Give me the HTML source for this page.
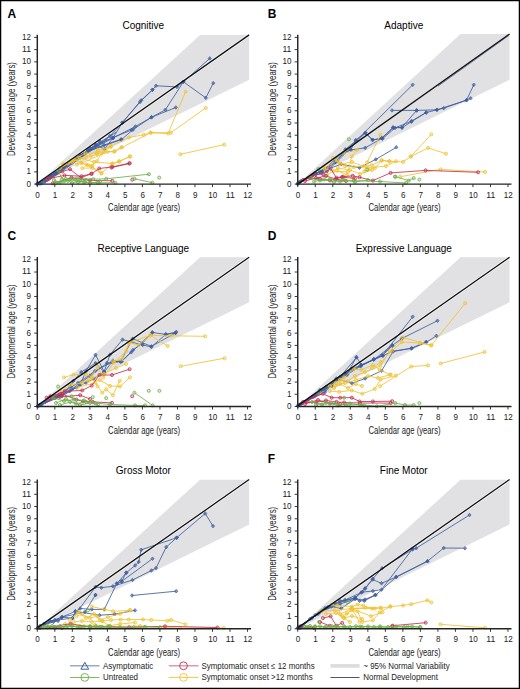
<!DOCTYPE html>
<html><head><meta charset="utf-8"><style>
html,body{margin:0;padding:0;background:#fff;}
svg{display:block;}
</style></head><body>
<svg width="520" height="689" viewBox="0 0 520 689">
<rect x="0" y="0" width="520" height="689" fill="#fff"/>
<text x="7.4" y="17.9" font-family="Liberation Sans" font-size="12" font-weight="bold">A</text>
<text x="143.3" y="29.4" font-family="Liberation Sans" font-size="10" text-anchor="middle">Cognitive</text>
<polygon fill="#e1e1e3" points="37.3,184.1 200.09,34.96 249.12,34.96 249.12,79.75"/>
<line x1="37.3" y1="183.2" x2="249.12" y2="34.86" stroke="#fff" stroke-opacity="0.8" stroke-width="2.8"/>
<polyline fill="none" stroke="#3d5d9e" stroke-width="0.85" points="44,182.7 56,174.3 68,165.9 80,157.4 92,149 104,140.5 116,132.1"/>
<polyline fill="none" stroke="#3d5d9e" stroke-width="0.85" points="48,180.9 60,172.5 72,164 84,155.6 96,147.2 108,138.7"/>
<polyline fill="none" stroke="#3d5d9e" stroke-width="0.85" points="37.4,184 50,176.5 70,162.5 95.8,145 104.4,149 113,138 122.3,122.7 141.2,100.3 152.5,89.8 156,85.8 177,86.9 183.4,81.8 209.8,58.4"/>
<path d="M37.4,182.2l1.6,1.8l-1.6,1.8l-1.6,-1.8z" fill="#3d5d9e" fill-opacity="0.6" stroke="#3d5d9e" stroke-width="0.7"/>
<path d="M50,174.7l1.6,1.8l-1.6,1.8l-1.6,-1.8z" fill="#3d5d9e" fill-opacity="0.6" stroke="#3d5d9e" stroke-width="0.7"/>
<path d="M70,160.7l1.6,1.8l-1.6,1.8l-1.6,-1.8z" fill="#3d5d9e" fill-opacity="0.6" stroke="#3d5d9e" stroke-width="0.7"/>
<path d="M95.8,143.2l1.6,1.8l-1.6,1.8l-1.6,-1.8z" fill="#3d5d9e" fill-opacity="0.6" stroke="#3d5d9e" stroke-width="0.7"/>
<path d="M104.4,147.2l1.6,1.8l-1.6,1.8l-1.6,-1.8z" fill="#3d5d9e" fill-opacity="0.6" stroke="#3d5d9e" stroke-width="0.7"/>
<path d="M113,136.2l1.6,1.8l-1.6,1.8l-1.6,-1.8z" fill="#3d5d9e" fill-opacity="0.6" stroke="#3d5d9e" stroke-width="0.7"/>
<path d="M122.3,120.9l1.6,1.8l-1.6,1.8l-1.6,-1.8z" fill="#3d5d9e" fill-opacity="0.6" stroke="#3d5d9e" stroke-width="0.7"/>
<path d="M141.2,98.5l1.6,1.8l-1.6,1.8l-1.6,-1.8z" fill="#3d5d9e" fill-opacity="0.6" stroke="#3d5d9e" stroke-width="0.7"/>
<path d="M152.5,88l1.6,1.8l-1.6,1.8l-1.6,-1.8z" fill="#3d5d9e" fill-opacity="0.6" stroke="#3d5d9e" stroke-width="0.7"/>
<path d="M156,84l1.6,1.8l-1.6,1.8l-1.6,-1.8z" fill="#3d5d9e" fill-opacity="0.6" stroke="#3d5d9e" stroke-width="0.7"/>
<path d="M177,85.1l1.6,1.8l-1.6,1.8l-1.6,-1.8z" fill="#3d5d9e" fill-opacity="0.6" stroke="#3d5d9e" stroke-width="0.7"/>
<path d="M183.4,80l1.6,1.8l-1.6,1.8l-1.6,-1.8z" fill="#3d5d9e" fill-opacity="0.6" stroke="#3d5d9e" stroke-width="0.7"/>
<path d="M209.8,56.6l1.6,1.8l-1.6,1.8l-1.6,-1.8z" fill="#3d5d9e" fill-opacity="0.6" stroke="#3d5d9e" stroke-width="0.7"/>
<polyline fill="none" stroke="#3d5d9e" stroke-width="0.85" points="37.4,184 55,173 80,155.5 113,138 135.4,126.5 151.5,117.3 165.4,109.8 183.4,81.8 205.8,97.9 213.3,83.1"/>
<path d="M37.4,182.2l1.6,1.8l-1.6,1.8l-1.6,-1.8z" fill="#3d5d9e" fill-opacity="0.6" stroke="#3d5d9e" stroke-width="0.7"/>
<path d="M55,171.2l1.6,1.8l-1.6,1.8l-1.6,-1.8z" fill="#3d5d9e" fill-opacity="0.6" stroke="#3d5d9e" stroke-width="0.7"/>
<path d="M80,153.7l1.6,1.8l-1.6,1.8l-1.6,-1.8z" fill="#3d5d9e" fill-opacity="0.6" stroke="#3d5d9e" stroke-width="0.7"/>
<path d="M113,136.2l1.6,1.8l-1.6,1.8l-1.6,-1.8z" fill="#3d5d9e" fill-opacity="0.6" stroke="#3d5d9e" stroke-width="0.7"/>
<path d="M135.4,124.7l1.6,1.8l-1.6,1.8l-1.6,-1.8z" fill="#3d5d9e" fill-opacity="0.6" stroke="#3d5d9e" stroke-width="0.7"/>
<path d="M151.5,115.5l1.6,1.8l-1.6,1.8l-1.6,-1.8z" fill="#3d5d9e" fill-opacity="0.6" stroke="#3d5d9e" stroke-width="0.7"/>
<path d="M165.4,108l1.6,1.8l-1.6,1.8l-1.6,-1.8z" fill="#3d5d9e" fill-opacity="0.6" stroke="#3d5d9e" stroke-width="0.7"/>
<path d="M183.4,80l1.6,1.8l-1.6,1.8l-1.6,-1.8z" fill="#3d5d9e" fill-opacity="0.6" stroke="#3d5d9e" stroke-width="0.7"/>
<path d="M205.8,96.1l1.6,1.8l-1.6,1.8l-1.6,-1.8z" fill="#3d5d9e" fill-opacity="0.6" stroke="#3d5d9e" stroke-width="0.7"/>
<path d="M213.3,81.3l1.6,1.8l-1.6,1.8l-1.6,-1.8z" fill="#3d5d9e" fill-opacity="0.6" stroke="#3d5d9e" stroke-width="0.7"/>
<polyline fill="none" stroke="#3d5d9e" stroke-width="0.85" points="37.4,184 60,170 88,151 121.5,139.6 133,129.6 151.4,117.3 175.8,107.5"/>
<path d="M37.4,182.2l1.6,1.8l-1.6,1.8l-1.6,-1.8z" fill="#3d5d9e" fill-opacity="0.6" stroke="#3d5d9e" stroke-width="0.7"/>
<path d="M60,168.2l1.6,1.8l-1.6,1.8l-1.6,-1.8z" fill="#3d5d9e" fill-opacity="0.6" stroke="#3d5d9e" stroke-width="0.7"/>
<path d="M88,149.2l1.6,1.8l-1.6,1.8l-1.6,-1.8z" fill="#3d5d9e" fill-opacity="0.6" stroke="#3d5d9e" stroke-width="0.7"/>
<path d="M121.5,137.8l1.6,1.8l-1.6,1.8l-1.6,-1.8z" fill="#3d5d9e" fill-opacity="0.6" stroke="#3d5d9e" stroke-width="0.7"/>
<path d="M133,127.8l1.6,1.8l-1.6,1.8l-1.6,-1.8z" fill="#3d5d9e" fill-opacity="0.6" stroke="#3d5d9e" stroke-width="0.7"/>
<path d="M151.4,115.5l1.6,1.8l-1.6,1.8l-1.6,-1.8z" fill="#3d5d9e" fill-opacity="0.6" stroke="#3d5d9e" stroke-width="0.7"/>
<path d="M175.8,105.7l1.6,1.8l-1.6,1.8l-1.6,-1.8z" fill="#3d5d9e" fill-opacity="0.6" stroke="#3d5d9e" stroke-width="0.7"/>
<polyline fill="none" stroke="#3d5d9e" stroke-width="0.85" points="37.4,184 65,166 90,148.5 110,136 122.3,122.7 140,102 152.5,89.8"/>
<path d="M37.4,182.2l1.6,1.8l-1.6,1.8l-1.6,-1.8z" fill="#3d5d9e" fill-opacity="0.6" stroke="#3d5d9e" stroke-width="0.7"/>
<path d="M65,164.2l1.6,1.8l-1.6,1.8l-1.6,-1.8z" fill="#3d5d9e" fill-opacity="0.6" stroke="#3d5d9e" stroke-width="0.7"/>
<path d="M90,146.7l1.6,1.8l-1.6,1.8l-1.6,-1.8z" fill="#3d5d9e" fill-opacity="0.6" stroke="#3d5d9e" stroke-width="0.7"/>
<path d="M110,134.2l1.6,1.8l-1.6,1.8l-1.6,-1.8z" fill="#3d5d9e" fill-opacity="0.6" stroke="#3d5d9e" stroke-width="0.7"/>
<path d="M122.3,120.9l1.6,1.8l-1.6,1.8l-1.6,-1.8z" fill="#3d5d9e" fill-opacity="0.6" stroke="#3d5d9e" stroke-width="0.7"/>
<path d="M140,100.2l1.6,1.8l-1.6,1.8l-1.6,-1.8z" fill="#3d5d9e" fill-opacity="0.6" stroke="#3d5d9e" stroke-width="0.7"/>
<path d="M152.5,88l1.6,1.8l-1.6,1.8l-1.6,-1.8z" fill="#3d5d9e" fill-opacity="0.6" stroke="#3d5d9e" stroke-width="0.7"/>
<polyline fill="none" stroke="#3d5d9e" stroke-width="0.85" points="40,183.7 52,175.3 64,166.9 76,158.4 88,150 100,141.6"/>
<path d="M40,181.9l1.6,1.8l-1.6,1.8l-1.6,-1.8z" fill="#3d5d9e" fill-opacity="0.6" stroke="#3d5d9e" stroke-width="0.7"/>
<path d="M52,173.5l1.6,1.8l-1.6,1.8l-1.6,-1.8z" fill="#3d5d9e" fill-opacity="0.6" stroke="#3d5d9e" stroke-width="0.7"/>
<path d="M64,165.1l1.6,1.8l-1.6,1.8l-1.6,-1.8z" fill="#3d5d9e" fill-opacity="0.6" stroke="#3d5d9e" stroke-width="0.7"/>
<path d="M76,156.6l1.6,1.8l-1.6,1.8l-1.6,-1.8z" fill="#3d5d9e" fill-opacity="0.6" stroke="#3d5d9e" stroke-width="0.7"/>
<path d="M88,148.2l1.6,1.8l-1.6,1.8l-1.6,-1.8z" fill="#3d5d9e" fill-opacity="0.6" stroke="#3d5d9e" stroke-width="0.7"/>
<path d="M100,139.8l1.6,1.8l-1.6,1.8l-1.6,-1.8z" fill="#3d5d9e" fill-opacity="0.6" stroke="#3d5d9e" stroke-width="0.7"/>
<polyline fill="none" stroke="#3d5d9e" stroke-width="0.85" points="42,183.3 56,173.5 68,165 82,155.2 96,145.4 112.9,137.5 131.7,130"/>
<path d="M42,181.5l1.6,1.8l-1.6,1.8l-1.6,-1.8z" fill="#3d5d9e" fill-opacity="0.6" stroke="#3d5d9e" stroke-width="0.7"/>
<path d="M56,171.7l1.6,1.8l-1.6,1.8l-1.6,-1.8z" fill="#3d5d9e" fill-opacity="0.6" stroke="#3d5d9e" stroke-width="0.7"/>
<path d="M68,163.2l1.6,1.8l-1.6,1.8l-1.6,-1.8z" fill="#3d5d9e" fill-opacity="0.6" stroke="#3d5d9e" stroke-width="0.7"/>
<path d="M82,153.4l1.6,1.8l-1.6,1.8l-1.6,-1.8z" fill="#3d5d9e" fill-opacity="0.6" stroke="#3d5d9e" stroke-width="0.7"/>
<path d="M96,143.6l1.6,1.8l-1.6,1.8l-1.6,-1.8z" fill="#3d5d9e" fill-opacity="0.6" stroke="#3d5d9e" stroke-width="0.7"/>
<path d="M112.9,135.7l1.6,1.8l-1.6,1.8l-1.6,-1.8z" fill="#3d5d9e" fill-opacity="0.6" stroke="#3d5d9e" stroke-width="0.7"/>
<path d="M131.7,128.2l1.6,1.8l-1.6,1.8l-1.6,-1.8z" fill="#3d5d9e" fill-opacity="0.6" stroke="#3d5d9e" stroke-width="0.7"/>
<polyline fill="none" stroke="#3d5d9e" stroke-width="0.85" points="45,181.7 58,172.6 72,162.7 86,152.9 104,145 121,139.4"/>
<path d="M45,179.9l1.6,1.8l-1.6,1.8l-1.6,-1.8z" fill="#3d5d9e" fill-opacity="0.6" stroke="#3d5d9e" stroke-width="0.7"/>
<path d="M58,170.8l1.6,1.8l-1.6,1.8l-1.6,-1.8z" fill="#3d5d9e" fill-opacity="0.6" stroke="#3d5d9e" stroke-width="0.7"/>
<path d="M72,160.9l1.6,1.8l-1.6,1.8l-1.6,-1.8z" fill="#3d5d9e" fill-opacity="0.6" stroke="#3d5d9e" stroke-width="0.7"/>
<path d="M86,151.1l1.6,1.8l-1.6,1.8l-1.6,-1.8z" fill="#3d5d9e" fill-opacity="0.6" stroke="#3d5d9e" stroke-width="0.7"/>
<path d="M104,143.2l1.6,1.8l-1.6,1.8l-1.6,-1.8z" fill="#3d5d9e" fill-opacity="0.6" stroke="#3d5d9e" stroke-width="0.7"/>
<path d="M121,137.6l1.6,1.8l-1.6,1.8l-1.6,-1.8z" fill="#3d5d9e" fill-opacity="0.6" stroke="#3d5d9e" stroke-width="0.7"/>
<polyline fill="none" stroke="#f0c232" stroke-width="0.85" points="63.7,164.2 70.6,160.8 85.6,153.3 96.9,153 110.7,146.1 129,137.5 143.8,134.8 150.6,132.7 170.8,132.7 205.8,107.9"/>
<circle cx="63.7" cy="164.2" r="1.55" fill="#f0c232" fill-opacity="0.25" stroke="#f0c232" stroke-width="0.8"/>
<circle cx="70.6" cy="160.8" r="1.55" fill="#f0c232" fill-opacity="0.25" stroke="#f0c232" stroke-width="0.8"/>
<circle cx="85.6" cy="153.3" r="1.55" fill="#f0c232" fill-opacity="0.25" stroke="#f0c232" stroke-width="0.8"/>
<circle cx="96.9" cy="153" r="1.55" fill="#f0c232" fill-opacity="0.25" stroke="#f0c232" stroke-width="0.8"/>
<circle cx="110.7" cy="146.1" r="1.55" fill="#f0c232" fill-opacity="0.25" stroke="#f0c232" stroke-width="0.8"/>
<circle cx="129" cy="137.5" r="1.55" fill="#f0c232" fill-opacity="0.25" stroke="#f0c232" stroke-width="0.8"/>
<circle cx="143.8" cy="134.8" r="1.55" fill="#f0c232" fill-opacity="0.25" stroke="#f0c232" stroke-width="0.8"/>
<circle cx="150.6" cy="132.7" r="1.55" fill="#f0c232" fill-opacity="0.25" stroke="#f0c232" stroke-width="0.8"/>
<circle cx="170.8" cy="132.7" r="1.55" fill="#f0c232" fill-opacity="0.25" stroke="#f0c232" stroke-width="0.8"/>
<circle cx="205.8" cy="107.9" r="1.55" fill="#f0c232" fill-opacity="0.25" stroke="#f0c232" stroke-width="0.8"/>
<polyline fill="none" stroke="#f0c232" stroke-width="0.85" points="77,164.6 81.6,163.1 107.3,151.9 114.2,151.7 121.8,147.5 150.8,132.7 168.1,133.5 185.6,91.7"/>
<circle cx="77" cy="164.6" r="1.55" fill="#f0c232" fill-opacity="0.25" stroke="#f0c232" stroke-width="0.8"/>
<circle cx="81.6" cy="163.1" r="1.55" fill="#f0c232" fill-opacity="0.25" stroke="#f0c232" stroke-width="0.8"/>
<circle cx="107.3" cy="151.9" r="1.55" fill="#f0c232" fill-opacity="0.25" stroke="#f0c232" stroke-width="0.8"/>
<circle cx="114.2" cy="151.7" r="1.55" fill="#f0c232" fill-opacity="0.25" stroke="#f0c232" stroke-width="0.8"/>
<circle cx="121.8" cy="147.5" r="1.55" fill="#f0c232" fill-opacity="0.25" stroke="#f0c232" stroke-width="0.8"/>
<circle cx="150.8" cy="132.7" r="1.55" fill="#f0c232" fill-opacity="0.25" stroke="#f0c232" stroke-width="0.8"/>
<circle cx="168.1" cy="133.5" r="1.55" fill="#f0c232" fill-opacity="0.25" stroke="#f0c232" stroke-width="0.8"/>
<circle cx="185.6" cy="91.7" r="1.55" fill="#f0c232" fill-opacity="0.25" stroke="#f0c232" stroke-width="0.8"/>
<polyline fill="none" stroke="#f0c232" stroke-width="0.85" points="180.3,154.3 224.3,144.6"/>
<circle cx="180.3" cy="154.3" r="1.55" fill="#f0c232" fill-opacity="0.25" stroke="#f0c232" stroke-width="0.8"/>
<circle cx="224.3" cy="144.6" r="1.55" fill="#f0c232" fill-opacity="0.25" stroke="#f0c232" stroke-width="0.8"/>
<polyline fill="none" stroke="#f0c232" stroke-width="0.85" points="63.1,164.2 73.8,159.6 81.5,162.7 87.7,165 92.3,165.8 96.9,161.2 101.5,153.5 110.8,146.5"/>
<circle cx="63.1" cy="164.2" r="1.55" fill="#f0c232" fill-opacity="0.25" stroke="#f0c232" stroke-width="0.8"/>
<circle cx="73.8" cy="159.6" r="1.55" fill="#f0c232" fill-opacity="0.25" stroke="#f0c232" stroke-width="0.8"/>
<circle cx="81.5" cy="162.7" r="1.55" fill="#f0c232" fill-opacity="0.25" stroke="#f0c232" stroke-width="0.8"/>
<circle cx="87.7" cy="165" r="1.55" fill="#f0c232" fill-opacity="0.25" stroke="#f0c232" stroke-width="0.8"/>
<circle cx="92.3" cy="165.8" r="1.55" fill="#f0c232" fill-opacity="0.25" stroke="#f0c232" stroke-width="0.8"/>
<circle cx="96.9" cy="161.2" r="1.55" fill="#f0c232" fill-opacity="0.25" stroke="#f0c232" stroke-width="0.8"/>
<circle cx="101.5" cy="153.5" r="1.55" fill="#f0c232" fill-opacity="0.25" stroke="#f0c232" stroke-width="0.8"/>
<circle cx="110.8" cy="146.5" r="1.55" fill="#f0c232" fill-opacity="0.25" stroke="#f0c232" stroke-width="0.8"/>
<polyline fill="none" stroke="#f0c232" stroke-width="0.85" points="82.3,168.1 92.3,168 101.5,173.5"/>
<circle cx="82.3" cy="168.1" r="1.55" fill="#f0c232" fill-opacity="0.25" stroke="#f0c232" stroke-width="0.8"/>
<circle cx="92.3" cy="168" r="1.55" fill="#f0c232" fill-opacity="0.25" stroke="#f0c232" stroke-width="0.8"/>
<circle cx="101.5" cy="173.5" r="1.55" fill="#f0c232" fill-opacity="0.25" stroke="#f0c232" stroke-width="0.8"/>
<polyline fill="none" stroke="#f0c232" stroke-width="0.85" points="90.8,156.5 96.9,154.2 104,152 114.6,151.2 121.5,147.3"/>
<circle cx="90.8" cy="156.5" r="1.55" fill="#f0c232" fill-opacity="0.25" stroke="#f0c232" stroke-width="0.8"/>
<circle cx="96.9" cy="154.2" r="1.55" fill="#f0c232" fill-opacity="0.25" stroke="#f0c232" stroke-width="0.8"/>
<circle cx="104" cy="152" r="1.55" fill="#f0c232" fill-opacity="0.25" stroke="#f0c232" stroke-width="0.8"/>
<circle cx="114.6" cy="151.2" r="1.55" fill="#f0c232" fill-opacity="0.25" stroke="#f0c232" stroke-width="0.8"/>
<circle cx="121.5" cy="147.3" r="1.55" fill="#f0c232" fill-opacity="0.25" stroke="#f0c232" stroke-width="0.8"/>
<polyline fill="none" stroke="#f0c232" stroke-width="0.85" points="86.2,164.6 90.8,166.2 101.5,173 112.3,163.8 119.2,161.6 130,156.5"/>
<circle cx="86.2" cy="164.6" r="1.55" fill="#f0c232" fill-opacity="0.25" stroke="#f0c232" stroke-width="0.8"/>
<circle cx="90.8" cy="166.2" r="1.55" fill="#f0c232" fill-opacity="0.25" stroke="#f0c232" stroke-width="0.8"/>
<circle cx="101.5" cy="173" r="1.55" fill="#f0c232" fill-opacity="0.25" stroke="#f0c232" stroke-width="0.8"/>
<circle cx="112.3" cy="163.8" r="1.55" fill="#f0c232" fill-opacity="0.25" stroke="#f0c232" stroke-width="0.8"/>
<circle cx="119.2" cy="161.6" r="1.55" fill="#f0c232" fill-opacity="0.25" stroke="#f0c232" stroke-width="0.8"/>
<circle cx="130" cy="156.5" r="1.55" fill="#f0c232" fill-opacity="0.25" stroke="#f0c232" stroke-width="0.8"/>
<polyline fill="none" stroke="#f0c232" stroke-width="0.85" points="68,163.5 80,158 94,162 112.3,163.5 119.2,161.2 130,156.5"/>
<circle cx="68" cy="163.5" r="1.55" fill="#f0c232" fill-opacity="0.25" stroke="#f0c232" stroke-width="0.8"/>
<circle cx="80" cy="158" r="1.55" fill="#f0c232" fill-opacity="0.25" stroke="#f0c232" stroke-width="0.8"/>
<circle cx="94" cy="162" r="1.55" fill="#f0c232" fill-opacity="0.25" stroke="#f0c232" stroke-width="0.8"/>
<circle cx="112.3" cy="163.5" r="1.55" fill="#f0c232" fill-opacity="0.25" stroke="#f0c232" stroke-width="0.8"/>
<circle cx="119.2" cy="161.2" r="1.55" fill="#f0c232" fill-opacity="0.25" stroke="#f0c232" stroke-width="0.8"/>
<circle cx="130" cy="156.5" r="1.55" fill="#f0c232" fill-opacity="0.25" stroke="#f0c232" stroke-width="0.8"/>
<polyline fill="none" stroke="#f0c232" stroke-width="0.85" points="60,168 72,162 86,157 98,150 110.8,146.5"/>
<circle cx="60" cy="168" r="1.55" fill="#f0c232" fill-opacity="0.25" stroke="#f0c232" stroke-width="0.8"/>
<circle cx="72" cy="162" r="1.55" fill="#f0c232" fill-opacity="0.25" stroke="#f0c232" stroke-width="0.8"/>
<circle cx="86" cy="157" r="1.55" fill="#f0c232" fill-opacity="0.25" stroke="#f0c232" stroke-width="0.8"/>
<circle cx="98" cy="150" r="1.55" fill="#f0c232" fill-opacity="0.25" stroke="#f0c232" stroke-width="0.8"/>
<circle cx="110.8" cy="146.5" r="1.55" fill="#f0c232" fill-opacity="0.25" stroke="#f0c232" stroke-width="0.8"/>
<polyline fill="none" stroke="#c42e52" stroke-width="0.85" points="47,180 62.3,171.5 70,169.2 80.8,177.7 91.5,173.8 99.2,168.5 112.3,166.9 129.7,163.2"/>
<circle cx="47" cy="180" r="1.55" fill="#c42e52" fill-opacity="0.25" stroke="#c42e52" stroke-width="0.8"/>
<circle cx="62.3" cy="171.5" r="1.55" fill="#c42e52" fill-opacity="0.25" stroke="#c42e52" stroke-width="0.8"/>
<circle cx="70" cy="169.2" r="1.55" fill="#c42e52" fill-opacity="0.25" stroke="#c42e52" stroke-width="0.8"/>
<circle cx="80.8" cy="177.7" r="1.55" fill="#c42e52" fill-opacity="0.25" stroke="#c42e52" stroke-width="0.8"/>
<circle cx="91.5" cy="173.8" r="1.55" fill="#c42e52" fill-opacity="0.25" stroke="#c42e52" stroke-width="0.8"/>
<circle cx="99.2" cy="168.5" r="1.55" fill="#c42e52" fill-opacity="0.25" stroke="#c42e52" stroke-width="0.8"/>
<circle cx="112.3" cy="166.9" r="1.55" fill="#c42e52" fill-opacity="0.25" stroke="#c42e52" stroke-width="0.8"/>
<circle cx="129.7" cy="163.2" r="1.55" fill="#c42e52" fill-opacity="0.25" stroke="#c42e52" stroke-width="0.8"/>
<polyline fill="none" stroke="#c42e52" stroke-width="0.85" points="49.2,178.5 64.6,175.4 81.5,176.2 91.5,173.8"/>
<circle cx="49.2" cy="178.5" r="1.55" fill="#c42e52" fill-opacity="0.25" stroke="#c42e52" stroke-width="0.8"/>
<circle cx="64.6" cy="175.4" r="1.55" fill="#c42e52" fill-opacity="0.25" stroke="#c42e52" stroke-width="0.8"/>
<circle cx="81.5" cy="176.2" r="1.55" fill="#c42e52" fill-opacity="0.25" stroke="#c42e52" stroke-width="0.8"/>
<circle cx="91.5" cy="173.8" r="1.55" fill="#c42e52" fill-opacity="0.25" stroke="#c42e52" stroke-width="0.8"/>
<polyline fill="none" stroke="#c42e52" stroke-width="0.85" points="52.7,183.3 71.5,177.7 90,180.4 112.3,180.8"/>
<circle cx="52.7" cy="183.3" r="1.55" fill="#c42e52" fill-opacity="0.25" stroke="#c42e52" stroke-width="0.8"/>
<circle cx="71.5" cy="177.7" r="1.55" fill="#c42e52" fill-opacity="0.25" stroke="#c42e52" stroke-width="0.8"/>
<circle cx="90" cy="180.4" r="1.55" fill="#c42e52" fill-opacity="0.25" stroke="#c42e52" stroke-width="0.8"/>
<circle cx="112.3" cy="180.8" r="1.55" fill="#c42e52" fill-opacity="0.25" stroke="#c42e52" stroke-width="0.8"/>
<polyline fill="none" stroke="#c42e52" stroke-width="0.85" points="111.5,167.6 129.2,163.5"/>
<circle cx="111.5" cy="167.6" r="1.55" fill="#c42e52" fill-opacity="0.25" stroke="#c42e52" stroke-width="0.8"/>
<circle cx="129.2" cy="163.5" r="1.55" fill="#c42e52" fill-opacity="0.25" stroke="#c42e52" stroke-width="0.8"/>
<polyline fill="none" stroke="#c42e52" stroke-width="0.85" points="132.3,179.6"/>
<circle cx="132.3" cy="179.6" r="1.55" fill="#c42e52" fill-opacity="0.25" stroke="#c42e52" stroke-width="0.8"/>
<polyline fill="none" stroke="#6cb045" stroke-width="0.85" points="77,178.5 93,179.2 106.2,178.8 148.9,174.2"/>
<circle cx="77" cy="178.5" r="1.55" fill="#6cb045" fill-opacity="0.25" stroke="#6cb045" stroke-width="0.8"/>
<circle cx="93" cy="179.2" r="1.55" fill="#6cb045" fill-opacity="0.25" stroke="#6cb045" stroke-width="0.8"/>
<circle cx="106.2" cy="178.8" r="1.55" fill="#6cb045" fill-opacity="0.25" stroke="#6cb045" stroke-width="0.8"/>
<circle cx="148.9" cy="174.2" r="1.55" fill="#6cb045" fill-opacity="0.25" stroke="#6cb045" stroke-width="0.8"/>
<polyline fill="none" stroke="#6cb045" stroke-width="0.85" points="134.6,178.8 152.3,182.7"/>
<circle cx="134.6" cy="178.8" r="1.55" fill="#6cb045" fill-opacity="0.25" stroke="#6cb045" stroke-width="0.8"/>
<circle cx="152.3" cy="182.7" r="1.55" fill="#6cb045" fill-opacity="0.25" stroke="#6cb045" stroke-width="0.8"/>
<polyline fill="none" stroke="#6cb045" stroke-width="0.85" points="159.2,177.6"/>
<circle cx="159.2" cy="177.6" r="1.55" fill="#6cb045" fill-opacity="0.25" stroke="#6cb045" stroke-width="0.8"/>
<polyline fill="none" stroke="#6cb045" stroke-width="0.85" points="58.5,170.8 62,179 68,181 75,179.5 84,182.5 97.7,182.8 115.4,182.8"/>
<circle cx="58.5" cy="170.8" r="1.55" fill="#6cb045" fill-opacity="0.25" stroke="#6cb045" stroke-width="0.8"/>
<circle cx="62" cy="179" r="1.55" fill="#6cb045" fill-opacity="0.25" stroke="#6cb045" stroke-width="0.8"/>
<circle cx="68" cy="181" r="1.55" fill="#6cb045" fill-opacity="0.25" stroke="#6cb045" stroke-width="0.8"/>
<circle cx="75" cy="179.5" r="1.55" fill="#6cb045" fill-opacity="0.25" stroke="#6cb045" stroke-width="0.8"/>
<circle cx="84" cy="182.5" r="1.55" fill="#6cb045" fill-opacity="0.25" stroke="#6cb045" stroke-width="0.8"/>
<circle cx="97.7" cy="182.8" r="1.55" fill="#6cb045" fill-opacity="0.25" stroke="#6cb045" stroke-width="0.8"/>
<circle cx="115.4" cy="182.8" r="1.55" fill="#6cb045" fill-opacity="0.25" stroke="#6cb045" stroke-width="0.8"/>
<polyline fill="none" stroke="#6cb045" stroke-width="0.85" points="54,180 60,182.5 66,179 72,183 80,181 90,183 100,181.5"/>
<circle cx="54" cy="180" r="1.55" fill="#6cb045" fill-opacity="0.25" stroke="#6cb045" stroke-width="0.8"/>
<circle cx="60" cy="182.5" r="1.55" fill="#6cb045" fill-opacity="0.25" stroke="#6cb045" stroke-width="0.8"/>
<circle cx="66" cy="179" r="1.55" fill="#6cb045" fill-opacity="0.25" stroke="#6cb045" stroke-width="0.8"/>
<circle cx="72" cy="183" r="1.55" fill="#6cb045" fill-opacity="0.25" stroke="#6cb045" stroke-width="0.8"/>
<circle cx="80" cy="181" r="1.55" fill="#6cb045" fill-opacity="0.25" stroke="#6cb045" stroke-width="0.8"/>
<circle cx="90" cy="183" r="1.55" fill="#6cb045" fill-opacity="0.25" stroke="#6cb045" stroke-width="0.8"/>
<circle cx="100" cy="181.5" r="1.55" fill="#6cb045" fill-opacity="0.25" stroke="#6cb045" stroke-width="0.8"/>
<polyline fill="none" stroke="#6cb045" stroke-width="0.85" points="56,183 64,181.5 70,179 78,182 86,180"/>
<circle cx="56" cy="183" r="1.55" fill="#6cb045" fill-opacity="0.25" stroke="#6cb045" stroke-width="0.8"/>
<circle cx="64" cy="181.5" r="1.55" fill="#6cb045" fill-opacity="0.25" stroke="#6cb045" stroke-width="0.8"/>
<circle cx="70" cy="179" r="1.55" fill="#6cb045" fill-opacity="0.25" stroke="#6cb045" stroke-width="0.8"/>
<circle cx="78" cy="182" r="1.55" fill="#6cb045" fill-opacity="0.25" stroke="#6cb045" stroke-width="0.8"/>
<circle cx="86" cy="180" r="1.55" fill="#6cb045" fill-opacity="0.25" stroke="#6cb045" stroke-width="0.8"/>
<line x1="37.3" y1="183.2" x2="249.12" y2="34.86" stroke="#111" stroke-width="1.3"/>
<path d="M37.3,34.71V184.1H251.04" fill="none" stroke="#252525" stroke-width="1.45"/>
<path d="M37.3,184.1v3M54.82,184.1v3M72.34,184.1v3M89.86,184.1v3M107.38,184.1v3M124.9,184.1v3M142.42,184.1v3M159.94,184.1v3M177.46,184.1v3M194.98,184.1v3M212.5,184.1v3M230.02,184.1v3M247.54,184.1v3M37.3,184.1h-3.1M37.3,171.88h-3.1M37.3,159.65h-3.1M37.3,147.43h-3.1M37.3,135.2h-3.1M37.3,122.97h-3.1M37.3,110.75h-3.1M37.3,98.52h-3.1M37.3,86.3h-3.1M37.3,74.08h-3.1M37.3,61.85h-3.1M37.3,49.62h-3.1M37.3,37.4h-3.1" stroke="#222" stroke-width="0.9"/>
<text x="37.6" y="197.5" font-family="Liberation Sans" font-size="9" text-anchor="middle" textLength="4.5" lengthAdjust="spacingAndGlyphs" fill="#222">0</text>
<text x="31" y="186.5" font-family="Liberation Sans" font-size="9" text-anchor="end" textLength="4.5" lengthAdjust="spacingAndGlyphs" fill="#222">0</text>
<text x="55.12" y="197.5" font-family="Liberation Sans" font-size="9" text-anchor="middle" textLength="4.5" lengthAdjust="spacingAndGlyphs" fill="#222">1</text>
<text x="31" y="174.28" font-family="Liberation Sans" font-size="9" text-anchor="end" textLength="4.5" lengthAdjust="spacingAndGlyphs" fill="#222">1</text>
<text x="72.64" y="197.5" font-family="Liberation Sans" font-size="9" text-anchor="middle" textLength="4.5" lengthAdjust="spacingAndGlyphs" fill="#222">2</text>
<text x="31" y="162.05" font-family="Liberation Sans" font-size="9" text-anchor="end" textLength="4.5" lengthAdjust="spacingAndGlyphs" fill="#222">2</text>
<text x="90.16" y="197.5" font-family="Liberation Sans" font-size="9" text-anchor="middle" textLength="4.5" lengthAdjust="spacingAndGlyphs" fill="#222">3</text>
<text x="31" y="149.83" font-family="Liberation Sans" font-size="9" text-anchor="end" textLength="4.5" lengthAdjust="spacingAndGlyphs" fill="#222">3</text>
<text x="107.68" y="197.5" font-family="Liberation Sans" font-size="9" text-anchor="middle" textLength="4.5" lengthAdjust="spacingAndGlyphs" fill="#222">4</text>
<text x="31" y="137.6" font-family="Liberation Sans" font-size="9" text-anchor="end" textLength="4.5" lengthAdjust="spacingAndGlyphs" fill="#222">4</text>
<text x="125.2" y="197.5" font-family="Liberation Sans" font-size="9" text-anchor="middle" textLength="4.5" lengthAdjust="spacingAndGlyphs" fill="#222">5</text>
<text x="31" y="125.38" font-family="Liberation Sans" font-size="9" text-anchor="end" textLength="4.5" lengthAdjust="spacingAndGlyphs" fill="#222">5</text>
<text x="142.72" y="197.5" font-family="Liberation Sans" font-size="9" text-anchor="middle" textLength="4.5" lengthAdjust="spacingAndGlyphs" fill="#222">6</text>
<text x="31" y="113.15" font-family="Liberation Sans" font-size="9" text-anchor="end" textLength="4.5" lengthAdjust="spacingAndGlyphs" fill="#222">6</text>
<text x="160.24" y="197.5" font-family="Liberation Sans" font-size="9" text-anchor="middle" textLength="4.5" lengthAdjust="spacingAndGlyphs" fill="#222">7</text>
<text x="31" y="100.92" font-family="Liberation Sans" font-size="9" text-anchor="end" textLength="4.5" lengthAdjust="spacingAndGlyphs" fill="#222">7</text>
<text x="177.76" y="197.5" font-family="Liberation Sans" font-size="9" text-anchor="middle" textLength="4.5" lengthAdjust="spacingAndGlyphs" fill="#222">8</text>
<text x="31" y="88.7" font-family="Liberation Sans" font-size="9" text-anchor="end" textLength="4.5" lengthAdjust="spacingAndGlyphs" fill="#222">8</text>
<text x="195.28" y="197.5" font-family="Liberation Sans" font-size="9" text-anchor="middle" textLength="4.5" lengthAdjust="spacingAndGlyphs" fill="#222">9</text>
<text x="31" y="76.48" font-family="Liberation Sans" font-size="9" text-anchor="end" textLength="4.5" lengthAdjust="spacingAndGlyphs" fill="#222">9</text>
<text x="212.8" y="197.5" font-family="Liberation Sans" font-size="9" text-anchor="middle" textLength="9" lengthAdjust="spacingAndGlyphs" fill="#222">10</text>
<text x="31" y="64.25" font-family="Liberation Sans" font-size="9" text-anchor="end" textLength="9" lengthAdjust="spacingAndGlyphs" fill="#222">10</text>
<text x="230.32" y="197.5" font-family="Liberation Sans" font-size="9" text-anchor="middle" textLength="9" lengthAdjust="spacingAndGlyphs" fill="#222">11</text>
<text x="31" y="52.02" font-family="Liberation Sans" font-size="9" text-anchor="end" textLength="9" lengthAdjust="spacingAndGlyphs" fill="#222">11</text>
<text x="247.84" y="197.5" font-family="Liberation Sans" font-size="9" text-anchor="middle" textLength="9" lengthAdjust="spacingAndGlyphs" fill="#222">12</text>
<text x="31" y="39.8" font-family="Liberation Sans" font-size="9" text-anchor="end" textLength="9" lengthAdjust="spacingAndGlyphs" fill="#222">12</text>
<text x="144.1" y="211.1" font-family="Liberation Sans" font-size="10.2" text-anchor="middle" textLength="72" lengthAdjust="spacingAndGlyphs" fill="#222">Calendar age (years)</text>
<text transform="translate(15.15,109.1) rotate(-90)" x="0" y="0" font-family="Liberation Sans" font-size="10" text-anchor="middle" textLength="94" lengthAdjust="spacingAndGlyphs" fill="#222">Developmental age (years)</text>
<text x="267.85" y="17.9" font-family="Liberation Sans" font-size="12" font-weight="bold">B</text>
<text x="403.75" y="29.4" font-family="Liberation Sans" font-size="10" text-anchor="middle">Adaptive</text>
<polygon fill="#e1e1e3" points="297.75,184.1 460.54,34.1 509.57,34.1 509.57,79.75"/>
<line x1="438" y1="86.11" x2="508.77" y2="35.5" stroke="#5d6f95" stroke-width="0.9"/>
<polyline fill="none" stroke="#3d5d9e" stroke-width="0.85" points="297.6,184 300.8,181.2 315.2,172.9 322,171.9 335.4,162.3 343.1,153.7 350.8,149.8 355.6,140.2 365.2,133.1 372.9,139.8 382.5,138.7 395,128 411.7,121 426.2,112.5 436.9,109.8 443.7,108.2 466.5,100.2 473.8,84.8"/>
<path d="M297.6,182.2l1.6,1.8l-1.6,1.8l-1.6,-1.8z" fill="#3d5d9e" fill-opacity="0.6" stroke="#3d5d9e" stroke-width="0.7"/>
<path d="M300.8,179.4l1.6,1.8l-1.6,1.8l-1.6,-1.8z" fill="#3d5d9e" fill-opacity="0.6" stroke="#3d5d9e" stroke-width="0.7"/>
<path d="M315.2,171.1l1.6,1.8l-1.6,1.8l-1.6,-1.8z" fill="#3d5d9e" fill-opacity="0.6" stroke="#3d5d9e" stroke-width="0.7"/>
<path d="M322,170.1l1.6,1.8l-1.6,1.8l-1.6,-1.8z" fill="#3d5d9e" fill-opacity="0.6" stroke="#3d5d9e" stroke-width="0.7"/>
<path d="M335.4,160.5l1.6,1.8l-1.6,1.8l-1.6,-1.8z" fill="#3d5d9e" fill-opacity="0.6" stroke="#3d5d9e" stroke-width="0.7"/>
<path d="M343.1,151.9l1.6,1.8l-1.6,1.8l-1.6,-1.8z" fill="#3d5d9e" fill-opacity="0.6" stroke="#3d5d9e" stroke-width="0.7"/>
<path d="M350.8,148l1.6,1.8l-1.6,1.8l-1.6,-1.8z" fill="#3d5d9e" fill-opacity="0.6" stroke="#3d5d9e" stroke-width="0.7"/>
<path d="M355.6,138.4l1.6,1.8l-1.6,1.8l-1.6,-1.8z" fill="#3d5d9e" fill-opacity="0.6" stroke="#3d5d9e" stroke-width="0.7"/>
<path d="M365.2,131.3l1.6,1.8l-1.6,1.8l-1.6,-1.8z" fill="#3d5d9e" fill-opacity="0.6" stroke="#3d5d9e" stroke-width="0.7"/>
<path d="M372.9,138l1.6,1.8l-1.6,1.8l-1.6,-1.8z" fill="#3d5d9e" fill-opacity="0.6" stroke="#3d5d9e" stroke-width="0.7"/>
<path d="M382.5,136.9l1.6,1.8l-1.6,1.8l-1.6,-1.8z" fill="#3d5d9e" fill-opacity="0.6" stroke="#3d5d9e" stroke-width="0.7"/>
<path d="M395,126.2l1.6,1.8l-1.6,1.8l-1.6,-1.8z" fill="#3d5d9e" fill-opacity="0.6" stroke="#3d5d9e" stroke-width="0.7"/>
<path d="M411.7,119.2l1.6,1.8l-1.6,1.8l-1.6,-1.8z" fill="#3d5d9e" fill-opacity="0.6" stroke="#3d5d9e" stroke-width="0.7"/>
<path d="M426.2,110.7l1.6,1.8l-1.6,1.8l-1.6,-1.8z" fill="#3d5d9e" fill-opacity="0.6" stroke="#3d5d9e" stroke-width="0.7"/>
<path d="M436.9,108l1.6,1.8l-1.6,1.8l-1.6,-1.8z" fill="#3d5d9e" fill-opacity="0.6" stroke="#3d5d9e" stroke-width="0.7"/>
<path d="M443.7,106.4l1.6,1.8l-1.6,1.8l-1.6,-1.8z" fill="#3d5d9e" fill-opacity="0.6" stroke="#3d5d9e" stroke-width="0.7"/>
<path d="M466.5,98.4l1.6,1.8l-1.6,1.8l-1.6,-1.8z" fill="#3d5d9e" fill-opacity="0.6" stroke="#3d5d9e" stroke-width="0.7"/>
<path d="M473.8,83l1.6,1.8l-1.6,1.8l-1.6,-1.8z" fill="#3d5d9e" fill-opacity="0.6" stroke="#3d5d9e" stroke-width="0.7"/>
<polyline fill="none" stroke="#3d5d9e" stroke-width="0.85" points="297.6,184 310,177 325,169 345.4,149.4 356.2,140.5 412.7,84.8"/>
<path d="M297.6,182.2l1.6,1.8l-1.6,1.8l-1.6,-1.8z" fill="#3d5d9e" fill-opacity="0.6" stroke="#3d5d9e" stroke-width="0.7"/>
<path d="M310,175.2l1.6,1.8l-1.6,1.8l-1.6,-1.8z" fill="#3d5d9e" fill-opacity="0.6" stroke="#3d5d9e" stroke-width="0.7"/>
<path d="M325,167.2l1.6,1.8l-1.6,1.8l-1.6,-1.8z" fill="#3d5d9e" fill-opacity="0.6" stroke="#3d5d9e" stroke-width="0.7"/>
<path d="M345.4,147.6l1.6,1.8l-1.6,1.8l-1.6,-1.8z" fill="#3d5d9e" fill-opacity="0.6" stroke="#3d5d9e" stroke-width="0.7"/>
<path d="M356.2,138.7l1.6,1.8l-1.6,1.8l-1.6,-1.8z" fill="#3d5d9e" fill-opacity="0.6" stroke="#3d5d9e" stroke-width="0.7"/>
<path d="M412.7,83l1.6,1.8l-1.6,1.8l-1.6,-1.8z" fill="#3d5d9e" fill-opacity="0.6" stroke="#3d5d9e" stroke-width="0.7"/>
<polyline fill="none" stroke="#3d5d9e" stroke-width="0.85" points="392,110.4 416.7,110.4 436.9,109.8 466.5,100.2 470.6,98.3"/>
<path d="M392,108.6l1.6,1.8l-1.6,1.8l-1.6,-1.8z" fill="#3d5d9e" fill-opacity="0.6" stroke="#3d5d9e" stroke-width="0.7"/>
<path d="M416.7,108.6l1.6,1.8l-1.6,1.8l-1.6,-1.8z" fill="#3d5d9e" fill-opacity="0.6" stroke="#3d5d9e" stroke-width="0.7"/>
<path d="M436.9,108l1.6,1.8l-1.6,1.8l-1.6,-1.8z" fill="#3d5d9e" fill-opacity="0.6" stroke="#3d5d9e" stroke-width="0.7"/>
<path d="M466.5,98.4l1.6,1.8l-1.6,1.8l-1.6,-1.8z" fill="#3d5d9e" fill-opacity="0.6" stroke="#3d5d9e" stroke-width="0.7"/>
<path d="M470.6,96.5l1.6,1.8l-1.6,1.8l-1.6,-1.8z" fill="#3d5d9e" fill-opacity="0.6" stroke="#3d5d9e" stroke-width="0.7"/>
<polyline fill="none" stroke="#3d5d9e" stroke-width="0.85" points="298,183 315.6,174.8 327.1,171.3 337.5,161 365.6,132.7 372.3,140 381.7,138.1 393,127.4 401.9,127.4 416.7,110.4"/>
<path d="M298,181.2l1.6,1.8l-1.6,1.8l-1.6,-1.8z" fill="#3d5d9e" fill-opacity="0.6" stroke="#3d5d9e" stroke-width="0.7"/>
<path d="M315.6,173l1.6,1.8l-1.6,1.8l-1.6,-1.8z" fill="#3d5d9e" fill-opacity="0.6" stroke="#3d5d9e" stroke-width="0.7"/>
<path d="M327.1,169.5l1.6,1.8l-1.6,1.8l-1.6,-1.8z" fill="#3d5d9e" fill-opacity="0.6" stroke="#3d5d9e" stroke-width="0.7"/>
<path d="M337.5,159.2l1.6,1.8l-1.6,1.8l-1.6,-1.8z" fill="#3d5d9e" fill-opacity="0.6" stroke="#3d5d9e" stroke-width="0.7"/>
<path d="M365.6,130.9l1.6,1.8l-1.6,1.8l-1.6,-1.8z" fill="#3d5d9e" fill-opacity="0.6" stroke="#3d5d9e" stroke-width="0.7"/>
<path d="M372.3,138.2l1.6,1.8l-1.6,1.8l-1.6,-1.8z" fill="#3d5d9e" fill-opacity="0.6" stroke="#3d5d9e" stroke-width="0.7"/>
<path d="M381.7,136.3l1.6,1.8l-1.6,1.8l-1.6,-1.8z" fill="#3d5d9e" fill-opacity="0.6" stroke="#3d5d9e" stroke-width="0.7"/>
<path d="M393,125.6l1.6,1.8l-1.6,1.8l-1.6,-1.8z" fill="#3d5d9e" fill-opacity="0.6" stroke="#3d5d9e" stroke-width="0.7"/>
<path d="M401.9,125.6l1.6,1.8l-1.6,1.8l-1.6,-1.8z" fill="#3d5d9e" fill-opacity="0.6" stroke="#3d5d9e" stroke-width="0.7"/>
<path d="M416.7,108.6l1.6,1.8l-1.6,1.8l-1.6,-1.8z" fill="#3d5d9e" fill-opacity="0.6" stroke="#3d5d9e" stroke-width="0.7"/>
<polyline fill="none" stroke="#3d5d9e" stroke-width="0.85" points="299,182.5 312,176 335,161.9 343.1,153.3 351.1,149.8 365.2,147.9 381.9,138.3 393.1,127.7 402.1,127.7 411.4,121.7 426.2,112.5"/>
<path d="M299,180.7l1.6,1.8l-1.6,1.8l-1.6,-1.8z" fill="#3d5d9e" fill-opacity="0.6" stroke="#3d5d9e" stroke-width="0.7"/>
<path d="M312,174.2l1.6,1.8l-1.6,1.8l-1.6,-1.8z" fill="#3d5d9e" fill-opacity="0.6" stroke="#3d5d9e" stroke-width="0.7"/>
<path d="M335,160.1l1.6,1.8l-1.6,1.8l-1.6,-1.8z" fill="#3d5d9e" fill-opacity="0.6" stroke="#3d5d9e" stroke-width="0.7"/>
<path d="M343.1,151.5l1.6,1.8l-1.6,1.8l-1.6,-1.8z" fill="#3d5d9e" fill-opacity="0.6" stroke="#3d5d9e" stroke-width="0.7"/>
<path d="M351.1,148l1.6,1.8l-1.6,1.8l-1.6,-1.8z" fill="#3d5d9e" fill-opacity="0.6" stroke="#3d5d9e" stroke-width="0.7"/>
<path d="M365.2,146.1l1.6,1.8l-1.6,1.8l-1.6,-1.8z" fill="#3d5d9e" fill-opacity="0.6" stroke="#3d5d9e" stroke-width="0.7"/>
<path d="M381.9,136.5l1.6,1.8l-1.6,1.8l-1.6,-1.8z" fill="#3d5d9e" fill-opacity="0.6" stroke="#3d5d9e" stroke-width="0.7"/>
<path d="M393.1,125.9l1.6,1.8l-1.6,1.8l-1.6,-1.8z" fill="#3d5d9e" fill-opacity="0.6" stroke="#3d5d9e" stroke-width="0.7"/>
<path d="M402.1,125.9l1.6,1.8l-1.6,1.8l-1.6,-1.8z" fill="#3d5d9e" fill-opacity="0.6" stroke="#3d5d9e" stroke-width="0.7"/>
<path d="M411.4,119.9l1.6,1.8l-1.6,1.8l-1.6,-1.8z" fill="#3d5d9e" fill-opacity="0.6" stroke="#3d5d9e" stroke-width="0.7"/>
<path d="M426.2,110.7l1.6,1.8l-1.6,1.8l-1.6,-1.8z" fill="#3d5d9e" fill-opacity="0.6" stroke="#3d5d9e" stroke-width="0.7"/>
<polyline fill="none" stroke="#3d5d9e" stroke-width="0.85" points="300,182 320,172 341.2,164.2 359.5,167.7 375.8,159.4 396.3,147.3"/>
<path d="M300,180.2l1.6,1.8l-1.6,1.8l-1.6,-1.8z" fill="#3d5d9e" fill-opacity="0.6" stroke="#3d5d9e" stroke-width="0.7"/>
<path d="M320,170.2l1.6,1.8l-1.6,1.8l-1.6,-1.8z" fill="#3d5d9e" fill-opacity="0.6" stroke="#3d5d9e" stroke-width="0.7"/>
<path d="M341.2,162.4l1.6,1.8l-1.6,1.8l-1.6,-1.8z" fill="#3d5d9e" fill-opacity="0.6" stroke="#3d5d9e" stroke-width="0.7"/>
<path d="M359.5,165.9l1.6,1.8l-1.6,1.8l-1.6,-1.8z" fill="#3d5d9e" fill-opacity="0.6" stroke="#3d5d9e" stroke-width="0.7"/>
<path d="M375.8,157.6l1.6,1.8l-1.6,1.8l-1.6,-1.8z" fill="#3d5d9e" fill-opacity="0.6" stroke="#3d5d9e" stroke-width="0.7"/>
<path d="M396.3,145.5l1.6,1.8l-1.6,1.8l-1.6,-1.8z" fill="#3d5d9e" fill-opacity="0.6" stroke="#3d5d9e" stroke-width="0.7"/>
<polyline fill="none" stroke="#f0c232" stroke-width="0.85" points="324.3,167.9 337.3,160.4 345,166.2 353.7,167.1 363.3,166.2 372,165.2 381.6,160.4 389.3,161.3 403.1,161.9 410.8,156.5 431.3,134.4"/>
<circle cx="324.3" cy="167.9" r="1.55" fill="#f0c232" fill-opacity="0.25" stroke="#f0c232" stroke-width="0.8"/>
<circle cx="337.3" cy="160.4" r="1.55" fill="#f0c232" fill-opacity="0.25" stroke="#f0c232" stroke-width="0.8"/>
<circle cx="345" cy="166.2" r="1.55" fill="#f0c232" fill-opacity="0.25" stroke="#f0c232" stroke-width="0.8"/>
<circle cx="353.7" cy="167.1" r="1.55" fill="#f0c232" fill-opacity="0.25" stroke="#f0c232" stroke-width="0.8"/>
<circle cx="363.3" cy="166.2" r="1.55" fill="#f0c232" fill-opacity="0.25" stroke="#f0c232" stroke-width="0.8"/>
<circle cx="372" cy="165.2" r="1.55" fill="#f0c232" fill-opacity="0.25" stroke="#f0c232" stroke-width="0.8"/>
<circle cx="381.6" cy="160.4" r="1.55" fill="#f0c232" fill-opacity="0.25" stroke="#f0c232" stroke-width="0.8"/>
<circle cx="389.3" cy="161.3" r="1.55" fill="#f0c232" fill-opacity="0.25" stroke="#f0c232" stroke-width="0.8"/>
<circle cx="403.1" cy="161.9" r="1.55" fill="#f0c232" fill-opacity="0.25" stroke="#f0c232" stroke-width="0.8"/>
<circle cx="410.8" cy="156.5" r="1.55" fill="#f0c232" fill-opacity="0.25" stroke="#f0c232" stroke-width="0.8"/>
<circle cx="431.3" cy="134.4" r="1.55" fill="#f0c232" fill-opacity="0.25" stroke="#f0c232" stroke-width="0.8"/>
<polyline fill="none" stroke="#f0c232" stroke-width="0.85" points="380.4,134.6 367.2,162.3 364.3,171.5 374.8,168.1 381.9,160.4 389.6,161.3"/>
<circle cx="380.4" cy="134.6" r="1.55" fill="#f0c232" fill-opacity="0.25" stroke="#f0c232" stroke-width="0.8"/>
<circle cx="367.2" cy="162.3" r="1.55" fill="#f0c232" fill-opacity="0.25" stroke="#f0c232" stroke-width="0.8"/>
<circle cx="364.3" cy="171.5" r="1.55" fill="#f0c232" fill-opacity="0.25" stroke="#f0c232" stroke-width="0.8"/>
<circle cx="374.8" cy="168.1" r="1.55" fill="#f0c232" fill-opacity="0.25" stroke="#f0c232" stroke-width="0.8"/>
<circle cx="381.9" cy="160.4" r="1.55" fill="#f0c232" fill-opacity="0.25" stroke="#f0c232" stroke-width="0.8"/>
<circle cx="389.6" cy="161.3" r="1.55" fill="#f0c232" fill-opacity="0.25" stroke="#f0c232" stroke-width="0.8"/>
<polyline fill="none" stroke="#f0c232" stroke-width="0.85" points="343.3,153.5 357.2,149.8 351.8,156.5 347.9,171.9 333.5,171 324.8,169"/>
<circle cx="343.3" cy="153.5" r="1.55" fill="#f0c232" fill-opacity="0.25" stroke="#f0c232" stroke-width="0.8"/>
<circle cx="357.2" cy="149.8" r="1.55" fill="#f0c232" fill-opacity="0.25" stroke="#f0c232" stroke-width="0.8"/>
<circle cx="351.8" cy="156.5" r="1.55" fill="#f0c232" fill-opacity="0.25" stroke="#f0c232" stroke-width="0.8"/>
<circle cx="347.9" cy="171.9" r="1.55" fill="#f0c232" fill-opacity="0.25" stroke="#f0c232" stroke-width="0.8"/>
<circle cx="333.5" cy="171" r="1.55" fill="#f0c232" fill-opacity="0.25" stroke="#f0c232" stroke-width="0.8"/>
<circle cx="324.8" cy="169" r="1.55" fill="#f0c232" fill-opacity="0.25" stroke="#f0c232" stroke-width="0.8"/>
<polyline fill="none" stroke="#f0c232" stroke-width="0.85" points="337.5,170.8 347,174.8 353.7,179.6"/>
<circle cx="337.5" cy="170.8" r="1.55" fill="#f0c232" fill-opacity="0.25" stroke="#f0c232" stroke-width="0.8"/>
<circle cx="347" cy="174.8" r="1.55" fill="#f0c232" fill-opacity="0.25" stroke="#f0c232" stroke-width="0.8"/>
<circle cx="353.7" cy="179.6" r="1.55" fill="#f0c232" fill-opacity="0.25" stroke="#f0c232" stroke-width="0.8"/>
<polyline fill="none" stroke="#f0c232" stroke-width="0.85" points="400.2,176.7 440.6,169.4 485,172"/>
<circle cx="400.2" cy="176.7" r="1.55" fill="#f0c232" fill-opacity="0.25" stroke="#f0c232" stroke-width="0.8"/>
<circle cx="440.6" cy="169.4" r="1.55" fill="#f0c232" fill-opacity="0.25" stroke="#f0c232" stroke-width="0.8"/>
<circle cx="485" cy="172" r="1.55" fill="#f0c232" fill-opacity="0.25" stroke="#f0c232" stroke-width="0.8"/>
<polyline fill="none" stroke="#f0c232" stroke-width="0.85" points="410.8,156.5 428.1,147.9 446,153.7"/>
<circle cx="410.8" cy="156.5" r="1.55" fill="#f0c232" fill-opacity="0.25" stroke="#f0c232" stroke-width="0.8"/>
<circle cx="428.1" cy="147.9" r="1.55" fill="#f0c232" fill-opacity="0.25" stroke="#f0c232" stroke-width="0.8"/>
<circle cx="446" cy="153.7" r="1.55" fill="#f0c232" fill-opacity="0.25" stroke="#f0c232" stroke-width="0.8"/>
<polyline fill="none" stroke="#f0c232" stroke-width="0.85" points="333,158 340,164 352,162 368,168 386,166 396,161.3"/>
<circle cx="333" cy="158" r="1.55" fill="#f0c232" fill-opacity="0.25" stroke="#f0c232" stroke-width="0.8"/>
<circle cx="340" cy="164" r="1.55" fill="#f0c232" fill-opacity="0.25" stroke="#f0c232" stroke-width="0.8"/>
<circle cx="352" cy="162" r="1.55" fill="#f0c232" fill-opacity="0.25" stroke="#f0c232" stroke-width="0.8"/>
<circle cx="368" cy="168" r="1.55" fill="#f0c232" fill-opacity="0.25" stroke="#f0c232" stroke-width="0.8"/>
<circle cx="386" cy="166" r="1.55" fill="#f0c232" fill-opacity="0.25" stroke="#f0c232" stroke-width="0.8"/>
<circle cx="396" cy="161.3" r="1.55" fill="#f0c232" fill-opacity="0.25" stroke="#f0c232" stroke-width="0.8"/>
<polyline fill="none" stroke="#f0c232" stroke-width="0.85" points="327,175 338,168 350,170 360,174 372,170"/>
<circle cx="327" cy="175" r="1.55" fill="#f0c232" fill-opacity="0.25" stroke="#f0c232" stroke-width="0.8"/>
<circle cx="338" cy="168" r="1.55" fill="#f0c232" fill-opacity="0.25" stroke="#f0c232" stroke-width="0.8"/>
<circle cx="350" cy="170" r="1.55" fill="#f0c232" fill-opacity="0.25" stroke="#f0c232" stroke-width="0.8"/>
<circle cx="360" cy="174" r="1.55" fill="#f0c232" fill-opacity="0.25" stroke="#f0c232" stroke-width="0.8"/>
<circle cx="372" cy="170" r="1.55" fill="#f0c232" fill-opacity="0.25" stroke="#f0c232" stroke-width="0.8"/>
<polyline fill="none" stroke="#c42e52" stroke-width="0.85" points="309.8,177.7 313.3,174.8 323.1,174.2 330.6,168.5 336.4,177.7 343.1,176.7 352.7,175.8 359.5,177.3 372.9,180.6 390.6,172.9 425.6,170.4 478.1,172.3"/>
<circle cx="309.8" cy="177.7" r="1.55" fill="#c42e52" fill-opacity="0.25" stroke="#c42e52" stroke-width="0.8"/>
<circle cx="313.3" cy="174.8" r="1.55" fill="#c42e52" fill-opacity="0.25" stroke="#c42e52" stroke-width="0.8"/>
<circle cx="323.1" cy="174.2" r="1.55" fill="#c42e52" fill-opacity="0.25" stroke="#c42e52" stroke-width="0.8"/>
<circle cx="330.6" cy="168.5" r="1.55" fill="#c42e52" fill-opacity="0.25" stroke="#c42e52" stroke-width="0.8"/>
<circle cx="336.4" cy="177.7" r="1.55" fill="#c42e52" fill-opacity="0.25" stroke="#c42e52" stroke-width="0.8"/>
<circle cx="343.1" cy="176.7" r="1.55" fill="#c42e52" fill-opacity="0.25" stroke="#c42e52" stroke-width="0.8"/>
<circle cx="352.7" cy="175.8" r="1.55" fill="#c42e52" fill-opacity="0.25" stroke="#c42e52" stroke-width="0.8"/>
<circle cx="359.5" cy="177.3" r="1.55" fill="#c42e52" fill-opacity="0.25" stroke="#c42e52" stroke-width="0.8"/>
<circle cx="372.9" cy="180.6" r="1.55" fill="#c42e52" fill-opacity="0.25" stroke="#c42e52" stroke-width="0.8"/>
<circle cx="390.6" cy="172.9" r="1.55" fill="#c42e52" fill-opacity="0.25" stroke="#c42e52" stroke-width="0.8"/>
<circle cx="425.6" cy="170.4" r="1.55" fill="#c42e52" fill-opacity="0.25" stroke="#c42e52" stroke-width="0.8"/>
<circle cx="478.1" cy="172.3" r="1.55" fill="#c42e52" fill-opacity="0.25" stroke="#c42e52" stroke-width="0.8"/>
<polyline fill="none" stroke="#c42e52" stroke-width="0.85" points="303,180 310.4,177.7 320,179 330,180.5 342,177.1 355,178.5"/>
<circle cx="303" cy="180" r="1.55" fill="#c42e52" fill-opacity="0.25" stroke="#c42e52" stroke-width="0.8"/>
<circle cx="310.4" cy="177.7" r="1.55" fill="#c42e52" fill-opacity="0.25" stroke="#c42e52" stroke-width="0.8"/>
<circle cx="320" cy="179" r="1.55" fill="#c42e52" fill-opacity="0.25" stroke="#c42e52" stroke-width="0.8"/>
<circle cx="330" cy="180.5" r="1.55" fill="#c42e52" fill-opacity="0.25" stroke="#c42e52" stroke-width="0.8"/>
<circle cx="342" cy="177.1" r="1.55" fill="#c42e52" fill-opacity="0.25" stroke="#c42e52" stroke-width="0.8"/>
<circle cx="355" cy="178.5" r="1.55" fill="#c42e52" fill-opacity="0.25" stroke="#c42e52" stroke-width="0.8"/>
<polyline fill="none" stroke="#c42e52" stroke-width="0.85" points="305,181 316,178 326,176 336,179 346,181"/>
<circle cx="305" cy="181" r="1.55" fill="#c42e52" fill-opacity="0.25" stroke="#c42e52" stroke-width="0.8"/>
<circle cx="316" cy="178" r="1.55" fill="#c42e52" fill-opacity="0.25" stroke="#c42e52" stroke-width="0.8"/>
<circle cx="326" cy="176" r="1.55" fill="#c42e52" fill-opacity="0.25" stroke="#c42e52" stroke-width="0.8"/>
<circle cx="336" cy="179" r="1.55" fill="#c42e52" fill-opacity="0.25" stroke="#c42e52" stroke-width="0.8"/>
<circle cx="346" cy="181" r="1.55" fill="#c42e52" fill-opacity="0.25" stroke="#c42e52" stroke-width="0.8"/>
<polyline fill="none" stroke="#6cb045" stroke-width="0.85" points="348.9,139.2"/>
<circle cx="348.9" cy="139.2" r="1.55" fill="#6cb045" fill-opacity="0.25" stroke="#6cb045" stroke-width="0.8"/>
<polyline fill="none" stroke="#6cb045" stroke-width="0.85" points="318.5,169"/>
<circle cx="318.5" cy="169" r="1.55" fill="#6cb045" fill-opacity="0.25" stroke="#6cb045" stroke-width="0.8"/>
<polyline fill="none" stroke="#6cb045" stroke-width="0.85" points="367.2,169.6"/>
<circle cx="367.2" cy="169.6" r="1.55" fill="#6cb045" fill-opacity="0.25" stroke="#6cb045" stroke-width="0.8"/>
<polyline fill="none" stroke="#6cb045" stroke-width="0.85" points="395,176.7"/>
<circle cx="395" cy="176.7" r="1.55" fill="#6cb045" fill-opacity="0.25" stroke="#6cb045" stroke-width="0.8"/>
<polyline fill="none" stroke="#6cb045" stroke-width="0.85" points="395.4,176.7 408.8,180.6 413.7,178.1"/>
<circle cx="395.4" cy="176.7" r="1.55" fill="#6cb045" fill-opacity="0.25" stroke="#6cb045" stroke-width="0.8"/>
<circle cx="408.8" cy="180.6" r="1.55" fill="#6cb045" fill-opacity="0.25" stroke="#6cb045" stroke-width="0.8"/>
<circle cx="413.7" cy="178.1" r="1.55" fill="#6cb045" fill-opacity="0.25" stroke="#6cb045" stroke-width="0.8"/>
<polyline fill="none" stroke="#6cb045" stroke-width="0.85" points="419.4,179.6"/>
<circle cx="419.4" cy="179.6" r="1.55" fill="#6cb045" fill-opacity="0.25" stroke="#6cb045" stroke-width="0.8"/>
<polyline fill="none" stroke="#6cb045" stroke-width="0.85" points="311,178 320,180.5 330,179 340,181.5 353.7,180.6 380,181.5 406,183"/>
<circle cx="311" cy="178" r="1.55" fill="#6cb045" fill-opacity="0.25" stroke="#6cb045" stroke-width="0.8"/>
<circle cx="320" cy="180.5" r="1.55" fill="#6cb045" fill-opacity="0.25" stroke="#6cb045" stroke-width="0.8"/>
<circle cx="330" cy="179" r="1.55" fill="#6cb045" fill-opacity="0.25" stroke="#6cb045" stroke-width="0.8"/>
<circle cx="340" cy="181.5" r="1.55" fill="#6cb045" fill-opacity="0.25" stroke="#6cb045" stroke-width="0.8"/>
<circle cx="353.7" cy="180.6" r="1.55" fill="#6cb045" fill-opacity="0.25" stroke="#6cb045" stroke-width="0.8"/>
<circle cx="380" cy="181.5" r="1.55" fill="#6cb045" fill-opacity="0.25" stroke="#6cb045" stroke-width="0.8"/>
<circle cx="406" cy="183" r="1.55" fill="#6cb045" fill-opacity="0.25" stroke="#6cb045" stroke-width="0.8"/>
<polyline fill="none" stroke="#6cb045" stroke-width="0.85" points="314,181.5 324,179.5 334,182 344,179.5 355,182 368,180"/>
<circle cx="314" cy="181.5" r="1.55" fill="#6cb045" fill-opacity="0.25" stroke="#6cb045" stroke-width="0.8"/>
<circle cx="324" cy="179.5" r="1.55" fill="#6cb045" fill-opacity="0.25" stroke="#6cb045" stroke-width="0.8"/>
<circle cx="334" cy="182" r="1.55" fill="#6cb045" fill-opacity="0.25" stroke="#6cb045" stroke-width="0.8"/>
<circle cx="344" cy="179.5" r="1.55" fill="#6cb045" fill-opacity="0.25" stroke="#6cb045" stroke-width="0.8"/>
<circle cx="355" cy="182" r="1.55" fill="#6cb045" fill-opacity="0.25" stroke="#6cb045" stroke-width="0.8"/>
<circle cx="368" cy="180" r="1.55" fill="#6cb045" fill-opacity="0.25" stroke="#6cb045" stroke-width="0.8"/>
<line x1="297.75" y1="184.1" x2="509.57" y2="34" stroke="#111" stroke-width="1.3"/>
<path d="M297.75,34.71V184.1H511.49" fill="none" stroke="#252525" stroke-width="1.45"/>
<path d="M297.75,184.1v3M315.27,184.1v3M332.79,184.1v3M350.31,184.1v3M367.83,184.1v3M385.35,184.1v3M402.87,184.1v3M420.39,184.1v3M437.91,184.1v3M455.43,184.1v3M472.95,184.1v3M490.47,184.1v3M507.99,184.1v3M297.75,184.1h-3.1M297.75,171.88h-3.1M297.75,159.65h-3.1M297.75,147.43h-3.1M297.75,135.2h-3.1M297.75,122.97h-3.1M297.75,110.75h-3.1M297.75,98.52h-3.1M297.75,86.3h-3.1M297.75,74.08h-3.1M297.75,61.85h-3.1M297.75,49.62h-3.1M297.75,37.4h-3.1" stroke="#222" stroke-width="0.9"/>
<text x="298.05" y="197.5" font-family="Liberation Sans" font-size="9" text-anchor="middle" textLength="4.5" lengthAdjust="spacingAndGlyphs" fill="#222">0</text>
<text x="291.45" y="186.5" font-family="Liberation Sans" font-size="9" text-anchor="end" textLength="4.5" lengthAdjust="spacingAndGlyphs" fill="#222">0</text>
<text x="315.57" y="197.5" font-family="Liberation Sans" font-size="9" text-anchor="middle" textLength="4.5" lengthAdjust="spacingAndGlyphs" fill="#222">1</text>
<text x="291.45" y="174.28" font-family="Liberation Sans" font-size="9" text-anchor="end" textLength="4.5" lengthAdjust="spacingAndGlyphs" fill="#222">1</text>
<text x="333.09" y="197.5" font-family="Liberation Sans" font-size="9" text-anchor="middle" textLength="4.5" lengthAdjust="spacingAndGlyphs" fill="#222">2</text>
<text x="291.45" y="162.05" font-family="Liberation Sans" font-size="9" text-anchor="end" textLength="4.5" lengthAdjust="spacingAndGlyphs" fill="#222">2</text>
<text x="350.61" y="197.5" font-family="Liberation Sans" font-size="9" text-anchor="middle" textLength="4.5" lengthAdjust="spacingAndGlyphs" fill="#222">3</text>
<text x="291.45" y="149.83" font-family="Liberation Sans" font-size="9" text-anchor="end" textLength="4.5" lengthAdjust="spacingAndGlyphs" fill="#222">3</text>
<text x="368.13" y="197.5" font-family="Liberation Sans" font-size="9" text-anchor="middle" textLength="4.5" lengthAdjust="spacingAndGlyphs" fill="#222">4</text>
<text x="291.45" y="137.6" font-family="Liberation Sans" font-size="9" text-anchor="end" textLength="4.5" lengthAdjust="spacingAndGlyphs" fill="#222">4</text>
<text x="385.65" y="197.5" font-family="Liberation Sans" font-size="9" text-anchor="middle" textLength="4.5" lengthAdjust="spacingAndGlyphs" fill="#222">5</text>
<text x="291.45" y="125.38" font-family="Liberation Sans" font-size="9" text-anchor="end" textLength="4.5" lengthAdjust="spacingAndGlyphs" fill="#222">5</text>
<text x="403.17" y="197.5" font-family="Liberation Sans" font-size="9" text-anchor="middle" textLength="4.5" lengthAdjust="spacingAndGlyphs" fill="#222">6</text>
<text x="291.45" y="113.15" font-family="Liberation Sans" font-size="9" text-anchor="end" textLength="4.5" lengthAdjust="spacingAndGlyphs" fill="#222">6</text>
<text x="420.69" y="197.5" font-family="Liberation Sans" font-size="9" text-anchor="middle" textLength="4.5" lengthAdjust="spacingAndGlyphs" fill="#222">7</text>
<text x="291.45" y="100.92" font-family="Liberation Sans" font-size="9" text-anchor="end" textLength="4.5" lengthAdjust="spacingAndGlyphs" fill="#222">7</text>
<text x="438.21" y="197.5" font-family="Liberation Sans" font-size="9" text-anchor="middle" textLength="4.5" lengthAdjust="spacingAndGlyphs" fill="#222">8</text>
<text x="291.45" y="88.7" font-family="Liberation Sans" font-size="9" text-anchor="end" textLength="4.5" lengthAdjust="spacingAndGlyphs" fill="#222">8</text>
<text x="455.73" y="197.5" font-family="Liberation Sans" font-size="9" text-anchor="middle" textLength="4.5" lengthAdjust="spacingAndGlyphs" fill="#222">9</text>
<text x="291.45" y="76.48" font-family="Liberation Sans" font-size="9" text-anchor="end" textLength="4.5" lengthAdjust="spacingAndGlyphs" fill="#222">9</text>
<text x="473.25" y="197.5" font-family="Liberation Sans" font-size="9" text-anchor="middle" textLength="9" lengthAdjust="spacingAndGlyphs" fill="#222">10</text>
<text x="291.45" y="64.25" font-family="Liberation Sans" font-size="9" text-anchor="end" textLength="9" lengthAdjust="spacingAndGlyphs" fill="#222">10</text>
<text x="490.77" y="197.5" font-family="Liberation Sans" font-size="9" text-anchor="middle" textLength="9" lengthAdjust="spacingAndGlyphs" fill="#222">11</text>
<text x="291.45" y="52.02" font-family="Liberation Sans" font-size="9" text-anchor="end" textLength="9" lengthAdjust="spacingAndGlyphs" fill="#222">11</text>
<text x="508.29" y="197.5" font-family="Liberation Sans" font-size="9" text-anchor="middle" textLength="9" lengthAdjust="spacingAndGlyphs" fill="#222">12</text>
<text x="291.45" y="39.8" font-family="Liberation Sans" font-size="9" text-anchor="end" textLength="9" lengthAdjust="spacingAndGlyphs" fill="#222">12</text>
<text x="404.55" y="211.1" font-family="Liberation Sans" font-size="10.2" text-anchor="middle" textLength="72" lengthAdjust="spacingAndGlyphs" fill="#222">Calendar age (years)</text>
<text transform="translate(275.6,109.1) rotate(-90)" x="0" y="0" font-family="Liberation Sans" font-size="10" text-anchor="middle" textLength="94" lengthAdjust="spacingAndGlyphs" fill="#222">Developmental age (years)</text>
<text x="7.4" y="240.3" font-family="Liberation Sans" font-size="12" font-weight="bold">C</text>
<text x="143.3" y="251.8" font-family="Liberation Sans" font-size="10" text-anchor="middle">Receptive Language</text>
<polygon fill="#e1e1e3" points="37.3,406.5 200.09,257.36 249.12,257.36 249.12,302.15"/>
<line x1="37.3" y1="405.6" x2="249.12" y2="257.25" stroke="#fff" stroke-opacity="0.8" stroke-width="2.8"/>
<polyline fill="none" stroke="#3d5d9e" stroke-width="0.85" points="37.4,406.3 41.8,404.8 58.1,396.2 70.6,386.2 73.5,380.8 81.2,372.1 95.6,363.1 104.3,372.1 112.9,360.6 121.6,361.5 131.2,352.3 152.3,332.5 165.8,334.4 176.3,331.9"/>
<path d="M37.4,404.5l1.6,1.8l-1.6,1.8l-1.6,-1.8z" fill="#3d5d9e" fill-opacity="0.6" stroke="#3d5d9e" stroke-width="0.7"/>
<path d="M41.8,403l1.6,1.8l-1.6,1.8l-1.6,-1.8z" fill="#3d5d9e" fill-opacity="0.6" stroke="#3d5d9e" stroke-width="0.7"/>
<path d="M58.1,394.4l1.6,1.8l-1.6,1.8l-1.6,-1.8z" fill="#3d5d9e" fill-opacity="0.6" stroke="#3d5d9e" stroke-width="0.7"/>
<path d="M70.6,384.4l1.6,1.8l-1.6,1.8l-1.6,-1.8z" fill="#3d5d9e" fill-opacity="0.6" stroke="#3d5d9e" stroke-width="0.7"/>
<path d="M73.5,379l1.6,1.8l-1.6,1.8l-1.6,-1.8z" fill="#3d5d9e" fill-opacity="0.6" stroke="#3d5d9e" stroke-width="0.7"/>
<path d="M81.2,370.3l1.6,1.8l-1.6,1.8l-1.6,-1.8z" fill="#3d5d9e" fill-opacity="0.6" stroke="#3d5d9e" stroke-width="0.7"/>
<path d="M95.6,361.3l1.6,1.8l-1.6,1.8l-1.6,-1.8z" fill="#3d5d9e" fill-opacity="0.6" stroke="#3d5d9e" stroke-width="0.7"/>
<path d="M104.3,370.3l1.6,1.8l-1.6,1.8l-1.6,-1.8z" fill="#3d5d9e" fill-opacity="0.6" stroke="#3d5d9e" stroke-width="0.7"/>
<path d="M112.9,358.8l1.6,1.8l-1.6,1.8l-1.6,-1.8z" fill="#3d5d9e" fill-opacity="0.6" stroke="#3d5d9e" stroke-width="0.7"/>
<path d="M121.6,359.7l1.6,1.8l-1.6,1.8l-1.6,-1.8z" fill="#3d5d9e" fill-opacity="0.6" stroke="#3d5d9e" stroke-width="0.7"/>
<path d="M131.2,350.5l1.6,1.8l-1.6,1.8l-1.6,-1.8z" fill="#3d5d9e" fill-opacity="0.6" stroke="#3d5d9e" stroke-width="0.7"/>
<path d="M152.3,330.7l1.6,1.8l-1.6,1.8l-1.6,-1.8z" fill="#3d5d9e" fill-opacity="0.6" stroke="#3d5d9e" stroke-width="0.7"/>
<path d="M165.8,332.6l1.6,1.8l-1.6,1.8l-1.6,-1.8z" fill="#3d5d9e" fill-opacity="0.6" stroke="#3d5d9e" stroke-width="0.7"/>
<path d="M176.3,330.1l1.6,1.8l-1.6,1.8l-1.6,-1.8z" fill="#3d5d9e" fill-opacity="0.6" stroke="#3d5d9e" stroke-width="0.7"/>
<polyline fill="none" stroke="#3d5d9e" stroke-width="0.85" points="38,406 50.4,397.1 61,395.2 69.7,391.3 76.4,387.5 86,382.7 93.7,378.8 104,372 110,354.6 122.5,339.6 142.7,345 151.3,346.9 165.8,334.4 175.4,333.1"/>
<path d="M38,404.2l1.6,1.8l-1.6,1.8l-1.6,-1.8z" fill="#3d5d9e" fill-opacity="0.6" stroke="#3d5d9e" stroke-width="0.7"/>
<path d="M50.4,395.3l1.6,1.8l-1.6,1.8l-1.6,-1.8z" fill="#3d5d9e" fill-opacity="0.6" stroke="#3d5d9e" stroke-width="0.7"/>
<path d="M61,393.4l1.6,1.8l-1.6,1.8l-1.6,-1.8z" fill="#3d5d9e" fill-opacity="0.6" stroke="#3d5d9e" stroke-width="0.7"/>
<path d="M69.7,389.5l1.6,1.8l-1.6,1.8l-1.6,-1.8z" fill="#3d5d9e" fill-opacity="0.6" stroke="#3d5d9e" stroke-width="0.7"/>
<path d="M76.4,385.7l1.6,1.8l-1.6,1.8l-1.6,-1.8z" fill="#3d5d9e" fill-opacity="0.6" stroke="#3d5d9e" stroke-width="0.7"/>
<path d="M86,380.9l1.6,1.8l-1.6,1.8l-1.6,-1.8z" fill="#3d5d9e" fill-opacity="0.6" stroke="#3d5d9e" stroke-width="0.7"/>
<path d="M93.7,377l1.6,1.8l-1.6,1.8l-1.6,-1.8z" fill="#3d5d9e" fill-opacity="0.6" stroke="#3d5d9e" stroke-width="0.7"/>
<path d="M104,370.2l1.6,1.8l-1.6,1.8l-1.6,-1.8z" fill="#3d5d9e" fill-opacity="0.6" stroke="#3d5d9e" stroke-width="0.7"/>
<path d="M110,352.8l1.6,1.8l-1.6,1.8l-1.6,-1.8z" fill="#3d5d9e" fill-opacity="0.6" stroke="#3d5d9e" stroke-width="0.7"/>
<path d="M122.5,337.8l1.6,1.8l-1.6,1.8l-1.6,-1.8z" fill="#3d5d9e" fill-opacity="0.6" stroke="#3d5d9e" stroke-width="0.7"/>
<path d="M142.7,343.2l1.6,1.8l-1.6,1.8l-1.6,-1.8z" fill="#3d5d9e" fill-opacity="0.6" stroke="#3d5d9e" stroke-width="0.7"/>
<path d="M151.3,345.1l1.6,1.8l-1.6,1.8l-1.6,-1.8z" fill="#3d5d9e" fill-opacity="0.6" stroke="#3d5d9e" stroke-width="0.7"/>
<path d="M165.8,332.6l1.6,1.8l-1.6,1.8l-1.6,-1.8z" fill="#3d5d9e" fill-opacity="0.6" stroke="#3d5d9e" stroke-width="0.7"/>
<path d="M175.4,331.3l1.6,1.8l-1.6,1.8l-1.6,-1.8z" fill="#3d5d9e" fill-opacity="0.6" stroke="#3d5d9e" stroke-width="0.7"/>
<polyline fill="none" stroke="#3d5d9e" stroke-width="0.85" points="40,405 62,396.2 80,385 86,371.2 95.6,354.8 104.3,372.1"/>
<path d="M40,403.2l1.6,1.8l-1.6,1.8l-1.6,-1.8z" fill="#3d5d9e" fill-opacity="0.6" stroke="#3d5d9e" stroke-width="0.7"/>
<path d="M62,394.4l1.6,1.8l-1.6,1.8l-1.6,-1.8z" fill="#3d5d9e" fill-opacity="0.6" stroke="#3d5d9e" stroke-width="0.7"/>
<path d="M80,383.2l1.6,1.8l-1.6,1.8l-1.6,-1.8z" fill="#3d5d9e" fill-opacity="0.6" stroke="#3d5d9e" stroke-width="0.7"/>
<path d="M86,369.4l1.6,1.8l-1.6,1.8l-1.6,-1.8z" fill="#3d5d9e" fill-opacity="0.6" stroke="#3d5d9e" stroke-width="0.7"/>
<path d="M95.6,353l1.6,1.8l-1.6,1.8l-1.6,-1.8z" fill="#3d5d9e" fill-opacity="0.6" stroke="#3d5d9e" stroke-width="0.7"/>
<path d="M104.3,370.3l1.6,1.8l-1.6,1.8l-1.6,-1.8z" fill="#3d5d9e" fill-opacity="0.6" stroke="#3d5d9e" stroke-width="0.7"/>
<polyline fill="none" stroke="#3d5d9e" stroke-width="0.85" points="39,405.5 55,398 72,389 90,376 106.9,363.1 120.4,361.7 132.7,338.7 151.4,346.4 175.6,332.9"/>
<path d="M39,403.7l1.6,1.8l-1.6,1.8l-1.6,-1.8z" fill="#3d5d9e" fill-opacity="0.6" stroke="#3d5d9e" stroke-width="0.7"/>
<path d="M55,396.2l1.6,1.8l-1.6,1.8l-1.6,-1.8z" fill="#3d5d9e" fill-opacity="0.6" stroke="#3d5d9e" stroke-width="0.7"/>
<path d="M72,387.2l1.6,1.8l-1.6,1.8l-1.6,-1.8z" fill="#3d5d9e" fill-opacity="0.6" stroke="#3d5d9e" stroke-width="0.7"/>
<path d="M90,374.2l1.6,1.8l-1.6,1.8l-1.6,-1.8z" fill="#3d5d9e" fill-opacity="0.6" stroke="#3d5d9e" stroke-width="0.7"/>
<path d="M106.9,361.3l1.6,1.8l-1.6,1.8l-1.6,-1.8z" fill="#3d5d9e" fill-opacity="0.6" stroke="#3d5d9e" stroke-width="0.7"/>
<path d="M120.4,359.9l1.6,1.8l-1.6,1.8l-1.6,-1.8z" fill="#3d5d9e" fill-opacity="0.6" stroke="#3d5d9e" stroke-width="0.7"/>
<path d="M132.7,336.9l1.6,1.8l-1.6,1.8l-1.6,-1.8z" fill="#3d5d9e" fill-opacity="0.6" stroke="#3d5d9e" stroke-width="0.7"/>
<path d="M151.4,344.6l1.6,1.8l-1.6,1.8l-1.6,-1.8z" fill="#3d5d9e" fill-opacity="0.6" stroke="#3d5d9e" stroke-width="0.7"/>
<path d="M175.6,331.1l1.6,1.8l-1.6,1.8l-1.6,-1.8z" fill="#3d5d9e" fill-opacity="0.6" stroke="#3d5d9e" stroke-width="0.7"/>
<polyline fill="none" stroke="#3d5d9e" stroke-width="0.85" points="45,402 60,394 78,383 95,371 112,362 121.5,361.3 133,350 141.9,343.7 152.3,332.5"/>
<path d="M45,400.2l1.6,1.8l-1.6,1.8l-1.6,-1.8z" fill="#3d5d9e" fill-opacity="0.6" stroke="#3d5d9e" stroke-width="0.7"/>
<path d="M60,392.2l1.6,1.8l-1.6,1.8l-1.6,-1.8z" fill="#3d5d9e" fill-opacity="0.6" stroke="#3d5d9e" stroke-width="0.7"/>
<path d="M78,381.2l1.6,1.8l-1.6,1.8l-1.6,-1.8z" fill="#3d5d9e" fill-opacity="0.6" stroke="#3d5d9e" stroke-width="0.7"/>
<path d="M95,369.2l1.6,1.8l-1.6,1.8l-1.6,-1.8z" fill="#3d5d9e" fill-opacity="0.6" stroke="#3d5d9e" stroke-width="0.7"/>
<path d="M112,360.2l1.6,1.8l-1.6,1.8l-1.6,-1.8z" fill="#3d5d9e" fill-opacity="0.6" stroke="#3d5d9e" stroke-width="0.7"/>
<path d="M121.5,359.5l1.6,1.8l-1.6,1.8l-1.6,-1.8z" fill="#3d5d9e" fill-opacity="0.6" stroke="#3d5d9e" stroke-width="0.7"/>
<path d="M133,348.2l1.6,1.8l-1.6,1.8l-1.6,-1.8z" fill="#3d5d9e" fill-opacity="0.6" stroke="#3d5d9e" stroke-width="0.7"/>
<path d="M141.9,341.9l1.6,1.8l-1.6,1.8l-1.6,-1.8z" fill="#3d5d9e" fill-opacity="0.6" stroke="#3d5d9e" stroke-width="0.7"/>
<path d="M152.3,330.7l1.6,1.8l-1.6,1.8l-1.6,-1.8z" fill="#3d5d9e" fill-opacity="0.6" stroke="#3d5d9e" stroke-width="0.7"/>
<polyline fill="none" stroke="#f0c232" stroke-width="0.85" points="63.9,377.5 73.5,374.6 86,374.6 91.8,376.9 97.5,366.9 103.3,377.5 113.9,362.5 126.4,351 129.2,342.7 138.8,345 150.4,335.4 171.5,335.8 205.2,336.3"/>
<circle cx="63.9" cy="377.5" r="1.55" fill="#f0c232" fill-opacity="0.25" stroke="#f0c232" stroke-width="0.8"/>
<circle cx="73.5" cy="374.6" r="1.55" fill="#f0c232" fill-opacity="0.25" stroke="#f0c232" stroke-width="0.8"/>
<circle cx="86" cy="374.6" r="1.55" fill="#f0c232" fill-opacity="0.25" stroke="#f0c232" stroke-width="0.8"/>
<circle cx="91.8" cy="376.9" r="1.55" fill="#f0c232" fill-opacity="0.25" stroke="#f0c232" stroke-width="0.8"/>
<circle cx="97.5" cy="366.9" r="1.55" fill="#f0c232" fill-opacity="0.25" stroke="#f0c232" stroke-width="0.8"/>
<circle cx="103.3" cy="377.5" r="1.55" fill="#f0c232" fill-opacity="0.25" stroke="#f0c232" stroke-width="0.8"/>
<circle cx="113.9" cy="362.5" r="1.55" fill="#f0c232" fill-opacity="0.25" stroke="#f0c232" stroke-width="0.8"/>
<circle cx="126.4" cy="351" r="1.55" fill="#f0c232" fill-opacity="0.25" stroke="#f0c232" stroke-width="0.8"/>
<circle cx="129.2" cy="342.7" r="1.55" fill="#f0c232" fill-opacity="0.25" stroke="#f0c232" stroke-width="0.8"/>
<circle cx="138.8" cy="345" r="1.55" fill="#f0c232" fill-opacity="0.25" stroke="#f0c232" stroke-width="0.8"/>
<circle cx="150.4" cy="335.4" r="1.55" fill="#f0c232" fill-opacity="0.25" stroke="#f0c232" stroke-width="0.8"/>
<circle cx="171.5" cy="335.8" r="1.55" fill="#f0c232" fill-opacity="0.25" stroke="#f0c232" stroke-width="0.8"/>
<circle cx="205.2" cy="336.3" r="1.55" fill="#f0c232" fill-opacity="0.25" stroke="#f0c232" stroke-width="0.8"/>
<polyline fill="none" stroke="#f0c232" stroke-width="0.85" points="112.9,361.3 121.5,359.4 129.2,342.7 150.4,335.4 167.7,346"/>
<circle cx="112.9" cy="361.3" r="1.55" fill="#f0c232" fill-opacity="0.25" stroke="#f0c232" stroke-width="0.8"/>
<circle cx="121.5" cy="359.4" r="1.55" fill="#f0c232" fill-opacity="0.25" stroke="#f0c232" stroke-width="0.8"/>
<circle cx="129.2" cy="342.7" r="1.55" fill="#f0c232" fill-opacity="0.25" stroke="#f0c232" stroke-width="0.8"/>
<circle cx="150.4" cy="335.4" r="1.55" fill="#f0c232" fill-opacity="0.25" stroke="#f0c232" stroke-width="0.8"/>
<circle cx="167.7" cy="346" r="1.55" fill="#f0c232" fill-opacity="0.25" stroke="#f0c232" stroke-width="0.8"/>
<polyline fill="none" stroke="#f0c232" stroke-width="0.85" points="180.6,366.3 224.5,358.2"/>
<circle cx="180.6" cy="366.3" r="1.55" fill="#f0c232" fill-opacity="0.25" stroke="#f0c232" stroke-width="0.8"/>
<circle cx="224.5" cy="358.2" r="1.55" fill="#f0c232" fill-opacity="0.25" stroke="#f0c232" stroke-width="0.8"/>
<polyline fill="none" stroke="#f0c232" stroke-width="0.85" points="77.3,387.5 95.6,382.7 97.5,386.2 102.3,392.7 106.2,389.4 112.9,395.2 119.7,380.8"/>
<circle cx="77.3" cy="387.5" r="1.55" fill="#f0c232" fill-opacity="0.25" stroke="#f0c232" stroke-width="0.8"/>
<circle cx="95.6" cy="382.7" r="1.55" fill="#f0c232" fill-opacity="0.25" stroke="#f0c232" stroke-width="0.8"/>
<circle cx="97.5" cy="386.2" r="1.55" fill="#f0c232" fill-opacity="0.25" stroke="#f0c232" stroke-width="0.8"/>
<circle cx="102.3" cy="392.7" r="1.55" fill="#f0c232" fill-opacity="0.25" stroke="#f0c232" stroke-width="0.8"/>
<circle cx="106.2" cy="389.4" r="1.55" fill="#f0c232" fill-opacity="0.25" stroke="#f0c232" stroke-width="0.8"/>
<circle cx="112.9" cy="395.2" r="1.55" fill="#f0c232" fill-opacity="0.25" stroke="#f0c232" stroke-width="0.8"/>
<circle cx="119.7" cy="380.8" r="1.55" fill="#f0c232" fill-opacity="0.25" stroke="#f0c232" stroke-width="0.8"/>
<polyline fill="none" stroke="#f0c232" stroke-width="0.85" points="88,381 100,380 110,386 120,386.5 130,377.3"/>
<circle cx="88" cy="381" r="1.55" fill="#f0c232" fill-opacity="0.25" stroke="#f0c232" stroke-width="0.8"/>
<circle cx="100" cy="380" r="1.55" fill="#f0c232" fill-opacity="0.25" stroke="#f0c232" stroke-width="0.8"/>
<circle cx="110" cy="386" r="1.55" fill="#f0c232" fill-opacity="0.25" stroke="#f0c232" stroke-width="0.8"/>
<circle cx="120" cy="386.5" r="1.55" fill="#f0c232" fill-opacity="0.25" stroke="#f0c232" stroke-width="0.8"/>
<circle cx="130" cy="377.3" r="1.55" fill="#f0c232" fill-opacity="0.25" stroke="#f0c232" stroke-width="0.8"/>
<polyline fill="none" stroke="#f0c232" stroke-width="0.85" points="60,392 70,385 82,383 92,378 104,374 116,368 126,364"/>
<circle cx="60" cy="392" r="1.55" fill="#f0c232" fill-opacity="0.25" stroke="#f0c232" stroke-width="0.8"/>
<circle cx="70" cy="385" r="1.55" fill="#f0c232" fill-opacity="0.25" stroke="#f0c232" stroke-width="0.8"/>
<circle cx="82" cy="383" r="1.55" fill="#f0c232" fill-opacity="0.25" stroke="#f0c232" stroke-width="0.8"/>
<circle cx="92" cy="378" r="1.55" fill="#f0c232" fill-opacity="0.25" stroke="#f0c232" stroke-width="0.8"/>
<circle cx="104" cy="374" r="1.55" fill="#f0c232" fill-opacity="0.25" stroke="#f0c232" stroke-width="0.8"/>
<circle cx="116" cy="368" r="1.55" fill="#f0c232" fill-opacity="0.25" stroke="#f0c232" stroke-width="0.8"/>
<circle cx="126" cy="364" r="1.55" fill="#f0c232" fill-opacity="0.25" stroke="#f0c232" stroke-width="0.8"/>
<polyline fill="none" stroke="#c42e52" stroke-width="0.85" points="46.6,397.7 64.8,391.3 82.2,390.4 91.8,385.6 99.5,375 112,375 129.6,369.2"/>
<circle cx="46.6" cy="397.7" r="1.55" fill="#c42e52" fill-opacity="0.25" stroke="#c42e52" stroke-width="0.8"/>
<circle cx="64.8" cy="391.3" r="1.55" fill="#c42e52" fill-opacity="0.25" stroke="#c42e52" stroke-width="0.8"/>
<circle cx="82.2" cy="390.4" r="1.55" fill="#c42e52" fill-opacity="0.25" stroke="#c42e52" stroke-width="0.8"/>
<circle cx="91.8" cy="385.6" r="1.55" fill="#c42e52" fill-opacity="0.25" stroke="#c42e52" stroke-width="0.8"/>
<circle cx="99.5" cy="375" r="1.55" fill="#c42e52" fill-opacity="0.25" stroke="#c42e52" stroke-width="0.8"/>
<circle cx="112" cy="375" r="1.55" fill="#c42e52" fill-opacity="0.25" stroke="#c42e52" stroke-width="0.8"/>
<circle cx="129.6" cy="369.2" r="1.55" fill="#c42e52" fill-opacity="0.25" stroke="#c42e52" stroke-width="0.8"/>
<polyline fill="none" stroke="#c42e52" stroke-width="0.85" points="50.4,396.2 62,394 76.4,399.6 83.1,401.5 92.7,401.9 112,402.9"/>
<circle cx="50.4" cy="396.2" r="1.55" fill="#c42e52" fill-opacity="0.25" stroke="#c42e52" stroke-width="0.8"/>
<circle cx="62" cy="394" r="1.55" fill="#c42e52" fill-opacity="0.25" stroke="#c42e52" stroke-width="0.8"/>
<circle cx="76.4" cy="399.6" r="1.55" fill="#c42e52" fill-opacity="0.25" stroke="#c42e52" stroke-width="0.8"/>
<circle cx="83.1" cy="401.5" r="1.55" fill="#c42e52" fill-opacity="0.25" stroke="#c42e52" stroke-width="0.8"/>
<circle cx="92.7" cy="401.9" r="1.55" fill="#c42e52" fill-opacity="0.25" stroke="#c42e52" stroke-width="0.8"/>
<circle cx="112" cy="402.9" r="1.55" fill="#c42e52" fill-opacity="0.25" stroke="#c42e52" stroke-width="0.8"/>
<polyline fill="none" stroke="#c42e52" stroke-width="0.85" points="48,400 60,397 80.2,395.2 90,399"/>
<circle cx="48" cy="400" r="1.55" fill="#c42e52" fill-opacity="0.25" stroke="#c42e52" stroke-width="0.8"/>
<circle cx="60" cy="397" r="1.55" fill="#c42e52" fill-opacity="0.25" stroke="#c42e52" stroke-width="0.8"/>
<circle cx="80.2" cy="395.2" r="1.55" fill="#c42e52" fill-opacity="0.25" stroke="#c42e52" stroke-width="0.8"/>
<circle cx="90" cy="399" r="1.55" fill="#c42e52" fill-opacity="0.25" stroke="#c42e52" stroke-width="0.8"/>
<polyline fill="none" stroke="#c42e52" stroke-width="0.85" points="132.2,396.2"/>
<circle cx="132.2" cy="396.2" r="1.55" fill="#c42e52" fill-opacity="0.25" stroke="#c42e52" stroke-width="0.8"/>
<polyline fill="none" stroke="#6cb045" stroke-width="0.85" points="58.1,386.5"/>
<circle cx="58.1" cy="386.5" r="1.55" fill="#6cb045" fill-opacity="0.25" stroke="#6cb045" stroke-width="0.8"/>
<polyline fill="none" stroke="#6cb045" stroke-width="0.85" points="71.6,396.2"/>
<circle cx="71.6" cy="396.2" r="1.55" fill="#6cb045" fill-opacity="0.25" stroke="#6cb045" stroke-width="0.8"/>
<polyline fill="none" stroke="#6cb045" stroke-width="0.85" points="92.7,397.1"/>
<circle cx="92.7" cy="397.1" r="1.55" fill="#6cb045" fill-opacity="0.25" stroke="#6cb045" stroke-width="0.8"/>
<polyline fill="none" stroke="#6cb045" stroke-width="0.85" points="106.2,398.1"/>
<circle cx="106.2" cy="398.1" r="1.55" fill="#6cb045" fill-opacity="0.25" stroke="#6cb045" stroke-width="0.8"/>
<polyline fill="none" stroke="#6cb045" stroke-width="0.85" points="148.8,390.8"/>
<circle cx="148.8" cy="390.8" r="1.55" fill="#6cb045" fill-opacity="0.25" stroke="#6cb045" stroke-width="0.8"/>
<polyline fill="none" stroke="#6cb045" stroke-width="0.85" points="159.4,390.8"/>
<circle cx="159.4" cy="390.8" r="1.55" fill="#6cb045" fill-opacity="0.25" stroke="#6cb045" stroke-width="0.8"/>
<polyline fill="none" stroke="#6cb045" stroke-width="0.85" points="134.4,392.7 152.7,405.4"/>
<circle cx="134.4" cy="392.7" r="1.55" fill="#6cb045" fill-opacity="0.25" stroke="#6cb045" stroke-width="0.8"/>
<circle cx="152.7" cy="405.4" r="1.55" fill="#6cb045" fill-opacity="0.25" stroke="#6cb045" stroke-width="0.8"/>
<polyline fill="none" stroke="#6cb045" stroke-width="0.85" points="53.3,398 64,401 74,399.5 84.1,400.4 95,403 110,404.5 135,405.4 145,405.4"/>
<circle cx="53.3" cy="398" r="1.55" fill="#6cb045" fill-opacity="0.25" stroke="#6cb045" stroke-width="0.8"/>
<circle cx="64" cy="401" r="1.55" fill="#6cb045" fill-opacity="0.25" stroke="#6cb045" stroke-width="0.8"/>
<circle cx="74" cy="399.5" r="1.55" fill="#6cb045" fill-opacity="0.25" stroke="#6cb045" stroke-width="0.8"/>
<circle cx="84.1" cy="400.4" r="1.55" fill="#6cb045" fill-opacity="0.25" stroke="#6cb045" stroke-width="0.8"/>
<circle cx="95" cy="403" r="1.55" fill="#6cb045" fill-opacity="0.25" stroke="#6cb045" stroke-width="0.8"/>
<circle cx="110" cy="404.5" r="1.55" fill="#6cb045" fill-opacity="0.25" stroke="#6cb045" stroke-width="0.8"/>
<circle cx="135" cy="405.4" r="1.55" fill="#6cb045" fill-opacity="0.25" stroke="#6cb045" stroke-width="0.8"/>
<circle cx="145" cy="405.4" r="1.55" fill="#6cb045" fill-opacity="0.25" stroke="#6cb045" stroke-width="0.8"/>
<polyline fill="none" stroke="#6cb045" stroke-width="0.85" points="56,403 66,399 76,403.5 86,402 98,404.5"/>
<circle cx="56" cy="403" r="1.55" fill="#6cb045" fill-opacity="0.25" stroke="#6cb045" stroke-width="0.8"/>
<circle cx="66" cy="399" r="1.55" fill="#6cb045" fill-opacity="0.25" stroke="#6cb045" stroke-width="0.8"/>
<circle cx="76" cy="403.5" r="1.55" fill="#6cb045" fill-opacity="0.25" stroke="#6cb045" stroke-width="0.8"/>
<circle cx="86" cy="402" r="1.55" fill="#6cb045" fill-opacity="0.25" stroke="#6cb045" stroke-width="0.8"/>
<circle cx="98" cy="404.5" r="1.55" fill="#6cb045" fill-opacity="0.25" stroke="#6cb045" stroke-width="0.8"/>
<polyline fill="none" stroke="#6cb045" stroke-width="0.85" points="60,405 70,402 80,405 90,403"/>
<circle cx="60" cy="405" r="1.55" fill="#6cb045" fill-opacity="0.25" stroke="#6cb045" stroke-width="0.8"/>
<circle cx="70" cy="402" r="1.55" fill="#6cb045" fill-opacity="0.25" stroke="#6cb045" stroke-width="0.8"/>
<circle cx="80" cy="405" r="1.55" fill="#6cb045" fill-opacity="0.25" stroke="#6cb045" stroke-width="0.8"/>
<circle cx="90" cy="403" r="1.55" fill="#6cb045" fill-opacity="0.25" stroke="#6cb045" stroke-width="0.8"/>
<line x1="37.3" y1="405.6" x2="249.12" y2="257.25" stroke="#111" stroke-width="1.3"/>
<path d="M37.3,257.11V406.5H251.04" fill="none" stroke="#252525" stroke-width="1.45"/>
<path d="M37.3,406.5v3M54.82,406.5v3M72.34,406.5v3M89.86,406.5v3M107.38,406.5v3M124.9,406.5v3M142.42,406.5v3M159.94,406.5v3M177.46,406.5v3M194.98,406.5v3M212.5,406.5v3M230.02,406.5v3M247.54,406.5v3M37.3,406.5h-3.1M37.3,394.27h-3.1M37.3,382.05h-3.1M37.3,369.82h-3.1M37.3,357.6h-3.1M37.3,345.38h-3.1M37.3,333.15h-3.1M37.3,320.93h-3.1M37.3,308.7h-3.1M37.3,296.48h-3.1M37.3,284.25h-3.1M37.3,272.02h-3.1M37.3,259.8h-3.1" stroke="#222" stroke-width="0.9"/>
<text x="37.6" y="419.9" font-family="Liberation Sans" font-size="9" text-anchor="middle" textLength="4.5" lengthAdjust="spacingAndGlyphs" fill="#222">0</text>
<text x="31" y="408.9" font-family="Liberation Sans" font-size="9" text-anchor="end" textLength="4.5" lengthAdjust="spacingAndGlyphs" fill="#222">0</text>
<text x="55.12" y="419.9" font-family="Liberation Sans" font-size="9" text-anchor="middle" textLength="4.5" lengthAdjust="spacingAndGlyphs" fill="#222">1</text>
<text x="31" y="396.67" font-family="Liberation Sans" font-size="9" text-anchor="end" textLength="4.5" lengthAdjust="spacingAndGlyphs" fill="#222">1</text>
<text x="72.64" y="419.9" font-family="Liberation Sans" font-size="9" text-anchor="middle" textLength="4.5" lengthAdjust="spacingAndGlyphs" fill="#222">2</text>
<text x="31" y="384.45" font-family="Liberation Sans" font-size="9" text-anchor="end" textLength="4.5" lengthAdjust="spacingAndGlyphs" fill="#222">2</text>
<text x="90.16" y="419.9" font-family="Liberation Sans" font-size="9" text-anchor="middle" textLength="4.5" lengthAdjust="spacingAndGlyphs" fill="#222">3</text>
<text x="31" y="372.22" font-family="Liberation Sans" font-size="9" text-anchor="end" textLength="4.5" lengthAdjust="spacingAndGlyphs" fill="#222">3</text>
<text x="107.68" y="419.9" font-family="Liberation Sans" font-size="9" text-anchor="middle" textLength="4.5" lengthAdjust="spacingAndGlyphs" fill="#222">4</text>
<text x="31" y="360" font-family="Liberation Sans" font-size="9" text-anchor="end" textLength="4.5" lengthAdjust="spacingAndGlyphs" fill="#222">4</text>
<text x="125.2" y="419.9" font-family="Liberation Sans" font-size="9" text-anchor="middle" textLength="4.5" lengthAdjust="spacingAndGlyphs" fill="#222">5</text>
<text x="31" y="347.77" font-family="Liberation Sans" font-size="9" text-anchor="end" textLength="4.5" lengthAdjust="spacingAndGlyphs" fill="#222">5</text>
<text x="142.72" y="419.9" font-family="Liberation Sans" font-size="9" text-anchor="middle" textLength="4.5" lengthAdjust="spacingAndGlyphs" fill="#222">6</text>
<text x="31" y="335.55" font-family="Liberation Sans" font-size="9" text-anchor="end" textLength="4.5" lengthAdjust="spacingAndGlyphs" fill="#222">6</text>
<text x="160.24" y="419.9" font-family="Liberation Sans" font-size="9" text-anchor="middle" textLength="4.5" lengthAdjust="spacingAndGlyphs" fill="#222">7</text>
<text x="31" y="323.32" font-family="Liberation Sans" font-size="9" text-anchor="end" textLength="4.5" lengthAdjust="spacingAndGlyphs" fill="#222">7</text>
<text x="177.76" y="419.9" font-family="Liberation Sans" font-size="9" text-anchor="middle" textLength="4.5" lengthAdjust="spacingAndGlyphs" fill="#222">8</text>
<text x="31" y="311.1" font-family="Liberation Sans" font-size="9" text-anchor="end" textLength="4.5" lengthAdjust="spacingAndGlyphs" fill="#222">8</text>
<text x="195.28" y="419.9" font-family="Liberation Sans" font-size="9" text-anchor="middle" textLength="4.5" lengthAdjust="spacingAndGlyphs" fill="#222">9</text>
<text x="31" y="298.88" font-family="Liberation Sans" font-size="9" text-anchor="end" textLength="4.5" lengthAdjust="spacingAndGlyphs" fill="#222">9</text>
<text x="212.8" y="419.9" font-family="Liberation Sans" font-size="9" text-anchor="middle" textLength="9" lengthAdjust="spacingAndGlyphs" fill="#222">10</text>
<text x="31" y="286.65" font-family="Liberation Sans" font-size="9" text-anchor="end" textLength="9" lengthAdjust="spacingAndGlyphs" fill="#222">10</text>
<text x="230.32" y="419.9" font-family="Liberation Sans" font-size="9" text-anchor="middle" textLength="9" lengthAdjust="spacingAndGlyphs" fill="#222">11</text>
<text x="31" y="274.42" font-family="Liberation Sans" font-size="9" text-anchor="end" textLength="9" lengthAdjust="spacingAndGlyphs" fill="#222">11</text>
<text x="247.84" y="419.9" font-family="Liberation Sans" font-size="9" text-anchor="middle" textLength="9" lengthAdjust="spacingAndGlyphs" fill="#222">12</text>
<text x="31" y="262.2" font-family="Liberation Sans" font-size="9" text-anchor="end" textLength="9" lengthAdjust="spacingAndGlyphs" fill="#222">12</text>
<text x="144.1" y="433.5" font-family="Liberation Sans" font-size="10.2" text-anchor="middle" textLength="72" lengthAdjust="spacingAndGlyphs" fill="#222">Calendar age (years)</text>
<text transform="translate(15.15,331.5) rotate(-90)" x="0" y="0" font-family="Liberation Sans" font-size="10" text-anchor="middle" textLength="94" lengthAdjust="spacingAndGlyphs" fill="#222">Developmental age (years)</text>
<text x="267.85" y="240.3" font-family="Liberation Sans" font-size="12" font-weight="bold">D</text>
<text x="403.75" y="251.8" font-family="Liberation Sans" font-size="10" text-anchor="middle">Expressive Language</text>
<polygon fill="#e1e1e3" points="297.75,406.5 460.54,257.36 509.57,257.36 509.57,302.15"/>
<line x1="297.75" y1="405.6" x2="509.57" y2="257.25" stroke="#fff" stroke-opacity="0.8" stroke-width="2.8"/>
<polyline fill="none" stroke="#3d5d9e" stroke-width="0.85" points="297.6,406 301.8,403.5 315.2,395.8 331.6,385.2 336.4,378.5 351.8,383.3 365.2,378.5 381.6,370.8 393.1,351.5 411.7,348.1 426.2,341.9"/>
<path d="M297.6,404.2l1.6,1.8l-1.6,1.8l-1.6,-1.8z" fill="#3d5d9e" fill-opacity="0.6" stroke="#3d5d9e" stroke-width="0.7"/>
<path d="M301.8,401.7l1.6,1.8l-1.6,1.8l-1.6,-1.8z" fill="#3d5d9e" fill-opacity="0.6" stroke="#3d5d9e" stroke-width="0.7"/>
<path d="M315.2,394l1.6,1.8l-1.6,1.8l-1.6,-1.8z" fill="#3d5d9e" fill-opacity="0.6" stroke="#3d5d9e" stroke-width="0.7"/>
<path d="M331.6,383.4l1.6,1.8l-1.6,1.8l-1.6,-1.8z" fill="#3d5d9e" fill-opacity="0.6" stroke="#3d5d9e" stroke-width="0.7"/>
<path d="M336.4,376.7l1.6,1.8l-1.6,1.8l-1.6,-1.8z" fill="#3d5d9e" fill-opacity="0.6" stroke="#3d5d9e" stroke-width="0.7"/>
<path d="M351.8,381.5l1.6,1.8l-1.6,1.8l-1.6,-1.8z" fill="#3d5d9e" fill-opacity="0.6" stroke="#3d5d9e" stroke-width="0.7"/>
<path d="M365.2,376.7l1.6,1.8l-1.6,1.8l-1.6,-1.8z" fill="#3d5d9e" fill-opacity="0.6" stroke="#3d5d9e" stroke-width="0.7"/>
<path d="M381.6,369l1.6,1.8l-1.6,1.8l-1.6,-1.8z" fill="#3d5d9e" fill-opacity="0.6" stroke="#3d5d9e" stroke-width="0.7"/>
<path d="M393.1,349.7l1.6,1.8l-1.6,1.8l-1.6,-1.8z" fill="#3d5d9e" fill-opacity="0.6" stroke="#3d5d9e" stroke-width="0.7"/>
<path d="M411.7,346.3l1.6,1.8l-1.6,1.8l-1.6,-1.8z" fill="#3d5d9e" fill-opacity="0.6" stroke="#3d5d9e" stroke-width="0.7"/>
<path d="M426.2,340.1l1.6,1.8l-1.6,1.8l-1.6,-1.8z" fill="#3d5d9e" fill-opacity="0.6" stroke="#3d5d9e" stroke-width="0.7"/>
<polyline fill="none" stroke="#3d5d9e" stroke-width="0.85" points="298,405.5 312,397 326,387 340,377 356.6,357.3 361.4,365 373.9,359.2 382.5,355.4 412.7,316.7"/>
<path d="M298,403.7l1.6,1.8l-1.6,1.8l-1.6,-1.8z" fill="#3d5d9e" fill-opacity="0.6" stroke="#3d5d9e" stroke-width="0.7"/>
<path d="M312,395.2l1.6,1.8l-1.6,1.8l-1.6,-1.8z" fill="#3d5d9e" fill-opacity="0.6" stroke="#3d5d9e" stroke-width="0.7"/>
<path d="M326,385.2l1.6,1.8l-1.6,1.8l-1.6,-1.8z" fill="#3d5d9e" fill-opacity="0.6" stroke="#3d5d9e" stroke-width="0.7"/>
<path d="M340,375.2l1.6,1.8l-1.6,1.8l-1.6,-1.8z" fill="#3d5d9e" fill-opacity="0.6" stroke="#3d5d9e" stroke-width="0.7"/>
<path d="M356.6,355.5l1.6,1.8l-1.6,1.8l-1.6,-1.8z" fill="#3d5d9e" fill-opacity="0.6" stroke="#3d5d9e" stroke-width="0.7"/>
<path d="M361.4,363.2l1.6,1.8l-1.6,1.8l-1.6,-1.8z" fill="#3d5d9e" fill-opacity="0.6" stroke="#3d5d9e" stroke-width="0.7"/>
<path d="M373.9,357.4l1.6,1.8l-1.6,1.8l-1.6,-1.8z" fill="#3d5d9e" fill-opacity="0.6" stroke="#3d5d9e" stroke-width="0.7"/>
<path d="M382.5,353.6l1.6,1.8l-1.6,1.8l-1.6,-1.8z" fill="#3d5d9e" fill-opacity="0.6" stroke="#3d5d9e" stroke-width="0.7"/>
<path d="M412.7,314.9l1.6,1.8l-1.6,1.8l-1.6,-1.8z" fill="#3d5d9e" fill-opacity="0.6" stroke="#3d5d9e" stroke-width="0.7"/>
<polyline fill="none" stroke="#3d5d9e" stroke-width="0.85" points="299,405 319.1,391.9 332,386 342.2,376.5 351.8,368.8 361.4,365 383.1,355.7 392.5,351.2 411.4,348.5 426.2,342.3 436.4,335.8"/>
<path d="M299,403.2l1.6,1.8l-1.6,1.8l-1.6,-1.8z" fill="#3d5d9e" fill-opacity="0.6" stroke="#3d5d9e" stroke-width="0.7"/>
<path d="M319.1,390.1l1.6,1.8l-1.6,1.8l-1.6,-1.8z" fill="#3d5d9e" fill-opacity="0.6" stroke="#3d5d9e" stroke-width="0.7"/>
<path d="M332,384.2l1.6,1.8l-1.6,1.8l-1.6,-1.8z" fill="#3d5d9e" fill-opacity="0.6" stroke="#3d5d9e" stroke-width="0.7"/>
<path d="M342.2,374.7l1.6,1.8l-1.6,1.8l-1.6,-1.8z" fill="#3d5d9e" fill-opacity="0.6" stroke="#3d5d9e" stroke-width="0.7"/>
<path d="M351.8,367l1.6,1.8l-1.6,1.8l-1.6,-1.8z" fill="#3d5d9e" fill-opacity="0.6" stroke="#3d5d9e" stroke-width="0.7"/>
<path d="M361.4,363.2l1.6,1.8l-1.6,1.8l-1.6,-1.8z" fill="#3d5d9e" fill-opacity="0.6" stroke="#3d5d9e" stroke-width="0.7"/>
<path d="M383.1,353.9l1.6,1.8l-1.6,1.8l-1.6,-1.8z" fill="#3d5d9e" fill-opacity="0.6" stroke="#3d5d9e" stroke-width="0.7"/>
<path d="M392.5,349.4l1.6,1.8l-1.6,1.8l-1.6,-1.8z" fill="#3d5d9e" fill-opacity="0.6" stroke="#3d5d9e" stroke-width="0.7"/>
<path d="M411.4,346.7l1.6,1.8l-1.6,1.8l-1.6,-1.8z" fill="#3d5d9e" fill-opacity="0.6" stroke="#3d5d9e" stroke-width="0.7"/>
<path d="M426.2,340.5l1.6,1.8l-1.6,1.8l-1.6,-1.8z" fill="#3d5d9e" fill-opacity="0.6" stroke="#3d5d9e" stroke-width="0.7"/>
<path d="M436.4,334l1.6,1.8l-1.6,1.8l-1.6,-1.8z" fill="#3d5d9e" fill-opacity="0.6" stroke="#3d5d9e" stroke-width="0.7"/>
<polyline fill="none" stroke="#3d5d9e" stroke-width="0.85" points="300,404.5 320,390 345,374 360.2,366 373.7,359.8 392.5,345.2 401.9,338.5 437.5,320.7"/>
<path d="M300,402.7l1.6,1.8l-1.6,1.8l-1.6,-1.8z" fill="#3d5d9e" fill-opacity="0.6" stroke="#3d5d9e" stroke-width="0.7"/>
<path d="M320,388.2l1.6,1.8l-1.6,1.8l-1.6,-1.8z" fill="#3d5d9e" fill-opacity="0.6" stroke="#3d5d9e" stroke-width="0.7"/>
<path d="M345,372.2l1.6,1.8l-1.6,1.8l-1.6,-1.8z" fill="#3d5d9e" fill-opacity="0.6" stroke="#3d5d9e" stroke-width="0.7"/>
<path d="M360.2,364.2l1.6,1.8l-1.6,1.8l-1.6,-1.8z" fill="#3d5d9e" fill-opacity="0.6" stroke="#3d5d9e" stroke-width="0.7"/>
<path d="M373.7,358l1.6,1.8l-1.6,1.8l-1.6,-1.8z" fill="#3d5d9e" fill-opacity="0.6" stroke="#3d5d9e" stroke-width="0.7"/>
<path d="M392.5,343.4l1.6,1.8l-1.6,1.8l-1.6,-1.8z" fill="#3d5d9e" fill-opacity="0.6" stroke="#3d5d9e" stroke-width="0.7"/>
<path d="M401.9,336.7l1.6,1.8l-1.6,1.8l-1.6,-1.8z" fill="#3d5d9e" fill-opacity="0.6" stroke="#3d5d9e" stroke-width="0.7"/>
<path d="M437.5,318.9l1.6,1.8l-1.6,1.8l-1.6,-1.8z" fill="#3d5d9e" fill-opacity="0.6" stroke="#3d5d9e" stroke-width="0.7"/>
<polyline fill="none" stroke="#3d5d9e" stroke-width="0.85" points="301,404 325,392 336,380 347,374.6 356.2,357.3"/>
<path d="M301,402.2l1.6,1.8l-1.6,1.8l-1.6,-1.8z" fill="#3d5d9e" fill-opacity="0.6" stroke="#3d5d9e" stroke-width="0.7"/>
<path d="M325,390.2l1.6,1.8l-1.6,1.8l-1.6,-1.8z" fill="#3d5d9e" fill-opacity="0.6" stroke="#3d5d9e" stroke-width="0.7"/>
<path d="M336,378.2l1.6,1.8l-1.6,1.8l-1.6,-1.8z" fill="#3d5d9e" fill-opacity="0.6" stroke="#3d5d9e" stroke-width="0.7"/>
<path d="M347,372.8l1.6,1.8l-1.6,1.8l-1.6,-1.8z" fill="#3d5d9e" fill-opacity="0.6" stroke="#3d5d9e" stroke-width="0.7"/>
<path d="M356.2,355.5l1.6,1.8l-1.6,1.8l-1.6,-1.8z" fill="#3d5d9e" fill-opacity="0.6" stroke="#3d5d9e" stroke-width="0.7"/>
<polyline fill="none" stroke="#3d5d9e" stroke-width="0.85" points="305,402 325,389 337.3,380 347,374.6 361,366 373.9,359.2 382.5,355.4 392.2,345.8"/>
<path d="M305,400.2l1.6,1.8l-1.6,1.8l-1.6,-1.8z" fill="#3d5d9e" fill-opacity="0.6" stroke="#3d5d9e" stroke-width="0.7"/>
<path d="M325,387.2l1.6,1.8l-1.6,1.8l-1.6,-1.8z" fill="#3d5d9e" fill-opacity="0.6" stroke="#3d5d9e" stroke-width="0.7"/>
<path d="M337.3,378.2l1.6,1.8l-1.6,1.8l-1.6,-1.8z" fill="#3d5d9e" fill-opacity="0.6" stroke="#3d5d9e" stroke-width="0.7"/>
<path d="M347,372.8l1.6,1.8l-1.6,1.8l-1.6,-1.8z" fill="#3d5d9e" fill-opacity="0.6" stroke="#3d5d9e" stroke-width="0.7"/>
<path d="M361,364.2l1.6,1.8l-1.6,1.8l-1.6,-1.8z" fill="#3d5d9e" fill-opacity="0.6" stroke="#3d5d9e" stroke-width="0.7"/>
<path d="M373.9,357.4l1.6,1.8l-1.6,1.8l-1.6,-1.8z" fill="#3d5d9e" fill-opacity="0.6" stroke="#3d5d9e" stroke-width="0.7"/>
<path d="M382.5,353.6l1.6,1.8l-1.6,1.8l-1.6,-1.8z" fill="#3d5d9e" fill-opacity="0.6" stroke="#3d5d9e" stroke-width="0.7"/>
<path d="M392.2,344l1.6,1.8l-1.6,1.8l-1.6,-1.8z" fill="#3d5d9e" fill-opacity="0.6" stroke="#3d5d9e" stroke-width="0.7"/>
<polyline fill="none" stroke="#f0c232" stroke-width="0.85" points="329.7,391 339.3,391.9 351.8,390.4 362.3,393.8 374.8,389 380.6,379.4 396,375.6"/>
<circle cx="329.7" cy="391" r="1.55" fill="#f0c232" fill-opacity="0.25" stroke="#f0c232" stroke-width="0.8"/>
<circle cx="339.3" cy="391.9" r="1.55" fill="#f0c232" fill-opacity="0.25" stroke="#f0c232" stroke-width="0.8"/>
<circle cx="351.8" cy="390.4" r="1.55" fill="#f0c232" fill-opacity="0.25" stroke="#f0c232" stroke-width="0.8"/>
<circle cx="362.3" cy="393.8" r="1.55" fill="#f0c232" fill-opacity="0.25" stroke="#f0c232" stroke-width="0.8"/>
<circle cx="374.8" cy="389" r="1.55" fill="#f0c232" fill-opacity="0.25" stroke="#f0c232" stroke-width="0.8"/>
<circle cx="380.6" cy="379.4" r="1.55" fill="#f0c232" fill-opacity="0.25" stroke="#f0c232" stroke-width="0.8"/>
<circle cx="396" cy="375.6" r="1.55" fill="#f0c232" fill-opacity="0.25" stroke="#f0c232" stroke-width="0.8"/>
<polyline fill="none" stroke="#f0c232" stroke-width="0.85" points="336,383 344.1,377.5 353.7,368.8 361.4,369.8 372.9,365 379.7,369.8 390.2,374.6"/>
<circle cx="336" cy="383" r="1.55" fill="#f0c232" fill-opacity="0.25" stroke="#f0c232" stroke-width="0.8"/>
<circle cx="344.1" cy="377.5" r="1.55" fill="#f0c232" fill-opacity="0.25" stroke="#f0c232" stroke-width="0.8"/>
<circle cx="353.7" cy="368.8" r="1.55" fill="#f0c232" fill-opacity="0.25" stroke="#f0c232" stroke-width="0.8"/>
<circle cx="361.4" cy="369.8" r="1.55" fill="#f0c232" fill-opacity="0.25" stroke="#f0c232" stroke-width="0.8"/>
<circle cx="372.9" cy="365" r="1.55" fill="#f0c232" fill-opacity="0.25" stroke="#f0c232" stroke-width="0.8"/>
<circle cx="379.7" cy="369.8" r="1.55" fill="#f0c232" fill-opacity="0.25" stroke="#f0c232" stroke-width="0.8"/>
<circle cx="390.2" cy="374.6" r="1.55" fill="#f0c232" fill-opacity="0.25" stroke="#f0c232" stroke-width="0.8"/>
<polyline fill="none" stroke="#f0c232" stroke-width="0.85" points="330,386 340,380 347.9,381.3 355,376 365,372 380.4,366 389.8,351.2 403.3,337.7 431.5,345.2 465.2,303.2"/>
<circle cx="330" cy="386" r="1.55" fill="#f0c232" fill-opacity="0.25" stroke="#f0c232" stroke-width="0.8"/>
<circle cx="340" cy="380" r="1.55" fill="#f0c232" fill-opacity="0.25" stroke="#f0c232" stroke-width="0.8"/>
<circle cx="347.9" cy="381.3" r="1.55" fill="#f0c232" fill-opacity="0.25" stroke="#f0c232" stroke-width="0.8"/>
<circle cx="355" cy="376" r="1.55" fill="#f0c232" fill-opacity="0.25" stroke="#f0c232" stroke-width="0.8"/>
<circle cx="365" cy="372" r="1.55" fill="#f0c232" fill-opacity="0.25" stroke="#f0c232" stroke-width="0.8"/>
<circle cx="380.4" cy="366" r="1.55" fill="#f0c232" fill-opacity="0.25" stroke="#f0c232" stroke-width="0.8"/>
<circle cx="389.8" cy="351.2" r="1.55" fill="#f0c232" fill-opacity="0.25" stroke="#f0c232" stroke-width="0.8"/>
<circle cx="403.3" cy="337.7" r="1.55" fill="#f0c232" fill-opacity="0.25" stroke="#f0c232" stroke-width="0.8"/>
<circle cx="431.5" cy="345.2" r="1.55" fill="#f0c232" fill-opacity="0.25" stroke="#f0c232" stroke-width="0.8"/>
<circle cx="465.2" cy="303.2" r="1.55" fill="#f0c232" fill-opacity="0.25" stroke="#f0c232" stroke-width="0.8"/>
<polyline fill="none" stroke="#f0c232" stroke-width="0.85" points="380,386.2 411.2,366.5 428.1,365.4"/>
<circle cx="380" cy="386.2" r="1.55" fill="#f0c232" fill-opacity="0.25" stroke="#f0c232" stroke-width="0.8"/>
<circle cx="411.2" cy="366.5" r="1.55" fill="#f0c232" fill-opacity="0.25" stroke="#f0c232" stroke-width="0.8"/>
<circle cx="428.1" cy="365.4" r="1.55" fill="#f0c232" fill-opacity="0.25" stroke="#f0c232" stroke-width="0.8"/>
<polyline fill="none" stroke="#f0c232" stroke-width="0.85" points="440.6,363.5 484.5,352"/>
<circle cx="440.6" cy="363.5" r="1.55" fill="#f0c232" fill-opacity="0.25" stroke="#f0c232" stroke-width="0.8"/>
<circle cx="484.5" cy="352" r="1.55" fill="#f0c232" fill-opacity="0.25" stroke="#f0c232" stroke-width="0.8"/>
<polyline fill="none" stroke="#f0c232" stroke-width="0.85" points="372,368 381,362 392.2,350.6 401.9,342 420,343 431,345.4"/>
<circle cx="372" cy="368" r="1.55" fill="#f0c232" fill-opacity="0.25" stroke="#f0c232" stroke-width="0.8"/>
<circle cx="381" cy="362" r="1.55" fill="#f0c232" fill-opacity="0.25" stroke="#f0c232" stroke-width="0.8"/>
<circle cx="392.2" cy="350.6" r="1.55" fill="#f0c232" fill-opacity="0.25" stroke="#f0c232" stroke-width="0.8"/>
<circle cx="401.9" cy="342" r="1.55" fill="#f0c232" fill-opacity="0.25" stroke="#f0c232" stroke-width="0.8"/>
<circle cx="420" cy="343" r="1.55" fill="#f0c232" fill-opacity="0.25" stroke="#f0c232" stroke-width="0.8"/>
<circle cx="431" cy="345.4" r="1.55" fill="#f0c232" fill-opacity="0.25" stroke="#f0c232" stroke-width="0.8"/>
<polyline fill="none" stroke="#f0c232" stroke-width="0.85" points="335,385 345,383 356,380 368,376 378,378 390.6,374.6"/>
<circle cx="335" cy="385" r="1.55" fill="#f0c232" fill-opacity="0.25" stroke="#f0c232" stroke-width="0.8"/>
<circle cx="345" cy="383" r="1.55" fill="#f0c232" fill-opacity="0.25" stroke="#f0c232" stroke-width="0.8"/>
<circle cx="356" cy="380" r="1.55" fill="#f0c232" fill-opacity="0.25" stroke="#f0c232" stroke-width="0.8"/>
<circle cx="368" cy="376" r="1.55" fill="#f0c232" fill-opacity="0.25" stroke="#f0c232" stroke-width="0.8"/>
<circle cx="378" cy="378" r="1.55" fill="#f0c232" fill-opacity="0.25" stroke="#f0c232" stroke-width="0.8"/>
<circle cx="390.6" cy="374.6" r="1.55" fill="#f0c232" fill-opacity="0.25" stroke="#f0c232" stroke-width="0.8"/>
<polyline fill="none" stroke="#f0c232" stroke-width="0.85" points="334,388 340,384 348,388 356,384 362,386"/>
<circle cx="334" cy="388" r="1.55" fill="#f0c232" fill-opacity="0.25" stroke="#f0c232" stroke-width="0.8"/>
<circle cx="340" cy="384" r="1.55" fill="#f0c232" fill-opacity="0.25" stroke="#f0c232" stroke-width="0.8"/>
<circle cx="348" cy="388" r="1.55" fill="#f0c232" fill-opacity="0.25" stroke="#f0c232" stroke-width="0.8"/>
<circle cx="356" cy="384" r="1.55" fill="#f0c232" fill-opacity="0.25" stroke="#f0c232" stroke-width="0.8"/>
<circle cx="362" cy="386" r="1.55" fill="#f0c232" fill-opacity="0.25" stroke="#f0c232" stroke-width="0.8"/>
<polyline fill="none" stroke="#c42e52" stroke-width="0.85" points="307.5,401.2 313.3,396.7 322.9,393.8 331.6,397.7 340.2,397.7 351.8,397.7 359.5,401.5 372.9,401.5 392.2,401.2"/>
<circle cx="307.5" cy="401.2" r="1.55" fill="#c42e52" fill-opacity="0.25" stroke="#c42e52" stroke-width="0.8"/>
<circle cx="313.3" cy="396.7" r="1.55" fill="#c42e52" fill-opacity="0.25" stroke="#c42e52" stroke-width="0.8"/>
<circle cx="322.9" cy="393.8" r="1.55" fill="#c42e52" fill-opacity="0.25" stroke="#c42e52" stroke-width="0.8"/>
<circle cx="331.6" cy="397.7" r="1.55" fill="#c42e52" fill-opacity="0.25" stroke="#c42e52" stroke-width="0.8"/>
<circle cx="340.2" cy="397.7" r="1.55" fill="#c42e52" fill-opacity="0.25" stroke="#c42e52" stroke-width="0.8"/>
<circle cx="351.8" cy="397.7" r="1.55" fill="#c42e52" fill-opacity="0.25" stroke="#c42e52" stroke-width="0.8"/>
<circle cx="359.5" cy="401.5" r="1.55" fill="#c42e52" fill-opacity="0.25" stroke="#c42e52" stroke-width="0.8"/>
<circle cx="372.9" cy="401.5" r="1.55" fill="#c42e52" fill-opacity="0.25" stroke="#c42e52" stroke-width="0.8"/>
<circle cx="392.2" cy="401.2" r="1.55" fill="#c42e52" fill-opacity="0.25" stroke="#c42e52" stroke-width="0.8"/>
<polyline fill="none" stroke="#c42e52" stroke-width="0.85" points="303,402 316,402.5 326,400.5 336.4,401.9 344.1,402.5 360,403 390.6,403.1"/>
<circle cx="303" cy="402" r="1.55" fill="#c42e52" fill-opacity="0.25" stroke="#c42e52" stroke-width="0.8"/>
<circle cx="316" cy="402.5" r="1.55" fill="#c42e52" fill-opacity="0.25" stroke="#c42e52" stroke-width="0.8"/>
<circle cx="326" cy="400.5" r="1.55" fill="#c42e52" fill-opacity="0.25" stroke="#c42e52" stroke-width="0.8"/>
<circle cx="336.4" cy="401.9" r="1.55" fill="#c42e52" fill-opacity="0.25" stroke="#c42e52" stroke-width="0.8"/>
<circle cx="344.1" cy="402.5" r="1.55" fill="#c42e52" fill-opacity="0.25" stroke="#c42e52" stroke-width="0.8"/>
<circle cx="360" cy="403" r="1.55" fill="#c42e52" fill-opacity="0.25" stroke="#c42e52" stroke-width="0.8"/>
<circle cx="390.6" cy="403.1" r="1.55" fill="#c42e52" fill-opacity="0.25" stroke="#c42e52" stroke-width="0.8"/>
<polyline fill="none" stroke="#c42e52" stroke-width="0.85" points="305,404 318,400 330,403.5 340,404"/>
<circle cx="305" cy="404" r="1.55" fill="#c42e52" fill-opacity="0.25" stroke="#c42e52" stroke-width="0.8"/>
<circle cx="318" cy="400" r="1.55" fill="#c42e52" fill-opacity="0.25" stroke="#c42e52" stroke-width="0.8"/>
<circle cx="330" cy="403.5" r="1.55" fill="#c42e52" fill-opacity="0.25" stroke="#c42e52" stroke-width="0.8"/>
<circle cx="340" cy="404" r="1.55" fill="#c42e52" fill-opacity="0.25" stroke="#c42e52" stroke-width="0.8"/>
<polyline fill="none" stroke="#6cb045" stroke-width="0.85" points="319.1,391.9"/>
<circle cx="319.1" cy="391.9" r="1.55" fill="#6cb045" fill-opacity="0.25" stroke="#6cb045" stroke-width="0.8"/>
<polyline fill="none" stroke="#6cb045" stroke-width="0.85" points="344.1,397.7"/>
<circle cx="344.1" cy="397.7" r="1.55" fill="#6cb045" fill-opacity="0.25" stroke="#6cb045" stroke-width="0.8"/>
<polyline fill="none" stroke="#6cb045" stroke-width="0.85" points="312,402 322,404.5 334,403 346,405 360,404.5 376.8,406.3 395.4,403.1 405,405 413.7,405"/>
<circle cx="312" cy="402" r="1.55" fill="#6cb045" fill-opacity="0.25" stroke="#6cb045" stroke-width="0.8"/>
<circle cx="322" cy="404.5" r="1.55" fill="#6cb045" fill-opacity="0.25" stroke="#6cb045" stroke-width="0.8"/>
<circle cx="334" cy="403" r="1.55" fill="#6cb045" fill-opacity="0.25" stroke="#6cb045" stroke-width="0.8"/>
<circle cx="346" cy="405" r="1.55" fill="#6cb045" fill-opacity="0.25" stroke="#6cb045" stroke-width="0.8"/>
<circle cx="360" cy="404.5" r="1.55" fill="#6cb045" fill-opacity="0.25" stroke="#6cb045" stroke-width="0.8"/>
<circle cx="376.8" cy="406.3" r="1.55" fill="#6cb045" fill-opacity="0.25" stroke="#6cb045" stroke-width="0.8"/>
<circle cx="395.4" cy="403.1" r="1.55" fill="#6cb045" fill-opacity="0.25" stroke="#6cb045" stroke-width="0.8"/>
<circle cx="405" cy="405" r="1.55" fill="#6cb045" fill-opacity="0.25" stroke="#6cb045" stroke-width="0.8"/>
<circle cx="413.7" cy="405" r="1.55" fill="#6cb045" fill-opacity="0.25" stroke="#6cb045" stroke-width="0.8"/>
<polyline fill="none" stroke="#6cb045" stroke-width="0.85" points="316,405 326,402.5 338,405.5 350,403.5 364,405.5"/>
<circle cx="316" cy="405" r="1.55" fill="#6cb045" fill-opacity="0.25" stroke="#6cb045" stroke-width="0.8"/>
<circle cx="326" cy="402.5" r="1.55" fill="#6cb045" fill-opacity="0.25" stroke="#6cb045" stroke-width="0.8"/>
<circle cx="338" cy="405.5" r="1.55" fill="#6cb045" fill-opacity="0.25" stroke="#6cb045" stroke-width="0.8"/>
<circle cx="350" cy="403.5" r="1.55" fill="#6cb045" fill-opacity="0.25" stroke="#6cb045" stroke-width="0.8"/>
<circle cx="364" cy="405.5" r="1.55" fill="#6cb045" fill-opacity="0.25" stroke="#6cb045" stroke-width="0.8"/>
<polyline fill="none" stroke="#6cb045" stroke-width="0.85" points="419.4,403.1"/>
<circle cx="419.4" cy="403.1" r="1.55" fill="#6cb045" fill-opacity="0.25" stroke="#6cb045" stroke-width="0.8"/>
<line x1="297.75" y1="405.6" x2="509.57" y2="257.25" stroke="#111" stroke-width="1.3"/>
<path d="M297.75,257.11V406.5H511.49" fill="none" stroke="#252525" stroke-width="1.45"/>
<path d="M297.75,406.5v3M315.27,406.5v3M332.79,406.5v3M350.31,406.5v3M367.83,406.5v3M385.35,406.5v3M402.87,406.5v3M420.39,406.5v3M437.91,406.5v3M455.43,406.5v3M472.95,406.5v3M490.47,406.5v3M507.99,406.5v3M297.75,406.5h-3.1M297.75,394.27h-3.1M297.75,382.05h-3.1M297.75,369.82h-3.1M297.75,357.6h-3.1M297.75,345.38h-3.1M297.75,333.15h-3.1M297.75,320.93h-3.1M297.75,308.7h-3.1M297.75,296.48h-3.1M297.75,284.25h-3.1M297.75,272.02h-3.1M297.75,259.8h-3.1" stroke="#222" stroke-width="0.9"/>
<text x="298.05" y="419.9" font-family="Liberation Sans" font-size="9" text-anchor="middle" textLength="4.5" lengthAdjust="spacingAndGlyphs" fill="#222">0</text>
<text x="291.45" y="408.9" font-family="Liberation Sans" font-size="9" text-anchor="end" textLength="4.5" lengthAdjust="spacingAndGlyphs" fill="#222">0</text>
<text x="315.57" y="419.9" font-family="Liberation Sans" font-size="9" text-anchor="middle" textLength="4.5" lengthAdjust="spacingAndGlyphs" fill="#222">1</text>
<text x="291.45" y="396.67" font-family="Liberation Sans" font-size="9" text-anchor="end" textLength="4.5" lengthAdjust="spacingAndGlyphs" fill="#222">1</text>
<text x="333.09" y="419.9" font-family="Liberation Sans" font-size="9" text-anchor="middle" textLength="4.5" lengthAdjust="spacingAndGlyphs" fill="#222">2</text>
<text x="291.45" y="384.45" font-family="Liberation Sans" font-size="9" text-anchor="end" textLength="4.5" lengthAdjust="spacingAndGlyphs" fill="#222">2</text>
<text x="350.61" y="419.9" font-family="Liberation Sans" font-size="9" text-anchor="middle" textLength="4.5" lengthAdjust="spacingAndGlyphs" fill="#222">3</text>
<text x="291.45" y="372.22" font-family="Liberation Sans" font-size="9" text-anchor="end" textLength="4.5" lengthAdjust="spacingAndGlyphs" fill="#222">3</text>
<text x="368.13" y="419.9" font-family="Liberation Sans" font-size="9" text-anchor="middle" textLength="4.5" lengthAdjust="spacingAndGlyphs" fill="#222">4</text>
<text x="291.45" y="360" font-family="Liberation Sans" font-size="9" text-anchor="end" textLength="4.5" lengthAdjust="spacingAndGlyphs" fill="#222">4</text>
<text x="385.65" y="419.9" font-family="Liberation Sans" font-size="9" text-anchor="middle" textLength="4.5" lengthAdjust="spacingAndGlyphs" fill="#222">5</text>
<text x="291.45" y="347.77" font-family="Liberation Sans" font-size="9" text-anchor="end" textLength="4.5" lengthAdjust="spacingAndGlyphs" fill="#222">5</text>
<text x="403.17" y="419.9" font-family="Liberation Sans" font-size="9" text-anchor="middle" textLength="4.5" lengthAdjust="spacingAndGlyphs" fill="#222">6</text>
<text x="291.45" y="335.55" font-family="Liberation Sans" font-size="9" text-anchor="end" textLength="4.5" lengthAdjust="spacingAndGlyphs" fill="#222">6</text>
<text x="420.69" y="419.9" font-family="Liberation Sans" font-size="9" text-anchor="middle" textLength="4.5" lengthAdjust="spacingAndGlyphs" fill="#222">7</text>
<text x="291.45" y="323.32" font-family="Liberation Sans" font-size="9" text-anchor="end" textLength="4.5" lengthAdjust="spacingAndGlyphs" fill="#222">7</text>
<text x="438.21" y="419.9" font-family="Liberation Sans" font-size="9" text-anchor="middle" textLength="4.5" lengthAdjust="spacingAndGlyphs" fill="#222">8</text>
<text x="291.45" y="311.1" font-family="Liberation Sans" font-size="9" text-anchor="end" textLength="4.5" lengthAdjust="spacingAndGlyphs" fill="#222">8</text>
<text x="455.73" y="419.9" font-family="Liberation Sans" font-size="9" text-anchor="middle" textLength="4.5" lengthAdjust="spacingAndGlyphs" fill="#222">9</text>
<text x="291.45" y="298.88" font-family="Liberation Sans" font-size="9" text-anchor="end" textLength="4.5" lengthAdjust="spacingAndGlyphs" fill="#222">9</text>
<text x="473.25" y="419.9" font-family="Liberation Sans" font-size="9" text-anchor="middle" textLength="9" lengthAdjust="spacingAndGlyphs" fill="#222">10</text>
<text x="291.45" y="286.65" font-family="Liberation Sans" font-size="9" text-anchor="end" textLength="9" lengthAdjust="spacingAndGlyphs" fill="#222">10</text>
<text x="490.77" y="419.9" font-family="Liberation Sans" font-size="9" text-anchor="middle" textLength="9" lengthAdjust="spacingAndGlyphs" fill="#222">11</text>
<text x="291.45" y="274.42" font-family="Liberation Sans" font-size="9" text-anchor="end" textLength="9" lengthAdjust="spacingAndGlyphs" fill="#222">11</text>
<text x="508.29" y="419.9" font-family="Liberation Sans" font-size="9" text-anchor="middle" textLength="9" lengthAdjust="spacingAndGlyphs" fill="#222">12</text>
<text x="291.45" y="262.2" font-family="Liberation Sans" font-size="9" text-anchor="end" textLength="9" lengthAdjust="spacingAndGlyphs" fill="#222">12</text>
<text x="404.55" y="433.5" font-family="Liberation Sans" font-size="10.2" text-anchor="middle" textLength="72" lengthAdjust="spacingAndGlyphs" fill="#222">Calendar age (years)</text>
<text transform="translate(275.6,331.5) rotate(-90)" x="0" y="0" font-family="Liberation Sans" font-size="10" text-anchor="middle" textLength="94" lengthAdjust="spacingAndGlyphs" fill="#222">Developmental age (years)</text>
<text x="7.4" y="462.6" font-family="Liberation Sans" font-size="12" font-weight="bold">E</text>
<text x="143.3" y="474.1" font-family="Liberation Sans" font-size="10" text-anchor="middle">Gross Motor</text>
<polygon fill="#e1e1e3" points="37.3,628.8 200.09,479.65 249.12,479.65 249.12,524.45"/>
<line x1="37.3" y1="627.9" x2="249.12" y2="479.55" stroke="#fff" stroke-opacity="0.8" stroke-width="2.8"/>
<polyline fill="none" stroke="#3d5d9e" stroke-width="0.85" points="37.4,628.2 40.8,626.2 53.3,621.9 58.1,620.9 62,617.1 72.5,618.1 75.4,611.3 80.2,608.5 91.8,609.4 104.3,609.4 116.8,583.5 121.6,581.5 126.3,572.7 135.2,565.4 138.7,561.9 141.2,549.8 176.7,537.7 205.2,513.5 213,526.1"/>
<path d="M37.4,626.4l1.6,1.8l-1.6,1.8l-1.6,-1.8z" fill="#3d5d9e" fill-opacity="0.6" stroke="#3d5d9e" stroke-width="0.7"/>
<path d="M40.8,624.4l1.6,1.8l-1.6,1.8l-1.6,-1.8z" fill="#3d5d9e" fill-opacity="0.6" stroke="#3d5d9e" stroke-width="0.7"/>
<path d="M53.3,620.1l1.6,1.8l-1.6,1.8l-1.6,-1.8z" fill="#3d5d9e" fill-opacity="0.6" stroke="#3d5d9e" stroke-width="0.7"/>
<path d="M58.1,619.1l1.6,1.8l-1.6,1.8l-1.6,-1.8z" fill="#3d5d9e" fill-opacity="0.6" stroke="#3d5d9e" stroke-width="0.7"/>
<path d="M62,615.3l1.6,1.8l-1.6,1.8l-1.6,-1.8z" fill="#3d5d9e" fill-opacity="0.6" stroke="#3d5d9e" stroke-width="0.7"/>
<path d="M72.5,616.3l1.6,1.8l-1.6,1.8l-1.6,-1.8z" fill="#3d5d9e" fill-opacity="0.6" stroke="#3d5d9e" stroke-width="0.7"/>
<path d="M75.4,609.5l1.6,1.8l-1.6,1.8l-1.6,-1.8z" fill="#3d5d9e" fill-opacity="0.6" stroke="#3d5d9e" stroke-width="0.7"/>
<path d="M80.2,606.7l1.6,1.8l-1.6,1.8l-1.6,-1.8z" fill="#3d5d9e" fill-opacity="0.6" stroke="#3d5d9e" stroke-width="0.7"/>
<path d="M91.8,607.6l1.6,1.8l-1.6,1.8l-1.6,-1.8z" fill="#3d5d9e" fill-opacity="0.6" stroke="#3d5d9e" stroke-width="0.7"/>
<path d="M104.3,607.6l1.6,1.8l-1.6,1.8l-1.6,-1.8z" fill="#3d5d9e" fill-opacity="0.6" stroke="#3d5d9e" stroke-width="0.7"/>
<path d="M116.8,581.7l1.6,1.8l-1.6,1.8l-1.6,-1.8z" fill="#3d5d9e" fill-opacity="0.6" stroke="#3d5d9e" stroke-width="0.7"/>
<path d="M121.6,579.7l1.6,1.8l-1.6,1.8l-1.6,-1.8z" fill="#3d5d9e" fill-opacity="0.6" stroke="#3d5d9e" stroke-width="0.7"/>
<path d="M126.3,570.9l1.6,1.8l-1.6,1.8l-1.6,-1.8z" fill="#3d5d9e" fill-opacity="0.6" stroke="#3d5d9e" stroke-width="0.7"/>
<path d="M135.2,563.6l1.6,1.8l-1.6,1.8l-1.6,-1.8z" fill="#3d5d9e" fill-opacity="0.6" stroke="#3d5d9e" stroke-width="0.7"/>
<path d="M138.7,560.1l1.6,1.8l-1.6,1.8l-1.6,-1.8z" fill="#3d5d9e" fill-opacity="0.6" stroke="#3d5d9e" stroke-width="0.7"/>
<path d="M141.2,548l1.6,1.8l-1.6,1.8l-1.6,-1.8z" fill="#3d5d9e" fill-opacity="0.6" stroke="#3d5d9e" stroke-width="0.7"/>
<path d="M176.7,535.9l1.6,1.8l-1.6,1.8l-1.6,-1.8z" fill="#3d5d9e" fill-opacity="0.6" stroke="#3d5d9e" stroke-width="0.7"/>
<path d="M205.2,511.7l1.6,1.8l-1.6,1.8l-1.6,-1.8z" fill="#3d5d9e" fill-opacity="0.6" stroke="#3d5d9e" stroke-width="0.7"/>
<path d="M213,524.3l1.6,1.8l-1.6,1.8l-1.6,-1.8z" fill="#3d5d9e" fill-opacity="0.6" stroke="#3d5d9e" stroke-width="0.7"/>
<polyline fill="none" stroke="#3d5d9e" stroke-width="0.85" points="38,627.5 50,621 72.5,618.1 95.6,586.9 101.4,587.7 112.9,586.3 132.5,580 151.4,570.5 156,568.1 166.2,547.1 176.7,537.7"/>
<path d="M38,625.7l1.6,1.8l-1.6,1.8l-1.6,-1.8z" fill="#3d5d9e" fill-opacity="0.6" stroke="#3d5d9e" stroke-width="0.7"/>
<path d="M50,619.2l1.6,1.8l-1.6,1.8l-1.6,-1.8z" fill="#3d5d9e" fill-opacity="0.6" stroke="#3d5d9e" stroke-width="0.7"/>
<path d="M72.5,616.3l1.6,1.8l-1.6,1.8l-1.6,-1.8z" fill="#3d5d9e" fill-opacity="0.6" stroke="#3d5d9e" stroke-width="0.7"/>
<path d="M95.6,585.1l1.6,1.8l-1.6,1.8l-1.6,-1.8z" fill="#3d5d9e" fill-opacity="0.6" stroke="#3d5d9e" stroke-width="0.7"/>
<path d="M101.4,585.9l1.6,1.8l-1.6,1.8l-1.6,-1.8z" fill="#3d5d9e" fill-opacity="0.6" stroke="#3d5d9e" stroke-width="0.7"/>
<path d="M112.9,584.5l1.6,1.8l-1.6,1.8l-1.6,-1.8z" fill="#3d5d9e" fill-opacity="0.6" stroke="#3d5d9e" stroke-width="0.7"/>
<path d="M132.5,578.2l1.6,1.8l-1.6,1.8l-1.6,-1.8z" fill="#3d5d9e" fill-opacity="0.6" stroke="#3d5d9e" stroke-width="0.7"/>
<path d="M151.4,568.7l1.6,1.8l-1.6,1.8l-1.6,-1.8z" fill="#3d5d9e" fill-opacity="0.6" stroke="#3d5d9e" stroke-width="0.7"/>
<path d="M156,566.3l1.6,1.8l-1.6,1.8l-1.6,-1.8z" fill="#3d5d9e" fill-opacity="0.6" stroke="#3d5d9e" stroke-width="0.7"/>
<path d="M166.2,545.3l1.6,1.8l-1.6,1.8l-1.6,-1.8z" fill="#3d5d9e" fill-opacity="0.6" stroke="#3d5d9e" stroke-width="0.7"/>
<path d="M176.7,535.9l1.6,1.8l-1.6,1.8l-1.6,-1.8z" fill="#3d5d9e" fill-opacity="0.6" stroke="#3d5d9e" stroke-width="0.7"/>
<polyline fill="none" stroke="#3d5d9e" stroke-width="0.85" points="40,626 55,620 75.4,611.3 99.5,615.2 114.8,614.2 135,610.4"/>
<path d="M40,624.2l1.6,1.8l-1.6,1.8l-1.6,-1.8z" fill="#3d5d9e" fill-opacity="0.6" stroke="#3d5d9e" stroke-width="0.7"/>
<path d="M55,618.2l1.6,1.8l-1.6,1.8l-1.6,-1.8z" fill="#3d5d9e" fill-opacity="0.6" stroke="#3d5d9e" stroke-width="0.7"/>
<path d="M75.4,609.5l1.6,1.8l-1.6,1.8l-1.6,-1.8z" fill="#3d5d9e" fill-opacity="0.6" stroke="#3d5d9e" stroke-width="0.7"/>
<path d="M99.5,613.4l1.6,1.8l-1.6,1.8l-1.6,-1.8z" fill="#3d5d9e" fill-opacity="0.6" stroke="#3d5d9e" stroke-width="0.7"/>
<path d="M114.8,612.4l1.6,1.8l-1.6,1.8l-1.6,-1.8z" fill="#3d5d9e" fill-opacity="0.6" stroke="#3d5d9e" stroke-width="0.7"/>
<path d="M135,608.6l1.6,1.8l-1.6,1.8l-1.6,-1.8z" fill="#3d5d9e" fill-opacity="0.6" stroke="#3d5d9e" stroke-width="0.7"/>
<polyline fill="none" stroke="#3d5d9e" stroke-width="0.85" points="95.6,595"/>
<path d="M95.6,593.2l1.6,1.8l-1.6,1.8l-1.6,-1.8z" fill="#3d5d9e" fill-opacity="0.6" stroke="#3d5d9e" stroke-width="0.7"/>
<polyline fill="none" stroke="#3d5d9e" stroke-width="0.85" points="132,595.5 176.2,591.2"/>
<path d="M132,593.7l1.6,1.8l-1.6,1.8l-1.6,-1.8z" fill="#3d5d9e" fill-opacity="0.6" stroke="#3d5d9e" stroke-width="0.7"/>
<path d="M176.2,589.4l1.6,1.8l-1.6,1.8l-1.6,-1.8z" fill="#3d5d9e" fill-opacity="0.6" stroke="#3d5d9e" stroke-width="0.7"/>
<polyline fill="none" stroke="#3d5d9e" stroke-width="0.85" points="116.9,583.5 126.3,572.7"/>
<path d="M116.9,581.7l1.6,1.8l-1.6,1.8l-1.6,-1.8z" fill="#3d5d9e" fill-opacity="0.6" stroke="#3d5d9e" stroke-width="0.7"/>
<path d="M126.3,570.9l1.6,1.8l-1.6,1.8l-1.6,-1.8z" fill="#3d5d9e" fill-opacity="0.6" stroke="#3d5d9e" stroke-width="0.7"/>
<polyline fill="none" stroke="#3d5d9e" stroke-width="0.85" points="121.8,581.3 152.5,558.7"/>
<path d="M121.8,579.5l1.6,1.8l-1.6,1.8l-1.6,-1.8z" fill="#3d5d9e" fill-opacity="0.6" stroke="#3d5d9e" stroke-width="0.7"/>
<path d="M152.5,556.9l1.6,1.8l-1.6,1.8l-1.6,-1.8z" fill="#3d5d9e" fill-opacity="0.6" stroke="#3d5d9e" stroke-width="0.7"/>
<polyline fill="none" stroke="#3d5d9e" stroke-width="0.85" points="44,624 62,617.1 85,612 95.4,595"/>
<path d="M44,622.2l1.6,1.8l-1.6,1.8l-1.6,-1.8z" fill="#3d5d9e" fill-opacity="0.6" stroke="#3d5d9e" stroke-width="0.7"/>
<path d="M62,615.3l1.6,1.8l-1.6,1.8l-1.6,-1.8z" fill="#3d5d9e" fill-opacity="0.6" stroke="#3d5d9e" stroke-width="0.7"/>
<path d="M85,610.2l1.6,1.8l-1.6,1.8l-1.6,-1.8z" fill="#3d5d9e" fill-opacity="0.6" stroke="#3d5d9e" stroke-width="0.7"/>
<path d="M95.4,593.2l1.6,1.8l-1.6,1.8l-1.6,-1.8z" fill="#3d5d9e" fill-opacity="0.6" stroke="#3d5d9e" stroke-width="0.7"/>
<polyline fill="none" stroke="#f0c232" stroke-width="0.85" points="91.8,606.5 104.3,609.4 112.9,611.3 130.2,610.4"/>
<circle cx="91.8" cy="606.5" r="1.55" fill="#f0c232" fill-opacity="0.25" stroke="#f0c232" stroke-width="0.8"/>
<circle cx="104.3" cy="609.4" r="1.55" fill="#f0c232" fill-opacity="0.25" stroke="#f0c232" stroke-width="0.8"/>
<circle cx="112.9" cy="611.3" r="1.55" fill="#f0c232" fill-opacity="0.25" stroke="#f0c232" stroke-width="0.8"/>
<circle cx="130.2" cy="610.4" r="1.55" fill="#f0c232" fill-opacity="0.25" stroke="#f0c232" stroke-width="0.8"/>
<polyline fill="none" stroke="#f0c232" stroke-width="0.85" points="76.4,616.2 82.2,614.2 90,618 97.5,616.2 102.3,621 111,620 120.6,619.6 128.8,619.5 143,619.5 151.2,620 167.5,620.8 171.2,620 185.5,624.3"/>
<circle cx="76.4" cy="616.2" r="1.55" fill="#f0c232" fill-opacity="0.25" stroke="#f0c232" stroke-width="0.8"/>
<circle cx="82.2" cy="614.2" r="1.55" fill="#f0c232" fill-opacity="0.25" stroke="#f0c232" stroke-width="0.8"/>
<circle cx="90" cy="618" r="1.55" fill="#f0c232" fill-opacity="0.25" stroke="#f0c232" stroke-width="0.8"/>
<circle cx="97.5" cy="616.2" r="1.55" fill="#f0c232" fill-opacity="0.25" stroke="#f0c232" stroke-width="0.8"/>
<circle cx="102.3" cy="621" r="1.55" fill="#f0c232" fill-opacity="0.25" stroke="#f0c232" stroke-width="0.8"/>
<circle cx="111" cy="620" r="1.55" fill="#f0c232" fill-opacity="0.25" stroke="#f0c232" stroke-width="0.8"/>
<circle cx="120.6" cy="619.6" r="1.55" fill="#f0c232" fill-opacity="0.25" stroke="#f0c232" stroke-width="0.8"/>
<circle cx="128.8" cy="619.5" r="1.55" fill="#f0c232" fill-opacity="0.25" stroke="#f0c232" stroke-width="0.8"/>
<circle cx="143" cy="619.5" r="1.55" fill="#f0c232" fill-opacity="0.25" stroke="#f0c232" stroke-width="0.8"/>
<circle cx="151.2" cy="620" r="1.55" fill="#f0c232" fill-opacity="0.25" stroke="#f0c232" stroke-width="0.8"/>
<circle cx="167.5" cy="620.8" r="1.55" fill="#f0c232" fill-opacity="0.25" stroke="#f0c232" stroke-width="0.8"/>
<circle cx="171.2" cy="620" r="1.55" fill="#f0c232" fill-opacity="0.25" stroke="#f0c232" stroke-width="0.8"/>
<circle cx="185.5" cy="624.3" r="1.55" fill="#f0c232" fill-opacity="0.25" stroke="#f0c232" stroke-width="0.8"/>
<polyline fill="none" stroke="#f0c232" stroke-width="0.85" points="73.5,621.9 82,621 91.8,621.9 102.3,621 109.1,625.8 120,624 135,622.5"/>
<circle cx="73.5" cy="621.9" r="1.55" fill="#f0c232" fill-opacity="0.25" stroke="#f0c232" stroke-width="0.8"/>
<circle cx="82" cy="621" r="1.55" fill="#f0c232" fill-opacity="0.25" stroke="#f0c232" stroke-width="0.8"/>
<circle cx="91.8" cy="621.9" r="1.55" fill="#f0c232" fill-opacity="0.25" stroke="#f0c232" stroke-width="0.8"/>
<circle cx="102.3" cy="621" r="1.55" fill="#f0c232" fill-opacity="0.25" stroke="#f0c232" stroke-width="0.8"/>
<circle cx="109.1" cy="625.8" r="1.55" fill="#f0c232" fill-opacity="0.25" stroke="#f0c232" stroke-width="0.8"/>
<circle cx="120" cy="624" r="1.55" fill="#f0c232" fill-opacity="0.25" stroke="#f0c232" stroke-width="0.8"/>
<circle cx="135" cy="622.5" r="1.55" fill="#f0c232" fill-opacity="0.25" stroke="#f0c232" stroke-width="0.8"/>
<polyline fill="none" stroke="#f0c232" stroke-width="0.85" points="65,624 80,626 95,625 110,626.5 140,626 180,628 223.8,628"/>
<circle cx="65" cy="624" r="1.55" fill="#f0c232" fill-opacity="0.25" stroke="#f0c232" stroke-width="0.8"/>
<circle cx="80" cy="626" r="1.55" fill="#f0c232" fill-opacity="0.25" stroke="#f0c232" stroke-width="0.8"/>
<circle cx="95" cy="625" r="1.55" fill="#f0c232" fill-opacity="0.25" stroke="#f0c232" stroke-width="0.8"/>
<circle cx="110" cy="626.5" r="1.55" fill="#f0c232" fill-opacity="0.25" stroke="#f0c232" stroke-width="0.8"/>
<circle cx="140" cy="626" r="1.55" fill="#f0c232" fill-opacity="0.25" stroke="#f0c232" stroke-width="0.8"/>
<circle cx="180" cy="628" r="1.55" fill="#f0c232" fill-opacity="0.25" stroke="#f0c232" stroke-width="0.8"/>
<circle cx="223.8" cy="628" r="1.55" fill="#f0c232" fill-opacity="0.25" stroke="#f0c232" stroke-width="0.8"/>
<polyline fill="none" stroke="#f0c232" stroke-width="0.85" points="70,620 78,612 86,618 94,614 100,620 108,617 120,613.8 130,610"/>
<circle cx="70" cy="620" r="1.55" fill="#f0c232" fill-opacity="0.25" stroke="#f0c232" stroke-width="0.8"/>
<circle cx="78" cy="612" r="1.55" fill="#f0c232" fill-opacity="0.25" stroke="#f0c232" stroke-width="0.8"/>
<circle cx="86" cy="618" r="1.55" fill="#f0c232" fill-opacity="0.25" stroke="#f0c232" stroke-width="0.8"/>
<circle cx="94" cy="614" r="1.55" fill="#f0c232" fill-opacity="0.25" stroke="#f0c232" stroke-width="0.8"/>
<circle cx="100" cy="620" r="1.55" fill="#f0c232" fill-opacity="0.25" stroke="#f0c232" stroke-width="0.8"/>
<circle cx="108" cy="617" r="1.55" fill="#f0c232" fill-opacity="0.25" stroke="#f0c232" stroke-width="0.8"/>
<circle cx="120" cy="613.8" r="1.55" fill="#f0c232" fill-opacity="0.25" stroke="#f0c232" stroke-width="0.8"/>
<circle cx="130" cy="610" r="1.55" fill="#f0c232" fill-opacity="0.25" stroke="#f0c232" stroke-width="0.8"/>
<polyline fill="none" stroke="#c42e52" stroke-width="0.85" points="47.5,627.3 70.6,623.8 90,627 129.3,627.3 165,626.3 217.5,627.5"/>
<circle cx="47.5" cy="627.3" r="1.55" fill="#c42e52" fill-opacity="0.25" stroke="#c42e52" stroke-width="0.8"/>
<circle cx="70.6" cy="623.8" r="1.55" fill="#c42e52" fill-opacity="0.25" stroke="#c42e52" stroke-width="0.8"/>
<circle cx="90" cy="627" r="1.55" fill="#c42e52" fill-opacity="0.25" stroke="#c42e52" stroke-width="0.8"/>
<circle cx="129.3" cy="627.3" r="1.55" fill="#c42e52" fill-opacity="0.25" stroke="#c42e52" stroke-width="0.8"/>
<circle cx="165" cy="626.3" r="1.55" fill="#c42e52" fill-opacity="0.25" stroke="#c42e52" stroke-width="0.8"/>
<circle cx="217.5" cy="627.5" r="1.55" fill="#c42e52" fill-opacity="0.25" stroke="#c42e52" stroke-width="0.8"/>
<polyline fill="none" stroke="#c42e52" stroke-width="0.85" points="40,628 55,627.5 62,628"/>
<circle cx="40" cy="628" r="1.55" fill="#c42e52" fill-opacity="0.25" stroke="#c42e52" stroke-width="0.8"/>
<circle cx="55" cy="627.5" r="1.55" fill="#c42e52" fill-opacity="0.25" stroke="#c42e52" stroke-width="0.8"/>
<circle cx="62" cy="628" r="1.55" fill="#c42e52" fill-opacity="0.25" stroke="#c42e52" stroke-width="0.8"/>
<polyline fill="none" stroke="#6cb045" stroke-width="0.85" points="87.9,610.4"/>
<circle cx="87.9" cy="610.4" r="1.55" fill="#6cb045" fill-opacity="0.25" stroke="#6cb045" stroke-width="0.8"/>
<polyline fill="none" stroke="#6cb045" stroke-width="0.85" points="42,627 48,626.3 54,627.2 60,626 66,627 72,626.3 78,627.3 84,626.5 90,627.3 96,626.3 102,627 108,626.5"/>
<circle cx="42" cy="627" r="1.55" fill="#6cb045" fill-opacity="0.25" stroke="#6cb045" stroke-width="0.8"/>
<circle cx="48" cy="626.3" r="1.55" fill="#6cb045" fill-opacity="0.25" stroke="#6cb045" stroke-width="0.8"/>
<circle cx="54" cy="627.2" r="1.55" fill="#6cb045" fill-opacity="0.25" stroke="#6cb045" stroke-width="0.8"/>
<circle cx="60" cy="626" r="1.55" fill="#6cb045" fill-opacity="0.25" stroke="#6cb045" stroke-width="0.8"/>
<circle cx="66" cy="627" r="1.55" fill="#6cb045" fill-opacity="0.25" stroke="#6cb045" stroke-width="0.8"/>
<circle cx="72" cy="626.3" r="1.55" fill="#6cb045" fill-opacity="0.25" stroke="#6cb045" stroke-width="0.8"/>
<circle cx="78" cy="627.3" r="1.55" fill="#6cb045" fill-opacity="0.25" stroke="#6cb045" stroke-width="0.8"/>
<circle cx="84" cy="626.5" r="1.55" fill="#6cb045" fill-opacity="0.25" stroke="#6cb045" stroke-width="0.8"/>
<circle cx="90" cy="627.3" r="1.55" fill="#6cb045" fill-opacity="0.25" stroke="#6cb045" stroke-width="0.8"/>
<circle cx="96" cy="626.3" r="1.55" fill="#6cb045" fill-opacity="0.25" stroke="#6cb045" stroke-width="0.8"/>
<circle cx="102" cy="627" r="1.55" fill="#6cb045" fill-opacity="0.25" stroke="#6cb045" stroke-width="0.8"/>
<circle cx="108" cy="626.5" r="1.55" fill="#6cb045" fill-opacity="0.25" stroke="#6cb045" stroke-width="0.8"/>
<polyline fill="none" stroke="#6cb045" stroke-width="0.85" points="45,627 52,626 60,627 68,625.8 80,627.2 90,626.2 100,627 110,626.2 120,627.2 133.8,627.3 145,626.8 160,627.3"/>
<circle cx="45" cy="627" r="1.55" fill="#6cb045" fill-opacity="0.25" stroke="#6cb045" stroke-width="0.8"/>
<circle cx="52" cy="626" r="1.55" fill="#6cb045" fill-opacity="0.25" stroke="#6cb045" stroke-width="0.8"/>
<circle cx="60" cy="627" r="1.55" fill="#6cb045" fill-opacity="0.25" stroke="#6cb045" stroke-width="0.8"/>
<circle cx="68" cy="625.8" r="1.55" fill="#6cb045" fill-opacity="0.25" stroke="#6cb045" stroke-width="0.8"/>
<circle cx="80" cy="627.2" r="1.55" fill="#6cb045" fill-opacity="0.25" stroke="#6cb045" stroke-width="0.8"/>
<circle cx="90" cy="626.2" r="1.55" fill="#6cb045" fill-opacity="0.25" stroke="#6cb045" stroke-width="0.8"/>
<circle cx="100" cy="627" r="1.55" fill="#6cb045" fill-opacity="0.25" stroke="#6cb045" stroke-width="0.8"/>
<circle cx="110" cy="626.2" r="1.55" fill="#6cb045" fill-opacity="0.25" stroke="#6cb045" stroke-width="0.8"/>
<circle cx="120" cy="627.2" r="1.55" fill="#6cb045" fill-opacity="0.25" stroke="#6cb045" stroke-width="0.8"/>
<circle cx="133.8" cy="627.3" r="1.55" fill="#6cb045" fill-opacity="0.25" stroke="#6cb045" stroke-width="0.8"/>
<circle cx="145" cy="626.8" r="1.55" fill="#6cb045" fill-opacity="0.25" stroke="#6cb045" stroke-width="0.8"/>
<circle cx="160" cy="627.3" r="1.55" fill="#6cb045" fill-opacity="0.25" stroke="#6cb045" stroke-width="0.8"/>
<line x1="37.3" y1="627.9" x2="249.12" y2="479.55" stroke="#111" stroke-width="1.3"/>
<path d="M37.3,479.41V628.8H251.04" fill="none" stroke="#252525" stroke-width="1.45"/>
<path d="M37.3,628.8v3M54.82,628.8v3M72.34,628.8v3M89.86,628.8v3M107.38,628.8v3M124.9,628.8v3M142.42,628.8v3M159.94,628.8v3M177.46,628.8v3M194.98,628.8v3M212.5,628.8v3M230.02,628.8v3M247.54,628.8v3M37.3,628.8h-3.1M37.3,616.57h-3.1M37.3,604.35h-3.1M37.3,592.12h-3.1M37.3,579.9h-3.1M37.3,567.67h-3.1M37.3,555.45h-3.1M37.3,543.22h-3.1M37.3,531h-3.1M37.3,518.77h-3.1M37.3,506.55h-3.1M37.3,494.32h-3.1M37.3,482.1h-3.1" stroke="#222" stroke-width="0.9"/>
<text x="37.6" y="642.2" font-family="Liberation Sans" font-size="9" text-anchor="middle" textLength="4.5" lengthAdjust="spacingAndGlyphs" fill="#222">0</text>
<text x="31" y="631.2" font-family="Liberation Sans" font-size="9" text-anchor="end" textLength="4.5" lengthAdjust="spacingAndGlyphs" fill="#222">0</text>
<text x="55.12" y="642.2" font-family="Liberation Sans" font-size="9" text-anchor="middle" textLength="4.5" lengthAdjust="spacingAndGlyphs" fill="#222">1</text>
<text x="31" y="618.97" font-family="Liberation Sans" font-size="9" text-anchor="end" textLength="4.5" lengthAdjust="spacingAndGlyphs" fill="#222">1</text>
<text x="72.64" y="642.2" font-family="Liberation Sans" font-size="9" text-anchor="middle" textLength="4.5" lengthAdjust="spacingAndGlyphs" fill="#222">2</text>
<text x="31" y="606.75" font-family="Liberation Sans" font-size="9" text-anchor="end" textLength="4.5" lengthAdjust="spacingAndGlyphs" fill="#222">2</text>
<text x="90.16" y="642.2" font-family="Liberation Sans" font-size="9" text-anchor="middle" textLength="4.5" lengthAdjust="spacingAndGlyphs" fill="#222">3</text>
<text x="31" y="594.52" font-family="Liberation Sans" font-size="9" text-anchor="end" textLength="4.5" lengthAdjust="spacingAndGlyphs" fill="#222">3</text>
<text x="107.68" y="642.2" font-family="Liberation Sans" font-size="9" text-anchor="middle" textLength="4.5" lengthAdjust="spacingAndGlyphs" fill="#222">4</text>
<text x="31" y="582.3" font-family="Liberation Sans" font-size="9" text-anchor="end" textLength="4.5" lengthAdjust="spacingAndGlyphs" fill="#222">4</text>
<text x="125.2" y="642.2" font-family="Liberation Sans" font-size="9" text-anchor="middle" textLength="4.5" lengthAdjust="spacingAndGlyphs" fill="#222">5</text>
<text x="31" y="570.07" font-family="Liberation Sans" font-size="9" text-anchor="end" textLength="4.5" lengthAdjust="spacingAndGlyphs" fill="#222">5</text>
<text x="142.72" y="642.2" font-family="Liberation Sans" font-size="9" text-anchor="middle" textLength="4.5" lengthAdjust="spacingAndGlyphs" fill="#222">6</text>
<text x="31" y="557.85" font-family="Liberation Sans" font-size="9" text-anchor="end" textLength="4.5" lengthAdjust="spacingAndGlyphs" fill="#222">6</text>
<text x="160.24" y="642.2" font-family="Liberation Sans" font-size="9" text-anchor="middle" textLength="4.5" lengthAdjust="spacingAndGlyphs" fill="#222">7</text>
<text x="31" y="545.62" font-family="Liberation Sans" font-size="9" text-anchor="end" textLength="4.5" lengthAdjust="spacingAndGlyphs" fill="#222">7</text>
<text x="177.76" y="642.2" font-family="Liberation Sans" font-size="9" text-anchor="middle" textLength="4.5" lengthAdjust="spacingAndGlyphs" fill="#222">8</text>
<text x="31" y="533.4" font-family="Liberation Sans" font-size="9" text-anchor="end" textLength="4.5" lengthAdjust="spacingAndGlyphs" fill="#222">8</text>
<text x="195.28" y="642.2" font-family="Liberation Sans" font-size="9" text-anchor="middle" textLength="4.5" lengthAdjust="spacingAndGlyphs" fill="#222">9</text>
<text x="31" y="521.17" font-family="Liberation Sans" font-size="9" text-anchor="end" textLength="4.5" lengthAdjust="spacingAndGlyphs" fill="#222">9</text>
<text x="212.8" y="642.2" font-family="Liberation Sans" font-size="9" text-anchor="middle" textLength="9" lengthAdjust="spacingAndGlyphs" fill="#222">10</text>
<text x="31" y="508.95" font-family="Liberation Sans" font-size="9" text-anchor="end" textLength="9" lengthAdjust="spacingAndGlyphs" fill="#222">10</text>
<text x="230.32" y="642.2" font-family="Liberation Sans" font-size="9" text-anchor="middle" textLength="9" lengthAdjust="spacingAndGlyphs" fill="#222">11</text>
<text x="31" y="496.72" font-family="Liberation Sans" font-size="9" text-anchor="end" textLength="9" lengthAdjust="spacingAndGlyphs" fill="#222">11</text>
<text x="247.84" y="642.2" font-family="Liberation Sans" font-size="9" text-anchor="middle" textLength="9" lengthAdjust="spacingAndGlyphs" fill="#222">12</text>
<text x="31" y="484.5" font-family="Liberation Sans" font-size="9" text-anchor="end" textLength="9" lengthAdjust="spacingAndGlyphs" fill="#222">12</text>
<text x="144.1" y="655.8" font-family="Liberation Sans" font-size="10.2" text-anchor="middle" textLength="72" lengthAdjust="spacingAndGlyphs" fill="#222">Calendar age (years)</text>
<text transform="translate(15.15,553.8) rotate(-90)" x="0" y="0" font-family="Liberation Sans" font-size="10" text-anchor="middle" textLength="94" lengthAdjust="spacingAndGlyphs" fill="#222">Developmental age (years)</text>
<text x="267.85" y="462.6" font-family="Liberation Sans" font-size="12" font-weight="bold">F</text>
<text x="403.75" y="474.1" font-family="Liberation Sans" font-size="10" text-anchor="middle">Fine Motor</text>
<polygon fill="#e1e1e3" points="297.75,628.8 460.54,479.65 509.57,479.65 509.57,524.45"/>
<line x1="297.75" y1="627.9" x2="509.57" y2="479.55" stroke="#fff" stroke-opacity="0.8" stroke-width="2.8"/>
<polyline fill="none" stroke="#3d5d9e" stroke-width="0.85" points="297.6,628.2 301.8,626.7 315.2,615.2 322,610.4 331.6,606.5 341.2,608.5 355.6,598.5 359.5,600.8 364.3,600.8 375.8,595 396.2,577 427.5,561.2 443.7,548 465,548.2"/>
<path d="M297.6,626.4l1.6,1.8l-1.6,1.8l-1.6,-1.8z" fill="#3d5d9e" fill-opacity="0.6" stroke="#3d5d9e" stroke-width="0.7"/>
<path d="M301.8,624.9l1.6,1.8l-1.6,1.8l-1.6,-1.8z" fill="#3d5d9e" fill-opacity="0.6" stroke="#3d5d9e" stroke-width="0.7"/>
<path d="M315.2,613.4l1.6,1.8l-1.6,1.8l-1.6,-1.8z" fill="#3d5d9e" fill-opacity="0.6" stroke="#3d5d9e" stroke-width="0.7"/>
<path d="M322,608.6l1.6,1.8l-1.6,1.8l-1.6,-1.8z" fill="#3d5d9e" fill-opacity="0.6" stroke="#3d5d9e" stroke-width="0.7"/>
<path d="M331.6,604.7l1.6,1.8l-1.6,1.8l-1.6,-1.8z" fill="#3d5d9e" fill-opacity="0.6" stroke="#3d5d9e" stroke-width="0.7"/>
<path d="M341.2,606.7l1.6,1.8l-1.6,1.8l-1.6,-1.8z" fill="#3d5d9e" fill-opacity="0.6" stroke="#3d5d9e" stroke-width="0.7"/>
<path d="M355.6,596.7l1.6,1.8l-1.6,1.8l-1.6,-1.8z" fill="#3d5d9e" fill-opacity="0.6" stroke="#3d5d9e" stroke-width="0.7"/>
<path d="M359.5,599l1.6,1.8l-1.6,1.8l-1.6,-1.8z" fill="#3d5d9e" fill-opacity="0.6" stroke="#3d5d9e" stroke-width="0.7"/>
<path d="M364.3,599l1.6,1.8l-1.6,1.8l-1.6,-1.8z" fill="#3d5d9e" fill-opacity="0.6" stroke="#3d5d9e" stroke-width="0.7"/>
<path d="M375.8,593.2l1.6,1.8l-1.6,1.8l-1.6,-1.8z" fill="#3d5d9e" fill-opacity="0.6" stroke="#3d5d9e" stroke-width="0.7"/>
<path d="M396.2,575.2l1.6,1.8l-1.6,1.8l-1.6,-1.8z" fill="#3d5d9e" fill-opacity="0.6" stroke="#3d5d9e" stroke-width="0.7"/>
<path d="M427.5,559.4l1.6,1.8l-1.6,1.8l-1.6,-1.8z" fill="#3d5d9e" fill-opacity="0.6" stroke="#3d5d9e" stroke-width="0.7"/>
<path d="M443.7,546.2l1.6,1.8l-1.6,1.8l-1.6,-1.8z" fill="#3d5d9e" fill-opacity="0.6" stroke="#3d5d9e" stroke-width="0.7"/>
<path d="M465,546.4l1.6,1.8l-1.6,1.8l-1.6,-1.8z" fill="#3d5d9e" fill-opacity="0.6" stroke="#3d5d9e" stroke-width="0.7"/>
<polyline fill="none" stroke="#3d5d9e" stroke-width="0.85" points="298,627.5 310,619 325,608 340,601 355,598 365.2,588.3 372.9,578.7 382.1,568.3 412.5,549.5 416.2,548.2 469.5,515"/>
<path d="M298,625.7l1.6,1.8l-1.6,1.8l-1.6,-1.8z" fill="#3d5d9e" fill-opacity="0.6" stroke="#3d5d9e" stroke-width="0.7"/>
<path d="M310,617.2l1.6,1.8l-1.6,1.8l-1.6,-1.8z" fill="#3d5d9e" fill-opacity="0.6" stroke="#3d5d9e" stroke-width="0.7"/>
<path d="M325,606.2l1.6,1.8l-1.6,1.8l-1.6,-1.8z" fill="#3d5d9e" fill-opacity="0.6" stroke="#3d5d9e" stroke-width="0.7"/>
<path d="M340,599.2l1.6,1.8l-1.6,1.8l-1.6,-1.8z" fill="#3d5d9e" fill-opacity="0.6" stroke="#3d5d9e" stroke-width="0.7"/>
<path d="M355,596.2l1.6,1.8l-1.6,1.8l-1.6,-1.8z" fill="#3d5d9e" fill-opacity="0.6" stroke="#3d5d9e" stroke-width="0.7"/>
<path d="M365.2,586.5l1.6,1.8l-1.6,1.8l-1.6,-1.8z" fill="#3d5d9e" fill-opacity="0.6" stroke="#3d5d9e" stroke-width="0.7"/>
<path d="M372.9,576.9l1.6,1.8l-1.6,1.8l-1.6,-1.8z" fill="#3d5d9e" fill-opacity="0.6" stroke="#3d5d9e" stroke-width="0.7"/>
<path d="M382.1,566.5l1.6,1.8l-1.6,1.8l-1.6,-1.8z" fill="#3d5d9e" fill-opacity="0.6" stroke="#3d5d9e" stroke-width="0.7"/>
<path d="M412.5,547.7l1.6,1.8l-1.6,1.8l-1.6,-1.8z" fill="#3d5d9e" fill-opacity="0.6" stroke="#3d5d9e" stroke-width="0.7"/>
<path d="M416.2,546.4l1.6,1.8l-1.6,1.8l-1.6,-1.8z" fill="#3d5d9e" fill-opacity="0.6" stroke="#3d5d9e" stroke-width="0.7"/>
<path d="M469.5,513.2l1.6,1.8l-1.6,1.8l-1.6,-1.8z" fill="#3d5d9e" fill-opacity="0.6" stroke="#3d5d9e" stroke-width="0.7"/>
<polyline fill="none" stroke="#3d5d9e" stroke-width="0.85" points="299,627 312,618 328,607 345,600 362.3,592.1 372.9,591 381.5,589.6 412.7,548.7"/>
<path d="M299,625.2l1.6,1.8l-1.6,1.8l-1.6,-1.8z" fill="#3d5d9e" fill-opacity="0.6" stroke="#3d5d9e" stroke-width="0.7"/>
<path d="M312,616.2l1.6,1.8l-1.6,1.8l-1.6,-1.8z" fill="#3d5d9e" fill-opacity="0.6" stroke="#3d5d9e" stroke-width="0.7"/>
<path d="M328,605.2l1.6,1.8l-1.6,1.8l-1.6,-1.8z" fill="#3d5d9e" fill-opacity="0.6" stroke="#3d5d9e" stroke-width="0.7"/>
<path d="M345,598.2l1.6,1.8l-1.6,1.8l-1.6,-1.8z" fill="#3d5d9e" fill-opacity="0.6" stroke="#3d5d9e" stroke-width="0.7"/>
<path d="M362.3,590.3l1.6,1.8l-1.6,1.8l-1.6,-1.8z" fill="#3d5d9e" fill-opacity="0.6" stroke="#3d5d9e" stroke-width="0.7"/>
<path d="M372.9,589.2l1.6,1.8l-1.6,1.8l-1.6,-1.8z" fill="#3d5d9e" fill-opacity="0.6" stroke="#3d5d9e" stroke-width="0.7"/>
<path d="M381.5,587.8l1.6,1.8l-1.6,1.8l-1.6,-1.8z" fill="#3d5d9e" fill-opacity="0.6" stroke="#3d5d9e" stroke-width="0.7"/>
<path d="M412.7,546.9l1.6,1.8l-1.6,1.8l-1.6,-1.8z" fill="#3d5d9e" fill-opacity="0.6" stroke="#3d5d9e" stroke-width="0.7"/>
<polyline fill="none" stroke="#3d5d9e" stroke-width="0.85" points="300,626.5 318,614 335,604 355,598 361.2,592.5 365,588.7 372.5,579.5 381.5,583.3 396.2,577 427.5,561.2"/>
<path d="M300,624.7l1.6,1.8l-1.6,1.8l-1.6,-1.8z" fill="#3d5d9e" fill-opacity="0.6" stroke="#3d5d9e" stroke-width="0.7"/>
<path d="M318,612.2l1.6,1.8l-1.6,1.8l-1.6,-1.8z" fill="#3d5d9e" fill-opacity="0.6" stroke="#3d5d9e" stroke-width="0.7"/>
<path d="M335,602.2l1.6,1.8l-1.6,1.8l-1.6,-1.8z" fill="#3d5d9e" fill-opacity="0.6" stroke="#3d5d9e" stroke-width="0.7"/>
<path d="M355,596.2l1.6,1.8l-1.6,1.8l-1.6,-1.8z" fill="#3d5d9e" fill-opacity="0.6" stroke="#3d5d9e" stroke-width="0.7"/>
<path d="M361.2,590.7l1.6,1.8l-1.6,1.8l-1.6,-1.8z" fill="#3d5d9e" fill-opacity="0.6" stroke="#3d5d9e" stroke-width="0.7"/>
<path d="M365,586.9l1.6,1.8l-1.6,1.8l-1.6,-1.8z" fill="#3d5d9e" fill-opacity="0.6" stroke="#3d5d9e" stroke-width="0.7"/>
<path d="M372.5,577.7l1.6,1.8l-1.6,1.8l-1.6,-1.8z" fill="#3d5d9e" fill-opacity="0.6" stroke="#3d5d9e" stroke-width="0.7"/>
<path d="M381.5,581.5l1.6,1.8l-1.6,1.8l-1.6,-1.8z" fill="#3d5d9e" fill-opacity="0.6" stroke="#3d5d9e" stroke-width="0.7"/>
<path d="M396.2,575.2l1.6,1.8l-1.6,1.8l-1.6,-1.8z" fill="#3d5d9e" fill-opacity="0.6" stroke="#3d5d9e" stroke-width="0.7"/>
<path d="M427.5,559.4l1.6,1.8l-1.6,1.8l-1.6,-1.8z" fill="#3d5d9e" fill-opacity="0.6" stroke="#3d5d9e" stroke-width="0.7"/>
<polyline fill="none" stroke="#3d5d9e" stroke-width="0.85" points="301,626 320,612 340,604 355,599 365,599.5 375,595"/>
<path d="M301,624.2l1.6,1.8l-1.6,1.8l-1.6,-1.8z" fill="#3d5d9e" fill-opacity="0.6" stroke="#3d5d9e" stroke-width="0.7"/>
<path d="M320,610.2l1.6,1.8l-1.6,1.8l-1.6,-1.8z" fill="#3d5d9e" fill-opacity="0.6" stroke="#3d5d9e" stroke-width="0.7"/>
<path d="M340,602.2l1.6,1.8l-1.6,1.8l-1.6,-1.8z" fill="#3d5d9e" fill-opacity="0.6" stroke="#3d5d9e" stroke-width="0.7"/>
<path d="M355,597.2l1.6,1.8l-1.6,1.8l-1.6,-1.8z" fill="#3d5d9e" fill-opacity="0.6" stroke="#3d5d9e" stroke-width="0.7"/>
<path d="M365,597.7l1.6,1.8l-1.6,1.8l-1.6,-1.8z" fill="#3d5d9e" fill-opacity="0.6" stroke="#3d5d9e" stroke-width="0.7"/>
<path d="M375,593.2l1.6,1.8l-1.6,1.8l-1.6,-1.8z" fill="#3d5d9e" fill-opacity="0.6" stroke="#3d5d9e" stroke-width="0.7"/>
<polyline fill="none" stroke="#f0c232" stroke-width="0.85" points="331.6,604.6 337.3,605.6 351.8,606.5 357.5,604.6 363.3,605.6 372,608.5 381.2,608.2 390.4,606.6 403.1,605.4 411.2,604.2 427.3,600.3 431.3,602.4"/>
<circle cx="331.6" cy="604.6" r="1.55" fill="#f0c232" fill-opacity="0.25" stroke="#f0c232" stroke-width="0.8"/>
<circle cx="337.3" cy="605.6" r="1.55" fill="#f0c232" fill-opacity="0.25" stroke="#f0c232" stroke-width="0.8"/>
<circle cx="351.8" cy="606.5" r="1.55" fill="#f0c232" fill-opacity="0.25" stroke="#f0c232" stroke-width="0.8"/>
<circle cx="357.5" cy="604.6" r="1.55" fill="#f0c232" fill-opacity="0.25" stroke="#f0c232" stroke-width="0.8"/>
<circle cx="363.3" cy="605.6" r="1.55" fill="#f0c232" fill-opacity="0.25" stroke="#f0c232" stroke-width="0.8"/>
<circle cx="372" cy="608.5" r="1.55" fill="#f0c232" fill-opacity="0.25" stroke="#f0c232" stroke-width="0.8"/>
<circle cx="381.2" cy="608.2" r="1.55" fill="#f0c232" fill-opacity="0.25" stroke="#f0c232" stroke-width="0.8"/>
<circle cx="390.4" cy="606.6" r="1.55" fill="#f0c232" fill-opacity="0.25" stroke="#f0c232" stroke-width="0.8"/>
<circle cx="403.1" cy="605.4" r="1.55" fill="#f0c232" fill-opacity="0.25" stroke="#f0c232" stroke-width="0.8"/>
<circle cx="411.2" cy="604.2" r="1.55" fill="#f0c232" fill-opacity="0.25" stroke="#f0c232" stroke-width="0.8"/>
<circle cx="427.3" cy="600.3" r="1.55" fill="#f0c232" fill-opacity="0.25" stroke="#f0c232" stroke-width="0.8"/>
<circle cx="431.3" cy="602.4" r="1.55" fill="#f0c232" fill-opacity="0.25" stroke="#f0c232" stroke-width="0.8"/>
<polyline fill="none" stroke="#f0c232" stroke-width="0.85" points="338.3,611.3 342.2,616.2 347,613.3 351.8,610.4 357.5,611.3 362.3,621.9 372.9,620.4 379.7,612.3 390.2,606.5"/>
<circle cx="338.3" cy="611.3" r="1.55" fill="#f0c232" fill-opacity="0.25" stroke="#f0c232" stroke-width="0.8"/>
<circle cx="342.2" cy="616.2" r="1.55" fill="#f0c232" fill-opacity="0.25" stroke="#f0c232" stroke-width="0.8"/>
<circle cx="347" cy="613.3" r="1.55" fill="#f0c232" fill-opacity="0.25" stroke="#f0c232" stroke-width="0.8"/>
<circle cx="351.8" cy="610.4" r="1.55" fill="#f0c232" fill-opacity="0.25" stroke="#f0c232" stroke-width="0.8"/>
<circle cx="357.5" cy="611.3" r="1.55" fill="#f0c232" fill-opacity="0.25" stroke="#f0c232" stroke-width="0.8"/>
<circle cx="362.3" cy="621.9" r="1.55" fill="#f0c232" fill-opacity="0.25" stroke="#f0c232" stroke-width="0.8"/>
<circle cx="372.9" cy="620.4" r="1.55" fill="#f0c232" fill-opacity="0.25" stroke="#f0c232" stroke-width="0.8"/>
<circle cx="379.7" cy="612.3" r="1.55" fill="#f0c232" fill-opacity="0.25" stroke="#f0c232" stroke-width="0.8"/>
<circle cx="390.2" cy="606.5" r="1.55" fill="#f0c232" fill-opacity="0.25" stroke="#f0c232" stroke-width="0.8"/>
<polyline fill="none" stroke="#f0c232" stroke-width="0.85" points="340.2,614.2 351.8,608.5 359.5,621.9"/>
<circle cx="340.2" cy="614.2" r="1.55" fill="#f0c232" fill-opacity="0.25" stroke="#f0c232" stroke-width="0.8"/>
<circle cx="351.8" cy="608.5" r="1.55" fill="#f0c232" fill-opacity="0.25" stroke="#f0c232" stroke-width="0.8"/>
<circle cx="359.5" cy="621.9" r="1.55" fill="#f0c232" fill-opacity="0.25" stroke="#f0c232" stroke-width="0.8"/>
<polyline fill="none" stroke="#f0c232" stroke-width="0.85" points="350,622 344,618 351.8,608.5 374.8,608.5"/>
<circle cx="350" cy="622" r="1.55" fill="#f0c232" fill-opacity="0.25" stroke="#f0c232" stroke-width="0.8"/>
<circle cx="344" cy="618" r="1.55" fill="#f0c232" fill-opacity="0.25" stroke="#f0c232" stroke-width="0.8"/>
<circle cx="351.8" cy="608.5" r="1.55" fill="#f0c232" fill-opacity="0.25" stroke="#f0c232" stroke-width="0.8"/>
<circle cx="374.8" cy="608.5" r="1.55" fill="#f0c232" fill-opacity="0.25" stroke="#f0c232" stroke-width="0.8"/>
<polyline fill="none" stroke="#f0c232" stroke-width="0.85" points="351.8,608.5 371,616.2 382.5,612.3"/>
<circle cx="351.8" cy="608.5" r="1.55" fill="#f0c232" fill-opacity="0.25" stroke="#f0c232" stroke-width="0.8"/>
<circle cx="371" cy="616.2" r="1.55" fill="#f0c232" fill-opacity="0.25" stroke="#f0c232" stroke-width="0.8"/>
<circle cx="382.5" cy="612.3" r="1.55" fill="#f0c232" fill-opacity="0.25" stroke="#f0c232" stroke-width="0.8"/>
<polyline fill="none" stroke="#f0c232" stroke-width="0.85" points="321,611.2 334.5,610.4 351.8,608.5 365.2,607.7 380.6,607.7"/>
<circle cx="321" cy="611.2" r="1.55" fill="#f0c232" fill-opacity="0.25" stroke="#f0c232" stroke-width="0.8"/>
<circle cx="334.5" cy="610.4" r="1.55" fill="#f0c232" fill-opacity="0.25" stroke="#f0c232" stroke-width="0.8"/>
<circle cx="351.8" cy="608.5" r="1.55" fill="#f0c232" fill-opacity="0.25" stroke="#f0c232" stroke-width="0.8"/>
<circle cx="365.2" cy="607.7" r="1.55" fill="#f0c232" fill-opacity="0.25" stroke="#f0c232" stroke-width="0.8"/>
<circle cx="380.6" cy="607.7" r="1.55" fill="#f0c232" fill-opacity="0.25" stroke="#f0c232" stroke-width="0.8"/>
<polyline fill="none" stroke="#f0c232" stroke-width="0.85" points="440.5,624.3 485.1,627.8"/>
<circle cx="440.5" cy="624.3" r="1.55" fill="#f0c232" fill-opacity="0.25" stroke="#f0c232" stroke-width="0.8"/>
<circle cx="485.1" cy="627.8" r="1.55" fill="#f0c232" fill-opacity="0.25" stroke="#f0c232" stroke-width="0.8"/>
<polyline fill="none" stroke="#f0c232" stroke-width="0.85" points="326,614 336,613 344,618 352,616 362,619"/>
<circle cx="326" cy="614" r="1.55" fill="#f0c232" fill-opacity="0.25" stroke="#f0c232" stroke-width="0.8"/>
<circle cx="336" cy="613" r="1.55" fill="#f0c232" fill-opacity="0.25" stroke="#f0c232" stroke-width="0.8"/>
<circle cx="344" cy="618" r="1.55" fill="#f0c232" fill-opacity="0.25" stroke="#f0c232" stroke-width="0.8"/>
<circle cx="352" cy="616" r="1.55" fill="#f0c232" fill-opacity="0.25" stroke="#f0c232" stroke-width="0.8"/>
<circle cx="362" cy="619" r="1.55" fill="#f0c232" fill-opacity="0.25" stroke="#f0c232" stroke-width="0.8"/>
<polyline fill="none" stroke="#c42e52" stroke-width="0.85" points="322.9,618.1 330.6,616.2 336.4,625.8 342.2,622.9"/>
<circle cx="322.9" cy="618.1" r="1.55" fill="#c42e52" fill-opacity="0.25" stroke="#c42e52" stroke-width="0.8"/>
<circle cx="330.6" cy="616.2" r="1.55" fill="#c42e52" fill-opacity="0.25" stroke="#c42e52" stroke-width="0.8"/>
<circle cx="336.4" cy="625.8" r="1.55" fill="#c42e52" fill-opacity="0.25" stroke="#c42e52" stroke-width="0.8"/>
<circle cx="342.2" cy="622.9" r="1.55" fill="#c42e52" fill-opacity="0.25" stroke="#c42e52" stroke-width="0.8"/>
<polyline fill="none" stroke="#c42e52" stroke-width="0.85" points="320,622 329.7,625.8"/>
<circle cx="320" cy="622" r="1.55" fill="#c42e52" fill-opacity="0.25" stroke="#c42e52" stroke-width="0.8"/>
<circle cx="329.7" cy="625.8" r="1.55" fill="#c42e52" fill-opacity="0.25" stroke="#c42e52" stroke-width="0.8"/>
<polyline fill="none" stroke="#c42e52" stroke-width="0.85" points="392.7,625.7 425.7,622.7"/>
<circle cx="392.7" cy="625.7" r="1.55" fill="#c42e52" fill-opacity="0.25" stroke="#c42e52" stroke-width="0.8"/>
<circle cx="425.7" cy="622.7" r="1.55" fill="#c42e52" fill-opacity="0.25" stroke="#c42e52" stroke-width="0.8"/>
<polyline fill="none" stroke="#c42e52" stroke-width="0.85" points="300,628 307.5,627.3 314,628"/>
<circle cx="300" cy="628" r="1.55" fill="#c42e52" fill-opacity="0.25" stroke="#c42e52" stroke-width="0.8"/>
<circle cx="307.5" cy="627.3" r="1.55" fill="#c42e52" fill-opacity="0.25" stroke="#c42e52" stroke-width="0.8"/>
<circle cx="314" cy="628" r="1.55" fill="#c42e52" fill-opacity="0.25" stroke="#c42e52" stroke-width="0.8"/>
<polyline fill="none" stroke="#c42e52" stroke-width="0.85" points="392.2,626.2"/>
<circle cx="392.2" cy="626.2" r="1.55" fill="#c42e52" fill-opacity="0.25" stroke="#c42e52" stroke-width="0.8"/>
<polyline fill="none" stroke="#6cb045" stroke-width="0.85" points="305,626.8 310,626 315,627 320,626.2 326,627 332,626.2 338,627 344,626.3 350,627 356,626.2 362,627 368,626.4 374,627 380,626.4 388,627 396,626.5 404,627 412,626.5 420,627"/>
<circle cx="305" cy="626.8" r="1.55" fill="#6cb045" fill-opacity="0.25" stroke="#6cb045" stroke-width="0.8"/>
<circle cx="310" cy="626" r="1.55" fill="#6cb045" fill-opacity="0.25" stroke="#6cb045" stroke-width="0.8"/>
<circle cx="315" cy="627" r="1.55" fill="#6cb045" fill-opacity="0.25" stroke="#6cb045" stroke-width="0.8"/>
<circle cx="320" cy="626.2" r="1.55" fill="#6cb045" fill-opacity="0.25" stroke="#6cb045" stroke-width="0.8"/>
<circle cx="326" cy="627" r="1.55" fill="#6cb045" fill-opacity="0.25" stroke="#6cb045" stroke-width="0.8"/>
<circle cx="332" cy="626.2" r="1.55" fill="#6cb045" fill-opacity="0.25" stroke="#6cb045" stroke-width="0.8"/>
<circle cx="338" cy="627" r="1.55" fill="#6cb045" fill-opacity="0.25" stroke="#6cb045" stroke-width="0.8"/>
<circle cx="344" cy="626.3" r="1.55" fill="#6cb045" fill-opacity="0.25" stroke="#6cb045" stroke-width="0.8"/>
<circle cx="350" cy="627" r="1.55" fill="#6cb045" fill-opacity="0.25" stroke="#6cb045" stroke-width="0.8"/>
<circle cx="356" cy="626.2" r="1.55" fill="#6cb045" fill-opacity="0.25" stroke="#6cb045" stroke-width="0.8"/>
<circle cx="362" cy="627" r="1.55" fill="#6cb045" fill-opacity="0.25" stroke="#6cb045" stroke-width="0.8"/>
<circle cx="368" cy="626.4" r="1.55" fill="#6cb045" fill-opacity="0.25" stroke="#6cb045" stroke-width="0.8"/>
<circle cx="374" cy="627" r="1.55" fill="#6cb045" fill-opacity="0.25" stroke="#6cb045" stroke-width="0.8"/>
<circle cx="380" cy="626.4" r="1.55" fill="#6cb045" fill-opacity="0.25" stroke="#6cb045" stroke-width="0.8"/>
<circle cx="388" cy="627" r="1.55" fill="#6cb045" fill-opacity="0.25" stroke="#6cb045" stroke-width="0.8"/>
<circle cx="396" cy="626.5" r="1.55" fill="#6cb045" fill-opacity="0.25" stroke="#6cb045" stroke-width="0.8"/>
<circle cx="404" cy="627" r="1.55" fill="#6cb045" fill-opacity="0.25" stroke="#6cb045" stroke-width="0.8"/>
<circle cx="412" cy="626.5" r="1.55" fill="#6cb045" fill-opacity="0.25" stroke="#6cb045" stroke-width="0.8"/>
<circle cx="420" cy="627" r="1.55" fill="#6cb045" fill-opacity="0.25" stroke="#6cb045" stroke-width="0.8"/>
<polyline fill="none" stroke="#6cb045" stroke-width="0.85" points="319.1,621.9"/>
<circle cx="319.1" cy="621.9" r="1.55" fill="#6cb045" fill-opacity="0.25" stroke="#6cb045" stroke-width="0.8"/>
<polyline fill="none" stroke="#6cb045" stroke-width="0.85" points="347.9,602.3"/>
<circle cx="347.9" cy="602.3" r="1.55" fill="#6cb045" fill-opacity="0.25" stroke="#6cb045" stroke-width="0.8"/>
<polyline fill="none" stroke="#6cb045" stroke-width="0.85" points="305,627.2 315,626.3 325,627.3 335,626.5 345,627.3 360,626.6 380,627.3 407.7,626.6 420.4,627.3"/>
<circle cx="305" cy="627.2" r="1.55" fill="#6cb045" fill-opacity="0.25" stroke="#6cb045" stroke-width="0.8"/>
<circle cx="315" cy="626.3" r="1.55" fill="#6cb045" fill-opacity="0.25" stroke="#6cb045" stroke-width="0.8"/>
<circle cx="325" cy="627.3" r="1.55" fill="#6cb045" fill-opacity="0.25" stroke="#6cb045" stroke-width="0.8"/>
<circle cx="335" cy="626.5" r="1.55" fill="#6cb045" fill-opacity="0.25" stroke="#6cb045" stroke-width="0.8"/>
<circle cx="345" cy="627.3" r="1.55" fill="#6cb045" fill-opacity="0.25" stroke="#6cb045" stroke-width="0.8"/>
<circle cx="360" cy="626.6" r="1.55" fill="#6cb045" fill-opacity="0.25" stroke="#6cb045" stroke-width="0.8"/>
<circle cx="380" cy="627.3" r="1.55" fill="#6cb045" fill-opacity="0.25" stroke="#6cb045" stroke-width="0.8"/>
<circle cx="407.7" cy="626.6" r="1.55" fill="#6cb045" fill-opacity="0.25" stroke="#6cb045" stroke-width="0.8"/>
<circle cx="420.4" cy="627.3" r="1.55" fill="#6cb045" fill-opacity="0.25" stroke="#6cb045" stroke-width="0.8"/>
<line x1="297.75" y1="627.9" x2="509.57" y2="479.55" stroke="#111" stroke-width="1.3"/>
<path d="M297.75,479.41V628.8H511.49" fill="none" stroke="#252525" stroke-width="1.45"/>
<path d="M297.75,628.8v3M315.27,628.8v3M332.79,628.8v3M350.31,628.8v3M367.83,628.8v3M385.35,628.8v3M402.87,628.8v3M420.39,628.8v3M437.91,628.8v3M455.43,628.8v3M472.95,628.8v3M490.47,628.8v3M507.99,628.8v3M297.75,628.8h-3.1M297.75,616.57h-3.1M297.75,604.35h-3.1M297.75,592.12h-3.1M297.75,579.9h-3.1M297.75,567.67h-3.1M297.75,555.45h-3.1M297.75,543.22h-3.1M297.75,531h-3.1M297.75,518.77h-3.1M297.75,506.55h-3.1M297.75,494.32h-3.1M297.75,482.1h-3.1" stroke="#222" stroke-width="0.9"/>
<text x="298.05" y="642.2" font-family="Liberation Sans" font-size="9" text-anchor="middle" textLength="4.5" lengthAdjust="spacingAndGlyphs" fill="#222">0</text>
<text x="291.45" y="631.2" font-family="Liberation Sans" font-size="9" text-anchor="end" textLength="4.5" lengthAdjust="spacingAndGlyphs" fill="#222">0</text>
<text x="315.57" y="642.2" font-family="Liberation Sans" font-size="9" text-anchor="middle" textLength="4.5" lengthAdjust="spacingAndGlyphs" fill="#222">1</text>
<text x="291.45" y="618.97" font-family="Liberation Sans" font-size="9" text-anchor="end" textLength="4.5" lengthAdjust="spacingAndGlyphs" fill="#222">1</text>
<text x="333.09" y="642.2" font-family="Liberation Sans" font-size="9" text-anchor="middle" textLength="4.5" lengthAdjust="spacingAndGlyphs" fill="#222">2</text>
<text x="291.45" y="606.75" font-family="Liberation Sans" font-size="9" text-anchor="end" textLength="4.5" lengthAdjust="spacingAndGlyphs" fill="#222">2</text>
<text x="350.61" y="642.2" font-family="Liberation Sans" font-size="9" text-anchor="middle" textLength="4.5" lengthAdjust="spacingAndGlyphs" fill="#222">3</text>
<text x="291.45" y="594.52" font-family="Liberation Sans" font-size="9" text-anchor="end" textLength="4.5" lengthAdjust="spacingAndGlyphs" fill="#222">3</text>
<text x="368.13" y="642.2" font-family="Liberation Sans" font-size="9" text-anchor="middle" textLength="4.5" lengthAdjust="spacingAndGlyphs" fill="#222">4</text>
<text x="291.45" y="582.3" font-family="Liberation Sans" font-size="9" text-anchor="end" textLength="4.5" lengthAdjust="spacingAndGlyphs" fill="#222">4</text>
<text x="385.65" y="642.2" font-family="Liberation Sans" font-size="9" text-anchor="middle" textLength="4.5" lengthAdjust="spacingAndGlyphs" fill="#222">5</text>
<text x="291.45" y="570.07" font-family="Liberation Sans" font-size="9" text-anchor="end" textLength="4.5" lengthAdjust="spacingAndGlyphs" fill="#222">5</text>
<text x="403.17" y="642.2" font-family="Liberation Sans" font-size="9" text-anchor="middle" textLength="4.5" lengthAdjust="spacingAndGlyphs" fill="#222">6</text>
<text x="291.45" y="557.85" font-family="Liberation Sans" font-size="9" text-anchor="end" textLength="4.5" lengthAdjust="spacingAndGlyphs" fill="#222">6</text>
<text x="420.69" y="642.2" font-family="Liberation Sans" font-size="9" text-anchor="middle" textLength="4.5" lengthAdjust="spacingAndGlyphs" fill="#222">7</text>
<text x="291.45" y="545.62" font-family="Liberation Sans" font-size="9" text-anchor="end" textLength="4.5" lengthAdjust="spacingAndGlyphs" fill="#222">7</text>
<text x="438.21" y="642.2" font-family="Liberation Sans" font-size="9" text-anchor="middle" textLength="4.5" lengthAdjust="spacingAndGlyphs" fill="#222">8</text>
<text x="291.45" y="533.4" font-family="Liberation Sans" font-size="9" text-anchor="end" textLength="4.5" lengthAdjust="spacingAndGlyphs" fill="#222">8</text>
<text x="455.73" y="642.2" font-family="Liberation Sans" font-size="9" text-anchor="middle" textLength="4.5" lengthAdjust="spacingAndGlyphs" fill="#222">9</text>
<text x="291.45" y="521.17" font-family="Liberation Sans" font-size="9" text-anchor="end" textLength="4.5" lengthAdjust="spacingAndGlyphs" fill="#222">9</text>
<text x="473.25" y="642.2" font-family="Liberation Sans" font-size="9" text-anchor="middle" textLength="9" lengthAdjust="spacingAndGlyphs" fill="#222">10</text>
<text x="291.45" y="508.95" font-family="Liberation Sans" font-size="9" text-anchor="end" textLength="9" lengthAdjust="spacingAndGlyphs" fill="#222">10</text>
<text x="490.77" y="642.2" font-family="Liberation Sans" font-size="9" text-anchor="middle" textLength="9" lengthAdjust="spacingAndGlyphs" fill="#222">11</text>
<text x="291.45" y="496.72" font-family="Liberation Sans" font-size="9" text-anchor="end" textLength="9" lengthAdjust="spacingAndGlyphs" fill="#222">11</text>
<text x="508.29" y="642.2" font-family="Liberation Sans" font-size="9" text-anchor="middle" textLength="9" lengthAdjust="spacingAndGlyphs" fill="#222">12</text>
<text x="291.45" y="484.5" font-family="Liberation Sans" font-size="9" text-anchor="end" textLength="9" lengthAdjust="spacingAndGlyphs" fill="#222">12</text>
<text x="404.55" y="655.8" font-family="Liberation Sans" font-size="10.2" text-anchor="middle" textLength="72" lengthAdjust="spacingAndGlyphs" fill="#222">Calendar age (years)</text>
<text transform="translate(275.6,553.8) rotate(-90)" x="0" y="0" font-family="Liberation Sans" font-size="10" text-anchor="middle" textLength="94" lengthAdjust="spacingAndGlyphs" fill="#222">Developmental age (years)</text>
<line x1="70" y1="665.8" x2="99.5" y2="665.8" stroke="#8a9bc8" stroke-width="1.3"/>
<path d="M84.8,662.4 L88.7,669.2 L80.9,669.2 Z" fill="none" stroke="#3d5d9e" stroke-width="1"/>
<text x="103" y="668.6" font-family="Liberation Sans" font-size="8.6" textLength="50.2" lengthAdjust="spacingAndGlyphs" fill="#222">Asymptomatic</text>
<line x1="70" y1="677.5" x2="99.5" y2="677.5" stroke="#7cbb55" stroke-width="1"/>
<circle cx="84.8" cy="677.4" r="3.9" fill="none" stroke="#6cb045" stroke-width="0.9"/>
<text x="103" y="680.3" font-family="Liberation Sans" font-size="8.6" textLength="35" lengthAdjust="spacingAndGlyphs" fill="#222">Untreated</text>
<line x1="168.8" y1="665.8" x2="198.5" y2="665.8" stroke="#d98ba0" stroke-width="1.3"/>
<circle cx="183.5" cy="665.8" r="3.9" fill="none" stroke="#c42e52" stroke-width="0.9"/>
<text x="201.5" y="668.6" font-family="Liberation Sans" font-size="8.6" textLength="113.2" lengthAdjust="spacingAndGlyphs" fill="#222">Symptomatic onset ≤ 12 months</text>
<line x1="168.8" y1="677.4" x2="198.5" y2="677.4" stroke="#f0c232" stroke-width="0.9"/>
<circle cx="183.5" cy="677.4" r="3.9" fill="none" stroke="#f0c232" stroke-width="0.9"/>
<text x="201.5" y="680.3" font-family="Liberation Sans" font-size="8.6" textLength="111.2" lengthAdjust="spacingAndGlyphs" fill="#222">Symptomatic onset &gt;12 months</text>
<rect x="330.5" y="664.1" width="29" height="3.6" fill="#dcdcde"/>
<text x="363.3" y="668.6" font-family="Liberation Sans" font-size="8.6" textLength="86.5" lengthAdjust="spacingAndGlyphs" fill="#222">~ 95% Normal Variability</text>
<line x1="330.5" y1="677.5" x2="359.5" y2="677.5" stroke="#3a4060" stroke-width="0.9"/>
<text x="363.3" y="680.3" font-family="Liberation Sans" font-size="8.6" textLength="74.7" lengthAdjust="spacingAndGlyphs" fill="#222">Normal Development</text>
<rect x="0.6" y="0.6" width="518.8" height="687.8" fill="none" stroke="#000" stroke-width="1.3"/>
</svg>
</body></html>
